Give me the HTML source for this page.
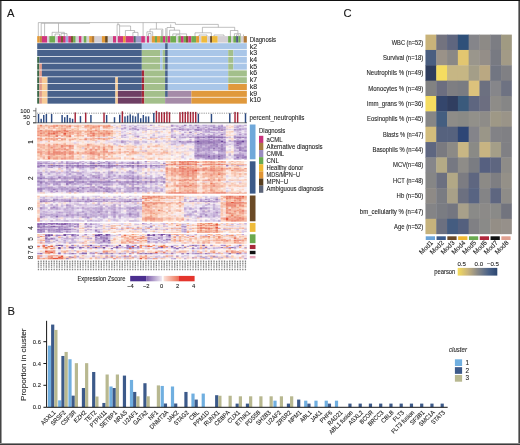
<!DOCTYPE html>
<html><head><meta charset="utf-8"><style>
html,body{margin:0;padding:0;background:#fff;}
svg{display:block;will-change:transform;}
text{stroke:#2a2a2a;stroke-width:0.1px;}
</style></head><body>
<svg width="520" height="445" viewBox="0 0 520 445" font-family='"Liberation Sans", sans-serif'>
<rect width="520" height="445" fill="#fff"/>
<rect x="37.2" y="36.1" width="2.45" height="6.5" fill="#e39a36"/>
<rect x="39.6" y="36.1" width="2.35" height="6.5" fill="#c08a40"/>
<rect x="41.9" y="36.1" width="5.35" height="6.5" fill="#d0357e"/>
<rect x="47.2" y="36.1" width="2.15" height="6.5" fill="#d4cfd4"/>
<rect x="49.3" y="36.1" width="5.85" height="6.5" fill="#70ab50"/>
<rect x="55.1" y="36.1" width="2.75" height="6.5" fill="#d4cfd4"/>
<rect x="57.8" y="36.1" width="3.15" height="6.5" fill="#d0357e"/>
<rect x="60.9" y="36.1" width="2.15" height="6.5" fill="#7a5a30"/>
<rect x="63" y="36.1" width="2.75" height="6.5" fill="#d0357e"/>
<rect x="65.7" y="36.1" width="2.65" height="6.5" fill="#a2a6d8"/>
<rect x="68.3" y="36.1" width="2.75" height="6.5" fill="#d0357e"/>
<rect x="71" y="36.1" width="2.15" height="6.5" fill="#7a5a30"/>
<rect x="73.1" y="36.1" width="2.65" height="6.5" fill="#70ab50"/>
<rect x="75.7" y="36.1" width="3.25" height="6.5" fill="#d4cfd4"/>
<rect x="78.9" y="36.1" width="2.75" height="6.5" fill="#d0357e"/>
<rect x="81.6" y="36.1" width="2.15" height="6.5" fill="#d4cfd4"/>
<rect x="83.7" y="36.1" width="2.95" height="6.5" fill="#70ab50"/>
<rect x="86.6" y="36.1" width="2.65" height="6.5" fill="#d4cfd4"/>
<rect x="89.2" y="36.1" width="2.75" height="6.5" fill="#e39a36"/>
<rect x="91.9" y="36.1" width="2.65" height="6.5" fill="#b07a3a"/>
<rect x="94.5" y="36.1" width="7.45" height="6.5" fill="#d4cfd4"/>
<rect x="101.9" y="36.1" width="3.25" height="6.5" fill="#e39a36"/>
<rect x="105.1" y="36.1" width="2.75" height="6.5" fill="#6b4a20"/>
<rect x="107.8" y="36.1" width="5.25" height="6.5" fill="#d4cfd4"/>
<rect x="113" y="36.1" width="3.25" height="6.5" fill="#d0357e"/>
<rect x="116.2" y="36.1" width="1.65" height="6.5" fill="#d4cfd4"/>
<rect x="117.8" y="36.1" width="5.35" height="6.5" fill="#d0357e"/>
<rect x="123.1" y="36.1" width="2.65" height="6.5" fill="#e39a36"/>
<rect x="125.7" y="36.1" width="8.05" height="6.5" fill="#d0357e"/>
<rect x="133.7" y="36.1" width="2.15" height="6.5" fill="#4a6a6a"/>
<rect x="135.8" y="36.1" width="5.45" height="6.5" fill="#a09ac8"/>
<rect x="141.2" y="36.1" width="3.75" height="6.5" fill="#d0357e"/>
<rect x="144.9" y="36.1" width="2.15" height="6.5" fill="#d4cfd4"/>
<rect x="147" y="36.1" width="2.15" height="6.5" fill="#d0357e"/>
<rect x="149.1" y="36.1" width="2.75" height="6.5" fill="#d4cfd4"/>
<rect x="151.8" y="36.1" width="3.15" height="6.5" fill="#e39a36"/>
<rect x="154.9" y="36.1" width="2.15" height="6.5" fill="#70ab50"/>
<rect x="157" y="36.1" width="3.25" height="6.5" fill="#e39a36"/>
<rect x="160.2" y="36.1" width="2.75" height="6.5" fill="#70ab50"/>
<rect x="162.9" y="36.1" width="2.65" height="6.5" fill="#d0357e"/>
<rect x="165.5" y="36.1" width="2.15" height="6.5" fill="#70ab50"/>
<rect x="167.6" y="36.1" width="2.75" height="6.5" fill="#d0357e"/>
<rect x="170.3" y="36.1" width="5.85" height="6.5" fill="#70ab50"/>
<rect x="176.1" y="36.1" width="2.25" height="6.5" fill="#d4cfd4"/>
<rect x="178.3" y="36.1" width="2.65" height="6.5" fill="#70ab50"/>
<rect x="180.9" y="36.1" width="2.85" height="6.5" fill="#d0357e"/>
<rect x="183.7" y="36.1" width="2.35" height="6.5" fill="#70ab50"/>
<rect x="186" y="36.1" width="2.35" height="6.5" fill="#7a5a30"/>
<rect x="188.3" y="36.1" width="3.05" height="6.5" fill="#d0357e"/>
<rect x="191.3" y="36.1" width="4.85" height="6.5" fill="#70ab50"/>
<rect x="196.1" y="36.1" width="2.95" height="6.5" fill="#e39a36"/>
<rect x="199" y="36.1" width="2.35" height="6.5" fill="#d4cfd4"/>
<rect x="201.3" y="36.1" width="6.05" height="6.5" fill="#efba3c"/>
<rect x="207.3" y="36.1" width="2.95" height="6.5" fill="#d4cfd4"/>
<rect x="210.2" y="36.1" width="1.75" height="6.5" fill="#5a3a14"/>
<rect x="211.9" y="36.1" width="5.85" height="6.5" fill="#efba3c"/>
<rect x="217.7" y="36.1" width="10.45" height="6.5" fill="#d4cfd4"/>
<rect x="228.1" y="36.1" width="2.95" height="6.5" fill="#70ab50"/>
<rect x="231" y="36.1" width="2.35" height="6.5" fill="#d4cfd4"/>
<rect x="233.3" y="36.1" width="2.85" height="6.5" fill="#70ab50"/>
<rect x="236.1" y="36.1" width="2.35" height="6.5" fill="#505a80"/>
<rect x="238.4" y="36.1" width="2.35" height="6.5" fill="#70ab50"/>
<rect x="240.7" y="36.1" width="2.95" height="6.5" fill="#d4cfd4"/>
<rect x="243.6" y="36.1" width="3.25" height="6.5" fill="#b07a3a"/>
<rect x="37.2" y="43.2" width="104.65" height="6.05" fill="#48618b"/>
<rect x="141.8" y="43.2" width="23.35" height="6.05" fill="#a9c6e8"/>
<rect x="165.1" y="43.2" width="2.75" height="6.05" fill="#48618b"/>
<rect x="167.8" y="43.2" width="79.05" height="6.05" fill="#a9c6e8"/>
<rect x="37.2" y="50" width="104.65" height="6.05" fill="#48618b"/>
<rect x="141.8" y="50" width="18.35" height="6.05" fill="#a3bf8b"/>
<rect x="160.1" y="50" width="2.55" height="6.05" fill="#a9c6e8"/>
<rect x="162.6" y="50" width="2.55" height="6.05" fill="#a3bf8b"/>
<rect x="165.1" y="50" width="2.75" height="6.05" fill="#48618b"/>
<rect x="167.8" y="50" width="60.45" height="6.05" fill="#a9c6e8"/>
<rect x="228.2" y="50" width="5.25" height="6.05" fill="#a3bf8b"/>
<rect x="233.4" y="50" width="13.45" height="6.05" fill="#a9c6e8"/>
<rect x="37.2" y="56.8" width="2.15" height="6.05" fill="#3a6747"/>
<rect x="39.3" y="56.8" width="102.55" height="6.05" fill="#48618b"/>
<rect x="141.8" y="56.8" width="18.35" height="6.05" fill="#a3bf8b"/>
<rect x="160.1" y="56.8" width="2.55" height="6.05" fill="#a9c6e8"/>
<rect x="162.6" y="56.8" width="2.55" height="6.05" fill="#a3bf8b"/>
<rect x="165.1" y="56.8" width="2.75" height="6.05" fill="#48618b"/>
<rect x="167.8" y="56.8" width="60.45" height="6.05" fill="#a9c6e8"/>
<rect x="228.2" y="56.8" width="5.25" height="6.05" fill="#a3bf8b"/>
<rect x="233.4" y="56.8" width="13.45" height="6.05" fill="#a9c6e8"/>
<rect x="37.2" y="63.6" width="2.15" height="6.05" fill="#3a6747"/>
<rect x="39.3" y="63.6" width="2.65" height="6.05" fill="#e09a8a"/>
<rect x="41.9" y="63.6" width="99.95" height="6.05" fill="#48618b"/>
<rect x="141.8" y="63.6" width="18.35" height="6.05" fill="#a3bf8b"/>
<rect x="160.1" y="63.6" width="2.55" height="6.05" fill="#a9c6e8"/>
<rect x="162.6" y="63.6" width="2.55" height="6.05" fill="#a3bf8b"/>
<rect x="165.1" y="63.6" width="2.75" height="6.05" fill="#48618b"/>
<rect x="167.8" y="63.6" width="60.45" height="6.05" fill="#a9c6e8"/>
<rect x="228.2" y="63.6" width="5.25" height="6.05" fill="#a3bf8b"/>
<rect x="233.4" y="63.6" width="13.45" height="6.05" fill="#a9c6e8"/>
<rect x="37.2" y="70.4" width="2.15" height="6.05" fill="#3a6747"/>
<rect x="39.3" y="70.4" width="2.65" height="6.05" fill="#e09a8a"/>
<rect x="41.9" y="70.4" width="99.95" height="6.05" fill="#48618b"/>
<rect x="141.8" y="70.4" width="2.55" height="6.05" fill="#a6283a"/>
<rect x="144.3" y="70.4" width="20.85" height="6.05" fill="#a3bf8b"/>
<rect x="165.1" y="70.4" width="2.75" height="6.05" fill="#48618b"/>
<rect x="167.8" y="70.4" width="60.45" height="6.05" fill="#a9c6e8"/>
<rect x="228.2" y="70.4" width="18.65" height="6.05" fill="#a3bf8b"/>
<rect x="37.2" y="77.2" width="2.15" height="6.05" fill="#3a6747"/>
<rect x="39.3" y="77.2" width="2.65" height="6.05" fill="#e09a8a"/>
<rect x="41.9" y="77.2" width="5.65" height="6.05" fill="#f6cb97"/>
<rect x="47.5" y="77.2" width="67.95" height="6.05" fill="#48618b"/>
<rect x="115.4" y="77.2" width="2.55" height="6.05" fill="#f6cb97"/>
<rect x="117.9" y="77.2" width="23.95" height="6.05" fill="#48618b"/>
<rect x="141.8" y="77.2" width="2.55" height="6.05" fill="#a6283a"/>
<rect x="144.3" y="77.2" width="20.85" height="6.05" fill="#a3bf8b"/>
<rect x="165.1" y="77.2" width="2.75" height="6.05" fill="#48618b"/>
<rect x="167.8" y="77.2" width="60.45" height="6.05" fill="#a9c6e8"/>
<rect x="228.2" y="77.2" width="18.65" height="6.05" fill="#a3bf8b"/>
<rect x="37.2" y="84" width="2.15" height="6.05" fill="#3a6747"/>
<rect x="39.3" y="84" width="2.65" height="6.05" fill="#e09a8a"/>
<rect x="41.9" y="84" width="5.65" height="6.05" fill="#f6cb97"/>
<rect x="47.5" y="84" width="67.95" height="6.05" fill="#48618b"/>
<rect x="115.4" y="84" width="2.55" height="6.05" fill="#f6cb97"/>
<rect x="117.9" y="84" width="23.95" height="6.05" fill="#48618b"/>
<rect x="141.8" y="84" width="2.55" height="6.05" fill="#a6283a"/>
<rect x="144.3" y="84" width="20.85" height="6.05" fill="#a3bf8b"/>
<rect x="165.1" y="84" width="2.75" height="6.05" fill="#48618b"/>
<rect x="167.8" y="84" width="60.45" height="6.05" fill="#a9c6e8"/>
<rect x="228.2" y="84" width="18.65" height="6.05" fill="#e0993c"/>
<rect x="37.2" y="90.8" width="2.15" height="6.05" fill="#3a6747"/>
<rect x="39.3" y="90.8" width="2.65" height="6.05" fill="#e09a8a"/>
<rect x="41.9" y="90.8" width="5.65" height="6.05" fill="#f6cb97"/>
<rect x="47.5" y="90.8" width="67.95" height="6.05" fill="#48618b"/>
<rect x="115.4" y="90.8" width="2.55" height="6.05" fill="#f6cb97"/>
<rect x="117.9" y="90.8" width="23.95" height="6.05" fill="#6e3f64"/>
<rect x="141.8" y="90.8" width="2.55" height="6.05" fill="#a6283a"/>
<rect x="144.3" y="90.8" width="20.85" height="6.05" fill="#a3bf8b"/>
<rect x="165.1" y="90.8" width="2.75" height="6.05" fill="#48618b"/>
<rect x="167.8" y="90.8" width="23.65" height="6.05" fill="#a58ba8"/>
<rect x="191.4" y="90.8" width="55.45" height="6.05" fill="#e0993c"/>
<rect x="37.2" y="97.6" width="2.15" height="6.05" fill="#3a6747"/>
<rect x="39.3" y="97.6" width="2.65" height="6.05" fill="#e09a8a"/>
<rect x="41.9" y="97.6" width="5.65" height="6.05" fill="#f6cb97"/>
<rect x="47.5" y="97.6" width="67.95" height="6.05" fill="#48618b"/>
<rect x="115.4" y="97.6" width="2.55" height="6.05" fill="#f6cb97"/>
<rect x="117.9" y="97.6" width="23.95" height="6.05" fill="#6e3f64"/>
<rect x="141.8" y="97.6" width="2.55" height="6.05" fill="#a6283a"/>
<rect x="144.3" y="97.6" width="20.85" height="6.05" fill="#a3bf8b"/>
<rect x="165.1" y="97.6" width="26.35" height="6.05" fill="#a58ba8"/>
<rect x="191.4" y="97.6" width="55.45" height="6.05" fill="#e0993c"/>
<text x="249.8" y="41.6" font-size="6.6" fill="#222" textLength="26.2" lengthAdjust="spacingAndGlyphs">Diagnosis</text>
<text x="249.7" y="48.6" font-size="6.9" fill="#222">k2</text>
<text x="249.7" y="55.3" font-size="6.9" fill="#222">k3</text>
<text x="249.7" y="62" font-size="6.9" fill="#222">k4</text>
<text x="249.7" y="68.7" font-size="6.9" fill="#222">k5</text>
<text x="249.7" y="75.4" font-size="6.9" fill="#222">k6</text>
<text x="249.7" y="82.1" font-size="6.9" fill="#222">k7</text>
<text x="249.7" y="88.8" font-size="6.9" fill="#222">k8</text>
<text x="249.7" y="95.5" font-size="6.9" fill="#222">k9</text>
<text x="249.7" y="102.2" font-size="6.9" fill="#222">k10</text>
<path fill="none" stroke="#969696" stroke-width="0.6" d="M38.3 36V22.6H175.4V24.4H218.3V27.3 M41.2 36V23.3H89.6V22.6 M44.6 36V23.3 M58.5 23.3V32.3 M52.1 36V32.3H64.3V36 M55 36V34H59.5V36 M61 36V33.6H67V36 M118 22.6V24.7 M117.1 36V24.7H119.6V36 M119.6 26H130.6V30.5 M125.4 36V30.5H134.6V32.4 M132.9 36V32.4H138V36 M143.1 22.6V36 M156.4 22.6V29.1 M150 31.8V29.1H162.8V36 M161.7 36V30 M146.9 36V31.8H152.7V36 M148.5 36V33.5H151V36 M170.7 24.4V27.5 M167 36V27.5H174.4V30.2 M165.8 36V28 M169.6 36V30.2H179.7V33.9 M172.8 36V33.9H186.6V36 M176 36V34.8H180V36 M202.4 32.8V27.3H234.7V30.5 M195 36V32.8H211.4V36 M199 36V35H207V36 M214 36V35H224V36 M230.4 36V30.5H237.9V33.7 M234.4 36V33.7H240.5V36 M236.5 36V34.8H239V36 M243.5 36V34.5"/>
<rect x="37.8" y="114" width="1.45" height="8.8" fill="#2c4a82"/>
<rect x="40.42" y="118.8" width="1.45" height="4" fill="#2c4a82"/>
<rect x="43.04" y="115" width="1.45" height="7.8" fill="#2c4a82"/>
<rect x="45.66" y="114" width="1.45" height="8.8" fill="#2c4a82"/>
<rect x="50.9" y="114" width="1.45" height="8.8" fill="#2c4a82"/>
<rect x="61.38" y="115" width="1.45" height="7.8" fill="#2c4a82"/>
<rect x="64" y="117.2" width="1.45" height="5.6" fill="#2c4a82"/>
<rect x="66.62" y="115" width="1.45" height="7.8" fill="#2c4a82"/>
<rect x="69.24" y="117.9" width="1.45" height="4.9" fill="#2c4a82"/>
<rect x="71.86" y="118.8" width="1.45" height="4" fill="#2c4a82"/>
<rect x="79.72" y="116.1" width="1.45" height="6.7" fill="#2c4a82"/>
<rect x="90.2" y="115" width="1.45" height="7.8" fill="#2c4a82"/>
<rect x="105.92" y="115" width="1.45" height="7.8" fill="#2c4a82"/>
<rect x="113.78" y="117.2" width="1.45" height="5.6" fill="#2c4a82"/>
<rect x="119.02" y="114.7" width="1.45" height="8.1" fill="#2c4a82"/>
<rect x="124.26" y="116.4" width="1.45" height="6.4" fill="#2c4a82"/>
<rect x="126.88" y="115.6" width="1.45" height="7.2" fill="#2c4a82"/>
<rect x="129.5" y="114.3" width="1.45" height="8.5" fill="#2c4a82"/>
<rect x="132.12" y="115.6" width="1.45" height="7.2" fill="#2c4a82"/>
<rect x="134.74" y="116.4" width="1.45" height="6.4" fill="#2c4a82"/>
<rect x="137.36" y="113.3" width="1.45" height="9.5" fill="#2c4a82"/>
<rect x="139.98" y="118.2" width="1.45" height="4.6" fill="#2c4a82"/>
<rect x="142.6" y="115" width="1.45" height="7.8" fill="#2c4a82"/>
<rect x="145.22" y="116.4" width="1.45" height="6.4" fill="#2c4a82"/>
<rect x="147.84" y="116.4" width="1.45" height="6.4" fill="#2c4a82"/>
<rect x="153.08" y="112.9" width="1.45" height="9.9" fill="#2c4a82"/>
<rect x="197.62" y="113.7" width="1.45" height="9.1" fill="#2c4a82"/>
<rect x="210.72" y="114" width="1.45" height="8.8" fill="#2c4a82"/>
<rect x="229.06" y="113.3" width="1.45" height="9.5" fill="#2c4a82"/>
<rect x="244.78" y="113.3" width="1.45" height="9.5" fill="#2c4a82"/>
<rect x="74.48" y="112.4" width="1.45" height="10.4" fill="#a82438"/>
<rect x="84.96" y="112.6" width="1.45" height="10.2" fill="#a82438"/>
<rect x="103.3" y="112.6" width="1.45" height="10.2" fill="#a82438"/>
<rect x="121.64" y="111.3" width="1.45" height="11.5" fill="#a82438"/>
<rect x="155.7" y="110.8" width="1.45" height="12" fill="#a82438"/>
<rect x="158.32" y="112.2" width="1.45" height="10.6" fill="#a82438"/>
<rect x="160.94" y="112.2" width="1.45" height="10.6" fill="#a82438"/>
<rect x="163.56" y="112.2" width="1.45" height="10.6" fill="#a82438"/>
<rect x="166.18" y="111.6" width="1.45" height="11.2" fill="#a82438"/>
<rect x="168.8" y="112.2" width="1.45" height="10.6" fill="#a82438"/>
<rect x="179.28" y="112.2" width="1.45" height="10.6" fill="#a82438"/>
<rect x="181.9" y="111.9" width="1.45" height="10.9" fill="#a82438"/>
<rect x="184.52" y="111.9" width="1.45" height="10.9" fill="#a82438"/>
<rect x="187.14" y="111.6" width="1.45" height="11.2" fill="#a82438"/>
<rect x="189.76" y="111.9" width="1.45" height="10.9" fill="#a82438"/>
<rect x="192.38" y="111.9" width="1.45" height="10.9" fill="#a82438"/>
<rect x="195" y="111.9" width="1.45" height="10.9" fill="#a82438"/>
<rect x="234.3" y="111.9" width="1.45" height="10.9" fill="#a82438"/>
<rect x="236.92" y="112.2" width="1.45" height="10.6" fill="#a82438"/>
<line x1="37" y1="113.2" x2="246.8" y2="113.2" stroke="#333" stroke-width="0.7" stroke-dasharray="0.7 1.1"/>
<path fill="none" stroke="#444" stroke-width="0.7" d="M35.9 107.8V122.8M33 110.8H35.9M33 116.5H35.9M33 122.8H35.9"/>
<line x1="33" y1="122.8" x2="247" y2="122.8" stroke="#333" stroke-width="0.7"/>
<text x="29.9" y="112.9" font-size="6.0" fill="#222" text-anchor="end" textLength="9.6" lengthAdjust="spacingAndGlyphs">100</text>
<text x="29.9" y="118.7" font-size="6.0" fill="#222" text-anchor="end">50</text>
<text x="29.9" y="124.5" font-size="6.0" fill="#222" text-anchor="end">0</text>
<text x="249.5" y="120" font-size="6.9" fill="#222" textLength="55" lengthAdjust="spacingAndGlyphs">percent_neutrophils</text>
<filter id="bl" x="0" y="0" width="1" height="1"><feGaussianBlur stdDeviation="0.4 0.3"/></filter>
<g filter="url(#bl)">
<g transform="translate(37.2 124.8) scale(2.6200 0.9886)">
<path fill="#f4ac8c" d="M0 0h1v1h-1zM18 0h1v1h-1zM26 0h1v1h-1zM4 1h1v1h-1zM19 1h1v1h-1zM28 1h1v1h-1zM8 2h1v1h-1zM19 2h1v1h-1zM2 3h1v1h-1zM11 3h1v1h-1zM22 3h1v1h-1zM27 3h1v1h-1zM9 4h1v1h-1zM8 5h1v1h-1zM13 6h1v1h-1zM8 7h1v1h-1zM16 7h1v1h-1zM27 7h1v1h-1zM9 8h1v1h-1zM16 8h1v1h-1zM7 9h1v1h-1zM9 10h1v1h-1zM24 10h1v1h-1zM14 13h1v1h-1zM24 14h1v1h-1zM13 15h1v1h-1zM6 19h1v1h-1zM8 20h1v1h-1zM19 21h1v1h-1zM27 21h2v1h-2zM0 22h1v1h-1zM33 22h1v1h-1zM36 22h1v1h-1zM1 23h1v1h-1zM4 23h1v1h-1zM28 23h1v1h-1zM34 24h1v1h-1zM23 25h1v1h-1zM41 25h1v1h-1zM4 26h1v1h-1zM12 26h1v1h-1zM16 27h1v1h-1zM30 27h1v1h-1zM43 27h1v1h-1zM29 28h1v1h-1zM50 29h1v1h-1zM3 32h1v1h-1zM28 33h1v1h-1zM2 34h1v1h-1zM8 34h1v1h-1zM16 34h1v1h-1zM37 34h1v1h-1z"/>
<path fill="#ec8464" d="M1 0h1v1h-1zM7 0h1v1h-1zM19 0h1v1h-1zM27 0h1v1h-1zM1 1h1v1h-1zM21 1h1v1h-1zM12 5h1v1h-1zM28 6h1v1h-1zM12 7h1v1h-1zM2 8h1v1h-1zM4 10h1v1h-1zM12 10h1v1h-1zM27 10h1v1h-1zM22 13h1v1h-1zM27 13h1v1h-1zM12 15h1v1h-1zM25 22h1v1h-1zM12 23h1v1h-1zM7 24h1v1h-1zM11 24h1v1h-1zM25 24h1v1h-1zM1 25h1v1h-1zM4 25h1v1h-1zM25 25h1v1h-1zM11 27h1v1h-1zM49 27h1v1h-1zM7 28h1v1h-1zM2 29h1v1h-1zM17 29h1v1h-1zM26 29h1v1h-1zM10 30h1v1h-1zM25 30h1v1h-1zM13 31h1v1h-1zM5 33h1v1h-1zM7 33h1v1h-1zM10 33h1v1h-1zM22 34h1v1h-1z"/>
<path fill="#fcccb4" d="M2 0h1v1h-1zM13 0h1v1h-1zM13 1h1v1h-1zM30 1h1v1h-1zM48 1h1v1h-1zM72 1h1v1h-1zM28 2h2v1h-2zM7 4h1v1h-1zM16 5h1v1h-1zM27 5h1v1h-1zM30 6h1v1h-1zM73 6h1v1h-1zM72 7h1v1h-1zM20 9h1v1h-1zM74 10h1v1h-1zM50 11h1v1h-1zM1 12h1v1h-1zM13 13h1v1h-1zM31 13h1v1h-1zM41 13h1v1h-1zM49 13h2v1h-2zM17 14h1v1h-1zM27 14h1v1h-1zM50 14h1v1h-1zM15 15h1v1h-1zM49 15h1v1h-1zM72 15h1v1h-1zM6 16h1v1h-1zM10 18h1v1h-1zM1 19h1v1h-1zM5 20h1v1h-1zM16 20h1v1h-1zM40 21h1v1h-1zM46 21h1v1h-1zM18 22h1v1h-1zM31 22h1v1h-1zM58 22h1v1h-1zM39 23h1v1h-1zM16 24h1v1h-1zM43 24h1v1h-1zM45 24h1v1h-1zM5 25h1v1h-1zM18 25h2v1h-2zM24 25h1v1h-1zM57 27h1v1h-1zM30 28h1v1h-1zM36 28h1v1h-1zM40 28h1v1h-1zM42 28h1v1h-1zM53 28h1v1h-1zM31 29h1v1h-1zM40 30h1v1h-1zM45 30h1v1h-1zM8 31h1v1h-1zM0 32h1v1h-1zM16 32h1v1h-1zM28 32h1v1h-1zM29 33h1v1h-1zM33 33h1v1h-1zM72 34h1v1h-1z"/>
<path fill="#ec8c6c" d="M3 0h1v1h-1zM11 1h1v1h-1zM14 1h2v1h-2zM22 1h1v1h-1zM3 5h1v1h-1zM5 5h1v1h-1zM25 5h1v1h-1zM18 6h1v1h-1zM4 7h1v1h-1zM20 7h1v1h-1zM26 7h1v1h-1zM12 8h1v1h-1zM23 8h1v1h-1zM25 8h1v1h-1zM19 9h1v1h-1zM27 9h1v1h-1zM8 10h1v1h-1zM5 13h1v1h-1zM7 13h1v1h-1zM16 14h1v1h-1zM0 15h1v1h-1zM7 15h1v1h-1zM10 15h1v1h-1zM0 19h1v1h-1zM19 19h1v1h-1zM9 20h1v1h-1zM13 22h1v1h-1zM27 22h1v1h-1zM12 24h1v1h-1zM21 24h1v1h-1zM23 24h1v1h-1zM31 24h1v1h-1zM10 25h1v1h-1zM45 27h2v1h-2zM48 27h1v1h-1zM1 28h1v1h-1zM4 28h1v1h-1zM21 28h1v1h-1zM31 28h1v1h-1zM27 29h1v1h-1zM37 29h1v1h-1zM23 31h1v1h-1zM7 32h1v1h-1zM10 32h1v1h-1zM6 33h1v1h-1zM0 34h1v1h-1zM25 34h1v1h-1z"/>
<path fill="#f4bca4" d="M4 0h1v1h-1zM17 0h1v1h-1zM17 2h1v1h-1zM27 2h1v1h-1zM18 3h1v1h-1zM3 4h1v1h-1zM19 4h1v1h-1zM24 5h1v1h-1zM19 7h1v1h-1zM31 8h1v1h-1zM11 9h1v1h-1zM14 11h1v1h-1zM24 11h1v1h-1zM49 11h1v1h-1zM15 13h1v1h-1zM19 13h1v1h-1zM44 13h1v1h-1zM4 16h1v1h-1zM9 16h1v1h-1zM4 17h1v1h-1zM13 18h1v1h-1zM14 19h1v1h-1zM48 20h1v1h-1zM1 21h1v1h-1zM26 21h1v1h-1zM17 22h1v1h-1zM20 22h1v1h-1zM19 23h1v1h-1zM24 23h1v1h-1zM3 24h1v1h-1zM29 24h2v1h-2zM47 24h1v1h-1zM27 25h1v1h-1zM36 25h1v1h-1zM8 26h1v1h-1zM10 26h1v1h-1zM18 26h1v1h-1zM33 26h1v1h-1zM41 27h1v1h-1zM74 29h1v1h-1zM0 30h1v1h-1zM16 30h1v1h-1zM21 30h1v1h-1zM0 31h1v1h-1zM11 31h1v1h-1zM19 32h1v1h-1zM44 32h1v1h-1zM24 33h1v1h-1zM31 34h1v1h-1zM33 34h1v1h-1zM44 34h1v1h-1zM52 34h1v1h-1z"/>
<path fill="#fcc4ac" d="M5 0h1v1h-1zM14 0h1v1h-1zM16 0h1v1h-1zM24 1h1v1h-1zM47 1h1v1h-1zM74 1h1v1h-1zM1 2h2v1h-2zM73 2h1v1h-1zM1 3h1v1h-1zM19 3h1v1h-1zM28 3h1v1h-1zM22 4h1v1h-1zM17 5h1v1h-1zM20 5h1v1h-1zM29 6h1v1h-1zM41 6h1v1h-1zM47 6h1v1h-1zM14 7h1v1h-1zM40 7h1v1h-1zM5 10h1v1h-1zM14 10h1v1h-1zM0 11h1v1h-1zM16 11h1v1h-1zM4 12h1v1h-1zM11 12h1v1h-1zM21 12h1v1h-1zM48 13h1v1h-1zM39 14h1v1h-1zM22 15h1v1h-1zM25 15h1v1h-1zM27 15h1v1h-1zM31 15h1v1h-1zM36 15h1v1h-1zM0 16h2v1h-2zM9 18h1v1h-1zM12 18h1v1h-1zM22 18h1v1h-1zM27 18h1v1h-1zM2 19h1v1h-1zM3 20h1v1h-1zM20 21h1v1h-1zM16 22h1v1h-1zM3 23h1v1h-1zM16 23h1v1h-1zM35 23h1v1h-1zM37 23h1v1h-1zM1 24h1v1h-1zM19 24h1v1h-1zM24 24h1v1h-1zM33 24h1v1h-1zM39 24h1v1h-1zM39 25h2v1h-2zM0 26h1v1h-1zM21 26h2v1h-2zM50 27h1v1h-1zM56 27h1v1h-1zM35 28h1v1h-1zM38 28h1v1h-1zM43 28h1v1h-1zM47 28h1v1h-1zM72 28h1v1h-1zM30 29h1v1h-1zM33 29h1v1h-1zM49 29h1v1h-1zM16 31h1v1h-1zM31 31h1v1h-1zM42 31h1v1h-1zM9 32h1v1h-1zM11 32h1v1h-1zM22 32h1v1h-1zM33 32h1v1h-1zM46 33h1v1h-1zM30 34h1v1h-1zM35 34h1v1h-1zM40 34h1v1h-1zM49 34h1v1h-1z"/>
<path fill="#f49474" d="M6 0h1v1h-1zM10 0h1v1h-1zM4 5h1v1h-1zM9 5h1v1h-1zM15 6h1v1h-1zM19 6h1v1h-1zM0 7h1v1h-1zM8 8h1v1h-1zM11 8h1v1h-1zM13 8h1v1h-1zM28 8h1v1h-1zM23 9h1v1h-1zM15 10h1v1h-1zM5 11h1v1h-1zM21 11h1v1h-1zM18 13h1v1h-1zM28 13h1v1h-1zM5 14h1v1h-1zM7 14h1v1h-1zM13 14h1v1h-1zM18 15h1v1h-1zM20 15h1v1h-1zM4 19h1v1h-1zM27 20h1v1h-1zM7 21h1v1h-1zM1 22h1v1h-1zM11 22h1v1h-1zM19 22h1v1h-1zM22 22h1v1h-1zM9 23h1v1h-1zM4 24h1v1h-1zM22 24h1v1h-1zM26 25h1v1h-1zM28 25h1v1h-1zM31 25h1v1h-1zM25 28h1v1h-1zM11 29h1v1h-1zM28 29h1v1h-1zM36 29h1v1h-1zM4 31h1v1h-1zM12 31h1v1h-1zM8 32h1v1h-1zM26 32h1v1h-1zM11 34h1v1h-1zM19 34h1v1h-1z"/>
<path fill="#f49c7c" d="M8 0h2v1h-2zM12 0h1v1h-1zM20 0h1v1h-1zM4 2h1v1h-1zM6 2h1v1h-1zM20 2h1v1h-1zM22 2h1v1h-1zM9 3h1v1h-1zM26 3h1v1h-1zM19 5h1v1h-1zM21 5h1v1h-1zM2 6h2v1h-2zM22 6h1v1h-1zM3 7h1v1h-1zM10 7h1v1h-1zM23 7h1v1h-1zM0 8h1v1h-1zM1 9h1v1h-1zM3 9h1v1h-1zM12 9h1v1h-1zM22 9h1v1h-1zM2 10h1v1h-1zM11 10h1v1h-1zM16 10h1v1h-1zM6 11h1v1h-1zM19 11h1v1h-1zM1 13h1v1h-1zM3 13h1v1h-1zM24 13h1v1h-1zM43 13h1v1h-1zM45 13h1v1h-1zM1 14h1v1h-1zM3 14h1v1h-1zM6 14h1v1h-1zM20 14h1v1h-1zM23 14h1v1h-1zM5 15h1v1h-1zM7 19h1v1h-1zM25 19h1v1h-1zM7 20h1v1h-1zM10 20h2v1h-2zM21 20h1v1h-1zM0 21h1v1h-1zM11 21h1v1h-1zM18 21h1v1h-1zM23 21h1v1h-1zM43 21h1v1h-1zM2 22h1v1h-1zM10 22h1v1h-1zM45 22h1v1h-1zM23 23h1v1h-1zM5 24h1v1h-1zM26 24h1v1h-1zM28 24h1v1h-1zM36 24h1v1h-1zM35 25h1v1h-1zM6 26h1v1h-1zM5 27h1v1h-1zM19 27h1v1h-1zM23 27h1v1h-1zM27 27h1v1h-1zM35 27h1v1h-1zM38 27h1v1h-1zM40 27h1v1h-1zM42 27h1v1h-1zM44 27h1v1h-1zM11 28h1v1h-1zM15 28h1v1h-1zM28 28h1v1h-1zM15 29h1v1h-1zM35 29h1v1h-1zM13 30h1v1h-1zM22 30h1v1h-1zM27 30h1v1h-1zM1 31h1v1h-1zM26 31h1v1h-1zM3 34h1v1h-1zM23 34h1v1h-1zM47 34h1v1h-1z"/>
<path fill="#f4b49c" d="M11 0h1v1h-1zM22 0h1v1h-1zM0 1h1v1h-1zM2 1h1v1h-1zM9 2h1v1h-1zM15 2h1v1h-1zM23 3h1v1h-1zM15 4h1v1h-1zM2 5h1v1h-1zM7 5h1v1h-1zM23 5h1v1h-1zM26 5h1v1h-1zM28 5h1v1h-1zM12 6h1v1h-1zM31 6h1v1h-1zM74 6h1v1h-1zM16 9h1v1h-1zM22 10h1v1h-1zM17 11h1v1h-1zM26 11h1v1h-1zM6 12h1v1h-1zM40 13h1v1h-1zM19 14h1v1h-1zM21 14h1v1h-1zM26 15h1v1h-1zM50 15h1v1h-1zM0 17h1v1h-1zM18 20h1v1h-1zM8 21h1v1h-1zM21 21h1v1h-1zM32 21h1v1h-1zM36 21h1v1h-1zM54 21h1v1h-1zM15 22h1v1h-1zM24 22h1v1h-1zM30 22h1v1h-1zM32 22h1v1h-1zM38 22h2v1h-2zM10 23h1v1h-1zM21 25h1v1h-1zM1 26h1v1h-1zM11 26h1v1h-1zM54 29h1v1h-1zM56 29h1v1h-1zM4 30h2v1h-2zM9 30h1v1h-1zM18 32h1v1h-1zM23 32h1v1h-1zM54 32h1v1h-1zM23 33h1v1h-1zM30 33h1v1h-1zM28 34h1v1h-1zM38 34h1v1h-1z"/>
<path fill="#f4ac94" d="M15 0h1v1h-1zM21 0h1v1h-1zM23 0h1v1h-1zM10 4h1v1h-1zM0 5h1v1h-1zM11 5h1v1h-1zM13 5h1v1h-1zM21 6h1v1h-1zM15 7h1v1h-1zM21 7h1v1h-1zM17 8h1v1h-1zM35 8h1v1h-1zM26 9h1v1h-1zM26 10h1v1h-1zM20 13h1v1h-1zM26 13h1v1h-1zM42 14h1v1h-1zM2 15h1v1h-1zM17 15h1v1h-1zM22 16h1v1h-1zM20 19h1v1h-1zM3 21h1v1h-1zM25 21h1v1h-1zM34 21h1v1h-1zM44 21h1v1h-1zM26 22h1v1h-1zM37 22h1v1h-1zM26 26h1v1h-1zM51 27h1v1h-1zM53 27h1v1h-1zM39 29h1v1h-1zM5 32h1v1h-1zM21 32h1v1h-1zM25 32h1v1h-1z"/>
<path fill="#f4a484" d="M24 0h1v1h-1zM10 1h1v1h-1zM20 1h1v1h-1zM11 2h1v1h-1zM23 2h1v1h-1zM12 3h1v1h-1zM20 3h2v1h-2zM25 3h1v1h-1zM0 4h1v1h-1zM13 4h1v1h-1zM20 4h1v1h-1zM1 7h1v1h-1zM5 7h1v1h-1zM11 7h1v1h-1zM24 7h2v1h-2zM14 8h1v1h-1zM19 8h1v1h-1zM15 9h1v1h-1zM18 9h1v1h-1zM24 9h1v1h-1zM23 10h1v1h-1zM2 11h1v1h-1zM15 11h1v1h-1zM4 13h1v1h-1zM6 13h1v1h-1zM25 13h1v1h-1zM0 14h1v1h-1zM4 14h1v1h-1zM14 14h1v1h-1zM8 15h2v1h-2zM8 19h1v1h-1zM15 19h1v1h-1zM13 20h1v1h-1zM20 20h1v1h-1zM17 21h1v1h-1zM42 21h1v1h-1zM7 22h1v1h-1zM47 22h1v1h-1zM8 23h1v1h-1zM13 23h1v1h-1zM2 24h1v1h-1zM12 25h1v1h-1zM47 25h1v1h-1zM5 26h1v1h-1zM13 26h1v1h-1zM19 26h1v1h-1zM36 26h1v1h-1zM47 27h1v1h-1zM0 28h1v1h-1zM3 28h1v1h-1zM10 28h1v1h-1zM19 28h1v1h-1zM22 28h2v1h-2zM37 28h1v1h-1zM49 28h1v1h-1zM16 29h1v1h-1zM45 29h1v1h-1zM1 30h1v1h-1zM7 31h1v1h-1zM25 31h1v1h-1zM28 31h1v1h-1zM1 32h1v1h-1zM6 32h1v1h-1zM20 32h1v1h-1zM21 33h1v1h-1zM36 33h1v1h-1zM29 34h1v1h-1zM39 34h1v1h-1zM42 34h2v1h-2zM58 34h1v1h-1z"/>
<path fill="#f4b494" d="M25 0h1v1h-1zM3 1h1v1h-1zM16 1h1v1h-1zM0 2h1v1h-1zM12 2h1v1h-1zM4 3h2v1h-2zM23 4h1v1h-1zM14 5h2v1h-2zM17 6h1v1h-1zM24 6h1v1h-1zM50 7h1v1h-1zM3 8h1v1h-1zM2 9h1v1h-1zM8 9h1v1h-1zM22 11h1v1h-1zM28 11h1v1h-1zM12 12h1v1h-1zM9 13h1v1h-1zM2 14h1v1h-1zM4 15h1v1h-1zM12 16h1v1h-1zM25 20h1v1h-1zM45 20h2v1h-2zM2 21h1v1h-1zM15 21h2v1h-2zM35 21h1v1h-1zM8 22h1v1h-1zM44 22h1v1h-1zM18 23h1v1h-1zM34 25h1v1h-1zM45 25h1v1h-1zM14 27h1v1h-1zM17 27h1v1h-1zM54 27h2v1h-2zM5 28h1v1h-1zM16 28h1v1h-1zM35 30h1v1h-1zM6 31h1v1h-1zM2 32h1v1h-1zM8 33h1v1h-1zM20 33h1v1h-1zM43 33h1v1h-1zM5 34h1v1h-1zM18 34h1v1h-1zM50 34h1v1h-1z"/>
<path fill="#ece4f4" d="M28 0h1v1h-1zM55 6h1v1h-1zM75 7h1v1h-1zM56 8h1v1h-1zM30 9h1v1h-1zM48 10h1v1h-1zM25 12h1v1h-1zM48 12h1v1h-1zM74 12h1v1h-1zM34 13h1v1h-1zM11 17h1v1h-1zM18 18h1v1h-1zM25 18h1v1h-1zM45 18h1v1h-1zM22 19h1v1h-1zM37 19h1v1h-1zM54 20h1v1h-1zM56 24h1v1h-1zM63 29h1v1h-1zM55 30h1v1h-1zM17 33h1v1h-1zM58 33h1v1h-1z"/>
<path fill="#d4c4e4" d="M29 0h1v1h-1zM39 0h2v1h-2zM44 0h1v1h-1zM55 0h1v1h-1zM32 1h1v1h-1zM56 1h1v1h-1zM63 1h1v1h-1zM36 2h1v1h-1zM38 2h1v1h-1zM62 2h1v1h-1zM65 2h1v1h-1zM31 3h1v1h-1zM39 3h1v1h-1zM51 3h1v1h-1zM34 5h1v1h-1zM53 5h1v1h-1zM79 5h1v1h-1zM60 6h1v1h-1zM75 6h1v1h-1zM41 7h1v1h-1zM45 7h1v1h-1zM37 8h1v1h-1zM63 8h1v1h-1zM76 8h1v1h-1zM37 9h1v1h-1zM57 9h1v1h-1zM62 9h1v1h-1zM37 10h1v1h-1zM52 10h2v1h-2zM61 10h1v1h-1zM75 10h1v1h-1zM48 11h1v1h-1zM78 11h1v1h-1zM41 12h1v1h-1zM44 12h1v1h-1zM54 13h2v1h-2zM32 15h1v1h-1zM73 15h1v1h-1zM43 16h1v1h-1zM47 16h1v1h-1zM34 18h1v1h-1zM41 18h1v1h-1zM72 18h1v1h-1zM38 19h1v1h-1zM50 19h1v1h-1zM53 19h1v1h-1zM42 23h1v1h-1zM53 23h1v1h-1zM49 26h1v1h-1zM58 26h1v1h-1zM71 27h1v1h-1zM75 28h1v1h-1zM68 29h1v1h-1zM34 31h1v1h-1zM39 31h1v1h-1zM53 32h1v1h-1zM56 33h1v1h-1zM60 34h1v1h-1z"/>
<path fill="#fcecec" d="M30 0h1v1h-1zM37 0h1v1h-1zM48 0h1v1h-1zM74 0h1v1h-1zM17 1h1v1h-1zM33 1h1v1h-1zM39 1h1v1h-1zM43 1h1v1h-1zM54 1h1v1h-1zM32 2h1v1h-1zM42 2h1v1h-1zM51 2h1v1h-1zM29 3h1v1h-1zM16 4h1v1h-1zM25 4h1v1h-1zM73 5h2v1h-2zM42 6h1v1h-1zM44 6h1v1h-1zM57 6h1v1h-1zM67 6h1v1h-1zM43 7h1v1h-1zM47 8h1v1h-1zM53 8h1v1h-1zM73 9h2v1h-2zM13 10h1v1h-1zM34 10h1v1h-1zM46 10h2v1h-2zM8 11h1v1h-1zM74 11h1v1h-1zM9 12h1v1h-1zM22 12h1v1h-1zM30 12h1v1h-1zM42 12h1v1h-1zM29 13h1v1h-1zM32 13h1v1h-1zM39 13h1v1h-1zM46 13h1v1h-1zM51 13h1v1h-1zM28 14h1v1h-1zM31 14h1v1h-1zM34 14h1v1h-1zM56 14h1v1h-1zM59 14h1v1h-1zM38 15h1v1h-1zM43 15h1v1h-1zM45 15h2v1h-2zM58 15h1v1h-1zM5 16h1v1h-1zM14 16h1v1h-1zM39 16h1v1h-1zM2 17h1v1h-1zM24 17h1v1h-1zM8 18h1v1h-1zM30 19h1v1h-1zM35 19h1v1h-1zM40 19h2v1h-2zM43 20h2v1h-2zM30 21h1v1h-1zM49 21h1v1h-1zM59 21h1v1h-1zM72 22h1v1h-1zM32 23h1v1h-1zM59 23h1v1h-1zM44 24h1v1h-1zM33 25h1v1h-1zM51 25h1v1h-1zM16 26h1v1h-1zM34 26h1v1h-1zM45 26h1v1h-1zM44 29h1v1h-1zM72 29h1v1h-1zM2 30h1v1h-1zM43 30h1v1h-1zM53 30h1v1h-1zM17 31h2v1h-2zM33 31h1v1h-1zM43 31h1v1h-1zM42 32h1v1h-1zM37 33h1v1h-1zM45 33h1v1h-1z"/>
<path fill="#fcdcd4" d="M31 0h1v1h-1zM50 1h1v1h-1zM35 2h1v1h-1zM24 3h1v1h-1zM52 5h1v1h-1zM35 6h1v1h-1zM46 6h1v1h-1zM72 6h1v1h-1zM29 7h1v1h-1zM47 7h1v1h-1zM75 9h1v1h-1zM0 12h1v1h-1zM5 12h1v1h-1zM16 12h1v1h-1zM20 12h1v1h-1zM2 13h1v1h-1zM35 13h1v1h-1zM14 15h1v1h-1zM23 15h1v1h-1zM21 16h1v1h-1zM8 17h1v1h-1zM12 17h1v1h-1zM4 18h1v1h-1zM20 18h1v1h-1zM28 18h1v1h-1zM13 19h1v1h-1zM26 19h1v1h-1zM26 20h1v1h-1zM57 21h1v1h-1zM52 22h1v1h-1zM59 22h1v1h-1zM6 23h1v1h-1zM30 25h1v1h-1zM52 27h1v1h-1zM32 28h1v1h-1zM48 29h1v1h-1zM52 29h1v1h-1zM58 29h1v1h-1zM36 30h1v1h-1zM14 31h1v1h-1zM24 34h1v1h-1zM32 34h1v1h-1zM59 34h1v1h-1z"/>
<path fill="#c4acdc" d="M32 0h1v1h-1zM38 0h1v1h-1zM46 0h1v1h-1zM59 2h1v1h-1zM67 3h1v1h-1zM41 5h1v1h-1zM33 6h1v1h-1zM54 6h1v1h-1zM59 6h1v1h-1zM65 10h1v1h-1zM54 11h1v1h-1zM63 11h1v1h-1zM29 12h1v1h-1zM60 20h1v1h-1zM67 29h1v1h-1zM76 29h1v1h-1zM55 33h1v1h-1z"/>
<path fill="#bc9cd4" d="M33 0h1v1h-1zM77 0h1v1h-1zM59 4h1v1h-1zM79 4h1v1h-1zM38 12h1v1h-1zM58 14h1v1h-1zM61 15h1v1h-1zM67 15h1v1h-1zM68 24h1v1h-1zM64 25h1v1h-1zM67 25h1v1h-1zM75 25h1v1h-1zM61 34h1v1h-1z"/>
<path fill="#e4dcec" d="M34 0h2v1h-2zM42 0h1v1h-1zM38 1h1v1h-1zM49 1h1v1h-1zM68 1h1v1h-1zM75 1h1v1h-1zM34 2h1v1h-1zM34 3h1v1h-1zM35 5h1v1h-1zM37 5h1v1h-1zM58 5h1v1h-1zM78 5h1v1h-1zM58 6h1v1h-1zM68 6h1v1h-1zM66 8h1v1h-1zM70 8h1v1h-1zM60 9h1v1h-1zM38 10h1v1h-1zM40 10h1v1h-1zM43 11h1v1h-1zM58 11h1v1h-1zM23 12h2v1h-2zM39 12h1v1h-1zM45 14h1v1h-1zM55 14h1v1h-1zM33 15h1v1h-1zM76 15h1v1h-1zM23 16h1v1h-1zM23 17h1v1h-1zM50 17h1v1h-1zM29 18h1v1h-1zM57 19h1v1h-1zM49 20h1v1h-1zM73 20h1v1h-1zM52 23h1v1h-1zM29 26h1v1h-1zM38 26h1v1h-1zM53 26h1v1h-1zM76 27h1v1h-1zM51 28h1v1h-1zM55 28h1v1h-1zM55 29h1v1h-1zM39 30h1v1h-1zM44 30h1v1h-1zM59 30h1v1h-1zM72 30h1v1h-1zM40 31h1v1h-1zM48 31h1v1h-1zM59 32h1v1h-1zM74 32h1v1h-1z"/>
<path fill="#ccb4dc" d="M36 0h1v1h-1zM52 0h2v1h-2zM30 2h1v1h-1zM45 2h1v1h-1zM53 3h1v1h-1zM45 4h2v1h-2zM61 7h1v1h-1zM76 7h1v1h-1zM59 8h1v1h-1zM67 8h1v1h-1zM69 8h1v1h-1zM79 8h1v1h-1zM76 9h1v1h-1zM79 10h1v1h-1zM32 11h1v1h-1zM47 11h1v1h-1zM77 11h1v1h-1zM40 12h1v1h-1zM46 12h1v1h-1zM63 13h1v1h-1zM69 13h1v1h-1zM54 14h1v1h-1zM79 14h1v1h-1zM62 15h1v1h-1zM26 16h1v1h-1zM33 16h1v1h-1zM35 16h1v1h-1zM15 17h1v1h-1zM30 17h1v1h-1zM43 17h1v1h-1zM72 17h3v1h-3zM57 18h1v1h-1zM46 19h1v1h-1zM51 20h1v1h-1zM78 21h1v1h-1zM49 23h1v1h-1zM51 23h1v1h-1zM53 24h1v1h-1zM72 26h1v1h-1zM62 28h1v1h-1zM73 29h1v1h-1zM78 29h1v1h-1zM55 31h1v1h-1zM73 31h1v1h-1zM17 32h1v1h-1zM74 33h1v1h-1zM68 34h1v1h-1z"/>
<path fill="#d4bcdc" d="M41 0h1v1h-1zM75 0h1v1h-1zM60 1h1v1h-1zM37 2h1v1h-1zM50 2h1v1h-1zM56 2h1v1h-1zM41 4h1v1h-1zM36 9h1v1h-1zM60 10h1v1h-1zM71 11h1v1h-1zM56 16h1v1h-1zM39 17h1v1h-1z"/>
<path fill="#a484c4" d="M43 0h1v1h-1zM61 0h1v1h-1zM70 0h1v1h-1zM37 3h1v1h-1zM65 3h1v1h-1zM62 4h1v1h-1zM68 4h1v1h-1zM57 5h1v1h-1zM64 5h1v1h-1zM64 11h1v1h-1zM75 11h1v1h-1zM72 12h1v1h-1zM67 13h1v1h-1zM75 13h1v1h-1zM69 14h1v1h-1zM71 14h1v1h-1zM32 16h1v1h-1zM66 16h1v1h-1zM58 18h1v1h-1zM75 18h1v1h-1zM70 19h1v1h-1zM78 19h2v1h-2zM70 20h1v1h-1zM63 21h1v1h-1zM65 21h1v1h-1zM68 21h2v1h-2zM75 21h1v1h-1zM62 22h1v1h-1zM67 22h2v1h-2zM64 23h1v1h-1zM63 24h1v1h-1zM69 24h1v1h-1zM71 25h1v1h-1zM68 26h1v1h-1zM64 28h1v1h-1zM66 28h1v1h-1zM78 28h1v1h-1zM62 29h1v1h-1zM68 30h1v1h-1zM71 31h1v1h-1zM60 32h1v1h-1zM68 32h1v1h-1zM70 32h1v1h-1zM78 32h1v1h-1zM63 33h1v1h-1zM77 33h1v1h-1zM67 34h1v1h-1z"/>
<path fill="#fcf4f4" d="M45 0h1v1h-1zM49 0h1v1h-1zM57 2h1v1h-1zM50 3h1v1h-1zM28 4h1v1h-1zM42 5h1v1h-1zM46 5h1v1h-1zM35 7h1v1h-1zM42 7h1v1h-1zM53 7h1v1h-1zM48 8h1v1h-1zM17 9h1v1h-1zM32 9h1v1h-1zM39 9h1v1h-1zM30 10h1v1h-1zM41 11h1v1h-1zM8 12h1v1h-1zM37 14h1v1h-1zM72 14h1v1h-1zM75 15h1v1h-1zM17 16h1v1h-1zM16 18h1v1h-1zM31 18h1v1h-1zM42 18h1v1h-1zM17 19h1v1h-1zM33 20h1v1h-1zM55 22h1v1h-1zM29 23h2v1h-2zM58 23h1v1h-1zM73 24h1v1h-1zM47 26h1v1h-1zM54 26h1v1h-1zM74 28h1v1h-1zM26 30h1v1h-1zM33 30h1v1h-1zM58 30h1v1h-1zM74 30h1v1h-1zM51 31h1v1h-1zM53 31h1v1h-1zM59 31h1v1h-1zM37 32h1v1h-1zM48 32h1v1h-1zM54 33h1v1h-1zM51 34h1v1h-1zM55 34h1v1h-1zM57 34h1v1h-1zM74 34h1v1h-1z"/>
<path fill="#ece4ec" d="M47 0h1v1h-1zM57 0h1v1h-1zM79 2h1v1h-1zM47 3h1v1h-1zM64 3h1v1h-1zM30 4h1v1h-1zM32 5h1v1h-1zM47 5h2v1h-2zM59 5h1v1h-1zM36 6h1v1h-1zM61 6h1v1h-1zM33 7h1v1h-1zM52 7h1v1h-1zM59 7h1v1h-1zM52 8h1v1h-1zM65 8h1v1h-1zM43 9h1v1h-1zM49 9h1v1h-1zM69 9h1v1h-1zM50 10h1v1h-1zM73 11h1v1h-1zM50 12h1v1h-1zM36 13h1v1h-1zM58 13h1v1h-1zM29 14h1v1h-1zM73 14h1v1h-1zM75 14h1v1h-1zM56 15h1v1h-1zM59 16h1v1h-1zM16 17h1v1h-1zM21 17h1v1h-1zM44 17h1v1h-1zM33 18h1v1h-1zM52 18h1v1h-1zM59 18h1v1h-1zM57 20h1v1h-1zM74 20h1v1h-1zM41 21h1v1h-1zM74 21h1v1h-1zM52 24h1v1h-1zM59 24h1v1h-1zM37 25h1v1h-1zM53 25h1v1h-1zM60 25h1v1h-1zM72 25h1v1h-1zM73 26h1v1h-1zM44 31h1v1h-1zM46 32h1v1h-1zM56 32h1v1h-1zM41 34h1v1h-1z"/>
<path fill="#fce4dc" d="M50 0h1v1h-1zM73 0h1v1h-1zM73 1h1v1h-1zM3 3h1v1h-1zM17 3h1v1h-1zM26 4h1v1h-1zM6 5h1v1h-1zM30 5h1v1h-1zM49 6h2v1h-2zM17 7h1v1h-1zM31 7h1v1h-1zM48 7h1v1h-1zM30 8h1v1h-1zM40 8h1v1h-1zM29 10h1v1h-1zM42 10h1v1h-1zM27 11h1v1h-1zM35 11h1v1h-1zM40 11h1v1h-1zM42 11h1v1h-1zM72 11h1v1h-1zM2 12h1v1h-1zM7 12h1v1h-1zM10 12h1v1h-1zM17 13h1v1h-1zM38 13h1v1h-1zM36 14h1v1h-1zM46 14h1v1h-1zM49 14h1v1h-1zM37 15h1v1h-1zM42 15h1v1h-1zM57 15h1v1h-1zM2 16h1v1h-1zM11 16h1v1h-1zM20 16h1v1h-1zM24 16h1v1h-1zM49 16h1v1h-1zM6 17h1v1h-1zM9 17h1v1h-1zM20 17h1v1h-1zM25 17h1v1h-1zM34 17h1v1h-1zM42 17h1v1h-1zM1 18h1v1h-1zM35 18h1v1h-1zM39 18h1v1h-1zM5 19h1v1h-1zM16 19h1v1h-1zM23 19h1v1h-1zM45 19h1v1h-1zM36 20h1v1h-1zM41 20h1v1h-1zM72 21h1v1h-1zM43 22h1v1h-1zM54 22h1v1h-1zM56 22h1v1h-1zM74 22h1v1h-1zM22 23h1v1h-1zM41 23h1v1h-1zM41 24h1v1h-1zM35 26h1v1h-1zM37 26h1v1h-1zM42 26h2v1h-2zM50 26h1v1h-1zM74 26h1v1h-1zM56 28h2v1h-2zM53 29h1v1h-1zM42 30h1v1h-1zM24 31h1v1h-1zM45 31h1v1h-1zM54 31h1v1h-1zM72 31h1v1h-1zM45 32h1v1h-1zM14 33h1v1h-1zM26 33h1v1h-1zM47 33h2v1h-2zM53 33h1v1h-1z"/>
<path fill="#946cb4" d="M51 0h1v1h-1zM54 2h1v1h-1zM38 4h1v1h-1zM55 4h1v1h-1zM65 11h1v1h-1zM56 12h1v1h-1zM69 16h1v1h-1zM64 17h1v1h-1zM71 17h1v1h-1zM71 18h1v1h-1zM65 22h1v1h-1zM62 23h1v1h-1zM71 24h1v1h-1zM67 26h1v1h-1zM77 26h1v1h-1zM65 30h1v1h-1zM63 31h1v1h-1zM68 31h1v1h-1zM79 33h1v1h-1z"/>
<path fill="#dccce4" d="M54 0h1v1h-1zM59 0h1v1h-1zM62 0h1v1h-1zM68 0h1v1h-1zM72 0h1v1h-1zM40 1h1v1h-1zM64 1h1v1h-1zM41 2h1v1h-1zM44 2h1v1h-1zM46 2h1v1h-1zM30 3h1v1h-1zM54 3h1v1h-1zM56 3h2v1h-2zM33 4h1v1h-1zM47 4h1v1h-1zM50 4h1v1h-1zM36 7h2v1h-2zM57 7h1v1h-1zM68 7h1v1h-1zM79 7h1v1h-1zM44 8h1v1h-1zM55 8h1v1h-1zM64 8h1v1h-1zM33 9h2v1h-2zM68 9h1v1h-1zM36 10h1v1h-1zM39 10h1v1h-1zM58 10h1v1h-1zM71 10h1v1h-1zM44 11h1v1h-1zM34 12h1v1h-1zM37 12h1v1h-1zM45 12h1v1h-1zM47 12h1v1h-1zM52 13h2v1h-2zM62 13h1v1h-1zM53 14h1v1h-1zM78 14h1v1h-1zM30 15h1v1h-1zM52 15h1v1h-1zM53 16h1v1h-1zM3 17h1v1h-1zM27 17h1v1h-1zM26 18h1v1h-1zM44 18h1v1h-1zM31 19h1v1h-1zM36 19h1v1h-1zM39 19h1v1h-1zM54 19h1v1h-1zM38 20h1v1h-1zM50 20h1v1h-1zM52 20h1v1h-1zM58 20h1v1h-1zM56 23h1v1h-1zM48 25h1v1h-1zM58 25h1v1h-1zM51 26h1v1h-1zM56 26h1v1h-1zM75 27h1v1h-1zM77 27h1v1h-1zM75 29h1v1h-1zM72 33h2v1h-2z"/>
<path fill="#845cac" d="M56 0h1v1h-1zM61 5h1v1h-1zM79 12h1v1h-1zM60 16h1v1h-1zM63 16h1v1h-1zM77 16h1v1h-1zM69 18h1v1h-1zM68 19h1v1h-1zM65 23h1v1h-1zM65 26h1v1h-1zM70 30h1v1h-1zM75 30h1v1h-1zM65 31h1v1h-1zM78 31h1v1h-1zM65 32h1v1h-1zM64 33h1v1h-1zM69 33h1v1h-1zM66 34h1v1h-1z"/>
<path fill="#9474bc" d="M58 0h1v1h-1zM37 4h1v1h-1zM77 4h1v1h-1zM62 5h1v1h-1zM52 12h1v1h-1zM64 12h1v1h-1zM71 16h1v1h-1zM59 17h1v1h-1zM55 19h1v1h-1zM62 20h1v1h-1zM64 21h1v1h-1zM61 22h1v1h-1zM64 29h1v1h-1zM77 31h1v1h-1zM67 32h1v1h-1zM71 32h1v1h-1z"/>
<path fill="#9474b4" d="M60 0h1v1h-1zM69 1h1v1h-1zM36 3h1v1h-1zM71 4h1v1h-1zM62 17h1v1h-1zM60 19h1v1h-1zM64 19h2v1h-2zM62 21h1v1h-1zM67 23h1v1h-1zM67 24h1v1h-1zM61 25h1v1h-1zM63 28h1v1h-1zM77 28h1v1h-1zM62 30h1v1h-1zM75 31h2v1h-2zM66 33h1v1h-1zM68 33h1v1h-1z"/>
<path fill="#ac94cc" d="M63 0h2v1h-2zM70 1h1v1h-1zM33 2h1v1h-1zM69 2h2v1h-2zM75 2h1v1h-1zM55 3h1v1h-1zM42 4h1v1h-1zM78 4h1v1h-1zM51 5h1v1h-1zM65 5h1v1h-1zM66 7h2v1h-2zM63 10h1v1h-1zM67 10h1v1h-1zM68 11h1v1h-1zM33 12h1v1h-1zM65 13h1v1h-1zM79 13h1v1h-1zM53 15h1v1h-1zM74 16h1v1h-1zM38 17h1v1h-1zM41 17h1v1h-1zM32 18h1v1h-1zM55 18h1v1h-1zM63 20h1v1h-1zM71 20h1v1h-1zM69 25h1v1h-1zM70 29h1v1h-1zM66 30h1v1h-1z"/>
<path fill="#c4acd4" d="M65 0h1v1h-1zM69 0h1v1h-1zM78 1h1v1h-1zM58 2h1v1h-1zM60 2h1v1h-1zM35 3h1v1h-1zM41 3h1v1h-1zM56 5h1v1h-1zM76 5h1v1h-1zM76 6h1v1h-1zM79 6h1v1h-1zM63 7h1v1h-1zM71 7h1v1h-1zM52 9h1v1h-1zM57 11h1v1h-1zM59 11h1v1h-1zM76 11h1v1h-1zM32 12h1v1h-1zM68 14h1v1h-1zM30 16h1v1h-1zM50 16h1v1h-1zM53 17h1v1h-1zM70 18h1v1h-1zM66 19h1v1h-1zM75 19h1v1h-1zM30 20h1v1h-1zM76 24h1v1h-1zM79 24h1v1h-1zM62 27h1v1h-1zM79 29h1v1h-1zM51 30h1v1h-1z"/>
<path fill="#b49ccc" d="M66 0h1v1h-1zM67 1h1v1h-1zM40 3h1v1h-1zM52 3h1v1h-1zM62 3h1v1h-1zM68 3h1v1h-1zM77 3h1v1h-1zM79 3h1v1h-1zM36 4h1v1h-1zM43 4h1v1h-1zM71 5h1v1h-1zM75 5h1v1h-1zM65 6h1v1h-1zM56 7h1v1h-1zM64 7h2v1h-2zM37 11h1v1h-1zM51 11h1v1h-1zM70 11h1v1h-1zM54 12h1v1h-1zM57 12h1v1h-1zM73 12h1v1h-1zM64 13h1v1h-1zM63 14h1v1h-1zM29 16h1v1h-1zM45 16h1v1h-1zM57 16h1v1h-1zM78 18h1v1h-1zM33 19h1v1h-1zM77 20h1v1h-1zM75 23h1v1h-1zM62 24h1v1h-1zM41 26h1v1h-1zM61 27h1v1h-1zM69 28h1v1h-1zM79 28h1v1h-1zM61 32h1v1h-1zM77 34h1v1h-1z"/>
<path fill="#ac8cc4" d="M67 0h1v1h-1zM55 1h1v1h-1zM33 3h1v1h-1zM70 3h1v1h-1zM35 4h1v1h-1zM58 4h1v1h-1zM63 4h2v1h-2zM69 4h1v1h-1zM38 5h1v1h-1zM55 5h1v1h-1zM66 5h2v1h-2zM69 5h1v1h-1zM77 5h1v1h-1zM77 7h1v1h-1zM62 8h1v1h-1zM55 9h1v1h-1zM63 9h1v1h-1zM67 9h1v1h-1zM55 10h1v1h-1zM69 10h1v1h-1zM51 12h1v1h-1zM60 13h1v1h-1zM70 13h1v1h-1zM61 14h2v1h-2zM60 15h1v1h-1zM37 16h1v1h-1zM40 17h1v1h-1zM45 17h1v1h-1zM51 17h1v1h-1zM56 17h1v1h-1zM75 17h1v1h-1zM38 18h1v1h-1zM79 18h1v1h-1zM51 19h2v1h-2zM73 19h1v1h-1zM69 20h1v1h-1zM71 21h1v1h-1zM77 21h1v1h-1zM64 22h1v1h-1zM62 25h1v1h-1zM69 29h1v1h-1zM77 29h1v1h-1zM73 30h1v1h-1zM79 31h1v1h-1zM60 33h1v1h-1zM65 34h1v1h-1zM70 34h1v1h-1z"/>
<path fill="#fcecf4" d="M71 0h1v1h-1zM24 2h1v1h-1zM49 8h1v1h-1zM61 8h1v1h-1zM49 10h1v1h-1zM31 11h1v1h-1zM44 23h1v1h-1zM59 28h1v1h-1zM31 32h1v1h-1zM34 32h1v1h-1zM59 33h1v1h-1z"/>
<path fill="#ccbcdc" d="M76 0h1v1h-1zM78 0h1v1h-1zM52 1h1v1h-1zM58 1h2v1h-2zM39 2h1v1h-1zM49 2h1v1h-1zM58 3h1v1h-1zM39 4h1v1h-1zM44 4h1v1h-1zM36 5h1v1h-1zM40 5h1v1h-1zM71 6h1v1h-1zM78 8h1v1h-1zM35 9h1v1h-1zM54 10h1v1h-1zM68 10h1v1h-1zM76 10h1v1h-1zM52 11h1v1h-1zM56 11h1v1h-1zM68 13h1v1h-1zM76 13h1v1h-1zM40 16h1v1h-1zM51 16h2v1h-2zM36 17h1v1h-1zM54 18h1v1h-1zM34 19h1v1h-1zM42 19h1v1h-1zM56 20h1v1h-1zM53 21h1v1h-1zM63 22h1v1h-1zM75 24h1v1h-1zM66 25h1v1h-1zM39 26h1v1h-1zM59 26h1v1h-1zM73 28h1v1h-1zM56 30h1v1h-1zM74 31h1v1h-1zM40 32h1v1h-1z"/>
<path fill="#9c7cbc" d="M79 0h1v1h-1zM64 2h1v1h-1zM76 2h1v1h-1zM57 4h1v1h-1zM65 4h1v1h-1zM67 4h1v1h-1zM75 4h1v1h-1zM60 5h1v1h-1zM68 5h1v1h-1zM61 9h1v1h-1zM66 10h1v1h-1zM67 11h1v1h-1zM75 12h1v1h-1zM61 13h1v1h-1zM77 13h1v1h-1zM64 15h1v1h-1zM68 15h1v1h-1zM54 16h1v1h-1zM58 16h1v1h-1zM73 16h1v1h-1zM33 17h1v1h-1zM54 17h1v1h-1zM58 17h1v1h-1zM79 17h1v1h-1zM37 18h1v1h-1zM60 18h1v1h-1zM68 18h1v1h-1zM67 19h1v1h-1zM71 19h1v1h-1zM64 20h1v1h-1zM75 20h2v1h-2zM60 21h1v1h-1zM67 21h1v1h-1zM76 21h1v1h-1zM66 22h1v1h-1zM77 22h1v1h-1zM61 23h1v1h-1zM68 23h1v1h-1zM70 23h1v1h-1zM60 24h1v1h-1zM77 24h1v1h-1zM65 25h1v1h-1zM78 25h2v1h-2zM62 26h1v1h-1zM66 26h1v1h-1zM76 26h1v1h-1zM70 27h1v1h-1zM61 28h1v1h-1zM67 28h1v1h-1zM71 28h1v1h-1zM65 29h1v1h-1zM60 30h1v1h-1zM62 33h1v1h-1zM71 33h1v1h-1zM64 34h1v1h-1zM76 34h1v1h-1zM79 34h1v1h-1z"/>
<path fill="#ec7454" d="M5 1h1v1h-1zM25 1h1v1h-1zM10 6h1v1h-1zM6 7h1v1h-1zM0 10h1v1h-1zM1 15h1v1h-1zM0 24h1v1h-1zM11 25h1v1h-1zM15 27h1v1h-1zM6 28h1v1h-1zM4 33h1v1h-1zM4 34h1v1h-1zM13 34h1v1h-1z"/>
<path fill="#ec7c5c" d="M6 1h1v1h-1zM21 2h1v1h-1zM4 6h1v1h-1zM26 6h1v1h-1zM9 7h1v1h-1zM26 8h1v1h-1zM21 9h1v1h-1zM4 21h1v1h-1zM10 21h1v1h-1zM8 24h1v1h-1zM7 25h1v1h-1zM20 27h1v1h-1zM22 27h1v1h-1zM1 29h1v1h-1zM6 30h1v1h-1zM13 32h1v1h-1zM6 34h2v1h-2z"/>
<path fill="#e46444" d="M7 1h1v1h-1zM0 27h1v1h-1zM12 27h1v1h-1z"/>
<path fill="#f4bc9c" d="M8 1h1v1h-1zM7 3h2v1h-2zM14 3h1v1h-1zM8 4h1v1h-1zM28 7h1v1h-1zM29 8h1v1h-1zM28 9h1v1h-1zM3 11h1v1h-1zM47 13h1v1h-1zM3 22h1v1h-1zM34 22h1v1h-1zM46 22h1v1h-1zM7 23h1v1h-1zM49 25h1v1h-1zM2 26h1v1h-1zM48 26h1v1h-1zM29 27h1v1h-1zM74 27h1v1h-1zM0 29h1v1h-1zM34 29h1v1h-1zM38 29h1v1h-1zM41 29h1v1h-1zM3 30h1v1h-1zM8 30h1v1h-1zM34 30h1v1h-1zM19 31h1v1h-1zM27 33h1v1h-1zM14 34h1v1h-1z"/>
<path fill="#ec8c74" d="M9 1h1v1h-1zM0 3h1v1h-1zM1 6h1v1h-1zM2 7h1v1h-1zM4 11h1v1h-1zM20 11h1v1h-1zM6 20h1v1h-1zM12 20h1v1h-1zM4 22h1v1h-1zM20 26h1v1h-1zM2 27h1v1h-1zM18 28h1v1h-1zM29 29h1v1h-1zM42 29h2v1h-2zM46 29h1v1h-1zM5 31h1v1h-1zM2 33h1v1h-1z"/>
<path fill="#e4644c" d="M12 1h1v1h-1zM1 5h1v1h-1zM7 7h1v1h-1zM1 8h1v1h-1zM6 8h1v1h-1zM6 9h1v1h-1zM8 13h1v1h-1zM19 20h1v1h-1zM10 24h1v1h-1zM18 24h1v1h-1zM20 24h1v1h-1zM22 25h1v1h-1zM28 27h1v1h-1zM34 27h1v1h-1zM5 29h2v1h-2zM20 29h1v1h-1z"/>
<path fill="#ec7c64" d="M18 1h1v1h-1zM0 6h1v1h-1zM5 6h1v1h-1zM5 8h1v1h-1zM5 9h1v1h-1zM25 10h1v1h-1zM0 13h1v1h-1zM9 14h1v1h-1zM4 20h1v1h-1zM12 22h1v1h-1zM23 22h1v1h-1zM13 24h1v1h-1zM25 26h1v1h-1zM18 27h1v1h-1zM12 28h1v1h-1zM9 29h1v1h-1zM13 29h1v1h-1zM24 29h1v1h-1zM23 30h1v1h-1zM21 34h1v1h-1zM36 34h1v1h-1z"/>
<path fill="#ec6c54" d="M23 1h1v1h-1zM22 5h1v1h-1zM20 8h1v1h-1zM10 10h1v1h-1zM13 21h1v1h-1zM6 22h1v1h-1zM36 27h1v1h-1zM13 28h1v1h-1z"/>
<path fill="#ec745c" d="M26 1h2v1h-2zM7 8h1v1h-1zM4 9h1v1h-1zM25 9h1v1h-1zM3 10h1v1h-1zM23 13h1v1h-1zM6 15h1v1h-1zM9 22h1v1h-1zM28 22h1v1h-1zM25 23h1v1h-1zM6 24h1v1h-1zM20 25h1v1h-1zM1 27h1v1h-1zM9 27h1v1h-1zM25 27h1v1h-1zM19 29h1v1h-1zM10 34h1v1h-1z"/>
<path fill="#f4ecf4" d="M29 1h1v1h-1zM45 1h1v1h-1zM52 2h1v1h-1zM42 3h2v1h-2zM46 3h1v1h-1zM48 3h1v1h-1zM60 3h1v1h-1zM24 4h1v1h-1zM31 5h1v1h-1zM39 5h1v1h-1zM38 6h1v1h-1zM55 7h1v1h-1zM78 7h1v1h-1zM74 8h1v1h-1zM40 9h1v1h-1zM46 9h2v1h-2zM64 9h1v1h-1zM41 10h1v1h-1zM43 10h1v1h-1zM13 11h1v1h-1zM31 12h1v1h-1zM33 13h1v1h-1zM42 13h1v1h-1zM59 13h1v1h-1zM28 15h1v1h-1zM34 15h1v1h-1zM54 15h1v1h-1zM28 16h1v1h-1zM44 16h1v1h-1zM72 16h1v1h-1zM5 17h1v1h-1zM13 17h2v1h-2zM48 17h1v1h-1zM46 18h1v1h-1zM48 18h1v1h-1zM73 18h1v1h-1zM32 19h1v1h-1zM47 19h2v1h-2zM32 20h1v1h-1zM14 21h1v1h-1zM56 21h1v1h-1zM58 21h1v1h-1zM73 21h1v1h-1zM51 22h1v1h-1zM38 23h1v1h-1zM45 23h2v1h-2zM48 23h1v1h-1zM50 23h1v1h-1zM72 23h2v1h-2zM37 24h2v1h-2zM40 24h1v1h-1zM42 24h1v1h-1zM46 24h1v1h-1zM51 24h1v1h-1zM29 25h1v1h-1zM57 25h1v1h-1zM27 26h1v1h-1zM67 27h2v1h-2zM46 28h1v1h-1zM59 29h1v1h-1zM17 30h1v1h-1zM37 30h1v1h-1zM47 30h1v1h-1zM29 31h1v1h-1zM37 31h2v1h-2zM27 32h1v1h-1zM49 32h1v1h-1zM58 32h1v1h-1zM73 32h1v1h-1zM32 33h1v1h-1zM38 33h1v1h-1zM40 33h1v1h-1zM52 33h1v1h-1zM45 34h1v1h-1z"/>
<path fill="#fcd4bc" d="M31 1h1v1h-1zM16 2h1v1h-1zM74 2h1v1h-1zM13 3h1v1h-1zM14 4h1v1h-1zM52 6h1v1h-1zM22 7h1v1h-1zM18 8h1v1h-1zM50 8h1v1h-1zM31 10h1v1h-1zM73 10h1v1h-1zM15 12h1v1h-1zM27 12h1v1h-1zM11 13h1v1h-1zM37 13h1v1h-1zM15 14h1v1h-1zM43 14h1v1h-1zM47 14h1v1h-1zM52 14h1v1h-1zM16 15h1v1h-1zM44 15h1v1h-1zM7 16h1v1h-1zM15 16h1v1h-1zM10 17h1v1h-1zM17 17h1v1h-1zM7 18h1v1h-1zM24 18h1v1h-1zM47 18h1v1h-1zM49 18h2v1h-2zM17 20h1v1h-1zM22 20h2v1h-2zM24 21h1v1h-1zM37 21h1v1h-1zM29 22h1v1h-1zM15 23h1v1h-1zM26 23h1v1h-1zM34 23h1v1h-1zM49 24h1v1h-1zM2 25h1v1h-1zM42 25h1v1h-1zM31 26h1v1h-1zM72 27h2v1h-2zM26 28h1v1h-1zM50 28h1v1h-1zM24 30h1v1h-1zM28 30h1v1h-1zM48 30h1v1h-1zM3 31h1v1h-1zM15 31h1v1h-1zM41 31h1v1h-1zM47 31h1v1h-1zM15 32h1v1h-1zM0 33h1v1h-1zM41 33h2v1h-2zM17 34h1v1h-1zM54 34h1v1h-1z"/>
<path fill="#e4d4ec" d="M34 1h1v1h-1zM36 1h1v1h-1zM61 1h1v1h-1zM71 1h1v1h-1zM53 2h1v1h-1zM66 2h1v1h-1zM72 2h1v1h-1zM38 3h1v1h-1zM44 3h1v1h-1zM75 3h1v1h-1zM29 4h1v1h-1zM49 4h1v1h-1zM44 5h1v1h-1zM54 5h1v1h-1zM32 6h1v1h-1zM37 6h1v1h-1zM56 6h1v1h-1zM30 7h1v1h-1zM34 7h1v1h-1zM39 7h1v1h-1zM32 8h1v1h-1zM58 8h1v1h-1zM77 8h1v1h-1zM38 9h1v1h-1zM41 9h1v1h-1zM44 9h1v1h-1zM48 9h1v1h-1zM56 9h1v1h-1zM78 9h1v1h-1zM56 10h1v1h-1zM33 11h2v1h-2zM53 11h1v1h-1zM55 11h1v1h-1zM18 12h1v1h-1zM36 12h1v1h-1zM66 13h1v1h-1zM78 13h1v1h-1zM77 14h1v1h-1zM40 15h1v1h-1zM48 15h1v1h-1zM51 15h1v1h-1zM18 16h2v1h-2zM27 16h1v1h-1zM31 16h1v1h-1zM1 17h1v1h-1zM29 17h1v1h-1zM40 18h1v1h-1zM51 18h1v1h-1zM74 18h1v1h-1zM59 19h1v1h-1zM59 20h1v1h-1zM57 23h1v1h-1zM57 26h1v1h-1zM60 27h1v1h-1zM68 28h1v1h-1zM32 30h1v1h-1zM57 31h1v1h-1zM62 34h1v1h-1zM73 34h1v1h-1z"/>
<path fill="#bc9ccc" d="M35 1h1v1h-1zM71 9h1v1h-1z"/>
<path fill="#a48cc4" d="M37 1h1v1h-1zM66 1h1v1h-1zM68 2h1v1h-1zM51 4h1v1h-1zM76 4h1v1h-1zM77 15h1v1h-1zM52 17h1v1h-1zM60 23h1v1h-1zM78 24h1v1h-1zM64 26h1v1h-1z"/>
<path fill="#ecdcec" d="M41 1h1v1h-1zM79 1h1v1h-1zM43 2h1v1h-1zM48 2h1v1h-1zM78 6h1v1h-1zM54 7h1v1h-1zM33 8h1v1h-1zM36 8h1v1h-1zM38 8h2v1h-2zM75 8h1v1h-1zM53 9h1v1h-1zM59 9h1v1h-1zM53 12h1v1h-1zM72 13h1v1h-1zM3 16h1v1h-1zM46 16h1v1h-1zM47 17h1v1h-1zM36 18h1v1h-1zM43 18h1v1h-1zM58 19h1v1h-1zM51 21h1v1h-1zM40 22h1v1h-1zM33 23h1v1h-1zM40 23h1v1h-1zM54 23h2v1h-2zM55 26h1v1h-1zM38 30h1v1h-1zM49 30h1v1h-1zM52 30h1v1h-1zM78 34h1v1h-1z"/>
<path fill="#fcdccc" d="M42 1h1v1h-1zM46 1h1v1h-1zM31 2h1v1h-1zM16 3h1v1h-1zM1 4h1v1h-1zM27 4h1v1h-1zM43 6h1v1h-1zM73 7h2v1h-2zM34 8h1v1h-1zM57 8h1v1h-1zM73 8h1v1h-1zM9 9h1v1h-1zM29 9h1v1h-1zM31 9h1v1h-1zM72 9h1v1h-1zM45 10h1v1h-1zM30 11h1v1h-1zM36 11h1v1h-1zM13 12h1v1h-1zM12 13h1v1h-1zM74 13h1v1h-1zM74 14h1v1h-1zM11 15h1v1h-1zM24 15h1v1h-1zM10 16h1v1h-1zM25 16h1v1h-1zM7 17h1v1h-1zM0 18h1v1h-1zM17 18h1v1h-1zM21 18h1v1h-1zM49 19h1v1h-1zM28 20h2v1h-2zM34 20h2v1h-2zM40 20h1v1h-1zM29 21h1v1h-1zM33 21h1v1h-1zM47 21h1v1h-1zM52 21h1v1h-1zM14 22h1v1h-1zM31 23h1v1h-1zM17 24h1v1h-1zM57 24h1v1h-1zM74 24h1v1h-1zM14 25h1v1h-1zM32 25h1v1h-1zM15 26h1v1h-1zM17 26h1v1h-1zM14 28h1v1h-1zM45 28h1v1h-1zM54 28h1v1h-1zM51 29h1v1h-1zM15 30h1v1h-1zM18 30h1v1h-1zM50 30h1v1h-1zM27 31h1v1h-1zM30 32h1v1h-1zM38 32h1v1h-1zM50 33h1v1h-1zM1 34h1v1h-1zM53 34h1v1h-1z"/>
<path fill="#fcdcc4" d="M44 1h1v1h-1zM72 3h1v1h-1zM18 5h1v1h-1zM30 13h1v1h-1zM3 18h1v1h-1zM3 19h1v1h-1zM47 20h1v1h-1zM50 21h1v1h-1zM48 24h1v1h-1zM15 25h1v1h-1zM40 29h1v1h-1zM46 30h1v1h-1zM57 30h1v1h-1zM29 32h1v1h-1z"/>
<path fill="#a484bc" d="M51 1h1v1h-1zM77 1h1v1h-1zM70 4h1v1h-1zM79 9h1v1h-1zM55 12h1v1h-1zM65 14h1v1h-1zM79 21h1v1h-1zM79 23h1v1h-1zM67 30h1v1h-1zM62 32h1v1h-1z"/>
<path fill="#b494cc" d="M53 1h1v1h-1zM76 1h1v1h-1zM63 3h1v1h-1zM52 4h1v1h-1zM56 4h1v1h-1zM51 6h1v1h-1zM65 9h1v1h-1zM51 10h1v1h-1zM69 11h1v1h-1zM59 12h1v1h-1zM67 14h1v1h-1zM79 15h1v1h-1zM29 19h1v1h-1zM69 19h1v1h-1zM65 20h1v1h-1zM79 20h1v1h-1zM60 22h1v1h-1zM75 26h1v1h-1zM64 27h1v1h-1zM60 29h1v1h-1zM75 33h1v1h-1z"/>
<path fill="#dcd4ec" d="M57 1h1v1h-1zM77 2h1v1h-1zM34 4h1v1h-1zM74 4h1v1h-1zM66 6h1v1h-1zM77 6h1v1h-1zM51 8h1v1h-1zM54 9h1v1h-1zM26 12h1v1h-1zM28 12h1v1h-1zM56 13h1v1h-1zM41 14h1v1h-1zM36 16h1v1h-1zM30 18h1v1h-1zM53 20h1v1h-1zM30 31h1v1h-1zM58 31h1v1h-1zM56 34h1v1h-1z"/>
<path fill="#d4bce4" d="M62 1h1v1h-1zM45 5h1v1h-1zM63 5h1v1h-1zM62 6h1v1h-1zM69 6h1v1h-1zM32 7h1v1h-1zM51 7h1v1h-1zM51 9h1v1h-1zM62 10h1v1h-1zM71 13h1v1h-1zM22 17h1v1h-1zM28 17h1v1h-1zM46 17h1v1h-1zM14 18h1v1h-1zM53 18h1v1h-1zM72 19h1v1h-1zM74 19h1v1h-1zM39 20h1v1h-1zM59 25h1v1h-1zM73 25h1v1h-1zM76 25h1v1h-1zM40 26h1v1h-1zM76 28h1v1h-1z"/>
<path fill="#bca4d4" d="M65 1h1v1h-1zM63 2h1v1h-1zM32 3h1v1h-1zM59 3h1v1h-1zM61 3h1v1h-1zM71 3h1v1h-1zM78 3h1v1h-1zM32 4h1v1h-1zM48 4h1v1h-1zM53 4h1v1h-1zM63 6h1v1h-1zM60 7h1v1h-1zM69 7h2v1h-2zM68 8h1v1h-1zM71 8h1v1h-1zM58 9h1v1h-1zM32 10h1v1h-1zM44 10h1v1h-1zM57 10h1v1h-1zM59 10h1v1h-1zM64 10h1v1h-1zM70 10h1v1h-1zM77 10h1v1h-1zM62 11h1v1h-1zM43 12h1v1h-1zM64 14h1v1h-1zM70 14h1v1h-1zM71 15h1v1h-1zM78 15h1v1h-1zM34 16h1v1h-1zM38 16h1v1h-1zM55 16h1v1h-1zM31 17h1v1h-1zM35 17h1v1h-1zM37 17h1v1h-1zM49 17h1v1h-1zM56 19h1v1h-1zM37 20h1v1h-1zM72 20h1v1h-1zM78 20h1v1h-1zM69 22h1v1h-1zM71 22h1v1h-1zM75 22h2v1h-2zM78 22h1v1h-1zM58 24h1v1h-1zM66 24h1v1h-1zM65 27h2v1h-2zM69 27h1v1h-1zM65 28h1v1h-1zM70 28h1v1h-1zM61 29h1v1h-1zM66 29h1v1h-1zM71 29h1v1h-1zM79 30h1v1h-1zM63 34h1v1h-1z"/>
<path fill="#fcd4c4" d="M3 2h1v1h-1zM2 4h1v1h-1zM4 4h1v1h-1zM11 4h1v1h-1zM43 8h1v1h-1zM45 8h1v1h-1zM54 8h1v1h-1zM60 8h1v1h-1zM42 9h1v1h-1zM73 13h1v1h-1zM22 14h1v1h-1zM35 14h1v1h-1zM19 15h1v1h-1zM39 15h1v1h-1zM16 16h1v1h-1zM5 18h2v1h-2zM11 18h1v1h-1zM9 19h1v1h-1zM12 19h1v1h-1zM18 19h1v1h-1zM21 19h1v1h-1zM14 20h1v1h-1zM24 20h1v1h-1zM48 22h1v1h-1zM0 23h1v1h-1zM36 23h1v1h-1zM14 24h2v1h-2zM50 24h1v1h-1zM17 25h1v1h-1zM43 25h2v1h-2zM7 26h1v1h-1zM23 26h1v1h-1zM30 26h1v1h-1zM44 26h1v1h-1zM44 28h1v1h-1zM11 30h2v1h-2zM22 31h1v1h-1zM35 31h1v1h-1zM46 31h1v1h-1zM14 32h1v1h-1zM39 32h1v1h-1zM15 33h1v1h-1zM34 33h2v1h-2zM44 33h1v1h-1zM34 34h1v1h-1zM48 34h1v1h-1z"/>
<path fill="#fcccbc" d="M5 2h1v1h-1zM10 2h1v1h-1zM5 4h1v1h-1zM72 10h1v1h-1zM3 12h1v1h-1zM74 15h1v1h-1zM15 20h1v1h-1zM55 20h1v1h-1zM39 21h1v1h-1zM55 21h1v1h-1zM35 22h1v1h-1zM50 22h1v1h-1zM53 22h1v1h-1zM27 24h1v1h-1zM35 24h1v1h-1zM52 25h1v1h-1zM9 26h1v1h-1zM33 28h1v1h-1zM41 28h1v1h-1zM57 29h1v1h-1zM19 30h1v1h-1zM20 31h1v1h-1zM41 32h1v1h-1zM1 33h1v1h-1zM19 33h1v1h-1z"/>
<path fill="#fce4d4" d="M7 2h1v1h-1zM14 2h1v1h-1zM49 3h1v1h-1zM12 4h1v1h-1zM43 5h1v1h-1zM49 5h1v1h-1zM40 6h1v1h-1zM53 6h1v1h-1zM44 7h1v1h-1zM14 9h1v1h-1zM17 12h1v1h-1zM49 12h1v1h-1zM16 13h1v1h-1zM11 14h1v1h-1zM11 19h1v1h-1zM31 20h1v1h-1zM42 20h1v1h-1zM57 22h1v1h-1zM43 23h1v1h-1zM32 24h1v1h-1zM38 25h1v1h-1zM50 25h1v1h-1zM56 25h1v1h-1zM52 28h1v1h-1zM29 30h1v1h-1zM31 30h1v1h-1zM32 31h1v1h-1zM36 31h1v1h-1zM52 31h1v1h-1zM35 32h1v1h-1zM3 33h1v1h-1zM18 33h1v1h-1zM49 33h1v1h-1z"/>
<path fill="#f4e4f4" d="M13 2h1v1h-1zM18 4h1v1h-1zM33 5h1v1h-1zM39 6h1v1h-1zM19 12h1v1h-1zM30 14h1v1h-1zM48 14h1v1h-1zM42 16h1v1h-1zM26 17h1v1h-1zM46 26h1v1h-1z"/>
<path fill="#f4a48c" d="M18 2h1v1h-1zM18 7h1v1h-1zM13 9h1v1h-1zM1 10h1v1h-1zM17 10h1v1h-1zM19 10h1v1h-1zM1 11h1v1h-1zM10 13h1v1h-1zM26 14h1v1h-1zM3 15h1v1h-1zM45 21h1v1h-1zM2 23h1v1h-1zM9 24h1v1h-1zM0 25h1v1h-1zM9 25h1v1h-1zM32 27h1v1h-1zM48 28h1v1h-1zM20 30h1v1h-1zM2 31h1v1h-1zM9 31h2v1h-2zM31 33h1v1h-1zM46 34h1v1h-1z"/>
<path fill="#ec9474" d="M25 2h2v1h-2zM10 3h1v1h-1zM9 6h1v1h-1zM16 6h1v1h-1zM22 8h1v1h-1zM11 11h1v1h-1zM23 11h1v1h-1zM10 14h1v1h-1zM21 15h1v1h-1zM10 19h1v1h-1zM0 20h1v1h-1zM5 22h1v1h-1zM21 22h1v1h-1zM5 23h1v1h-1zM3 25h1v1h-1zM33 27h1v1h-1zM37 27h1v1h-1zM8 28h1v1h-1zM25 29h1v1h-1zM12 32h1v1h-1zM25 33h1v1h-1zM12 34h1v1h-1zM15 34h1v1h-1z"/>
<path fill="#dcc4e4" d="M40 2h1v1h-1zM78 2h1v1h-1zM73 4h1v1h-1zM46 11h1v1h-1zM73 22h1v1h-1zM55 24h1v1h-1zM63 27h1v1h-1zM78 27h1v1h-1z"/>
<path fill="#fce4e4" d="M47 2h1v1h-1zM45 3h1v1h-1zM73 3h1v1h-1zM17 4h1v1h-1zM21 4h1v1h-1zM70 6h1v1h-1zM49 7h1v1h-1zM41 8h1v1h-1zM45 9h1v1h-1zM35 15h1v1h-1zM59 15h1v1h-1zM2 18h1v1h-1zM15 18h1v1h-1zM23 18h1v1h-1zM20 23h1v1h-1zM54 24h1v1h-1zM13 25h1v1h-1zM46 25h1v1h-1zM54 25h1v1h-1zM28 26h1v1h-1zM32 26h1v1h-1zM59 27h1v1h-1zM39 28h1v1h-1zM32 29h1v1h-1zM14 30h1v1h-1zM41 30h1v1h-1zM56 31h1v1h-1zM47 32h1v1h-1zM39 33h1v1h-1zM51 33h1v1h-1z"/>
<path fill="#c4b4dc" d="M55 2h1v1h-1zM66 3h1v1h-1zM76 3h1v1h-1zM40 4h1v1h-1zM72 4h1v1h-1zM78 10h1v1h-1zM60 11h1v1h-1zM79 11h1v1h-1zM60 14h1v1h-1zM70 15h1v1h-1zM41 16h1v1h-1zM48 16h1v1h-1zM61 20h1v1h-1zM17 23h1v1h-1zM79 27h1v1h-1zM55 32h1v1h-1zM72 32h1v1h-1zM75 32h1v1h-1zM71 34h1v1h-1z"/>
<path fill="#7c54a4" d="M61 2h1v1h-1zM54 4h1v1h-1zM58 7h1v1h-1zM70 9h1v1h-1zM76 12h2v1h-2zM64 16h2v1h-2zM57 17h1v1h-1zM77 18h1v1h-1zM68 20h1v1h-1zM70 21h1v1h-1zM76 23h1v1h-1zM61 26h1v1h-1zM60 31h1v1h-1zM65 33h1v1h-1zM67 33h1v1h-1z"/>
<path fill="#8c6cb4" d="M67 2h1v1h-1zM61 4h1v1h-1zM66 4h1v1h-1zM65 15h1v1h-1zM79 16h1v1h-1zM55 17h1v1h-1zM63 18h1v1h-1zM61 21h1v1h-1zM79 22h1v1h-1zM63 23h1v1h-1zM66 23h1v1h-1zM71 23h1v1h-1zM64 24h2v1h-2zM60 26h1v1h-1zM70 26h1v1h-1zM60 28h1v1h-1zM64 30h1v1h-1zM71 30h1v1h-1zM77 30h1v1h-1zM66 32h1v1h-1zM76 32h1v1h-1zM61 33h1v1h-1zM76 33h1v1h-1z"/>
<path fill="#ac8ccc" d="M71 2h1v1h-1zM64 6h1v1h-1zM33 10h1v1h-1zM61 11h1v1h-1zM76 14h1v1h-1zM66 15h1v1h-1zM56 18h1v1h-1zM68 25h1v1h-1zM63 26h1v1h-1z"/>
<path fill="#f4947c" d="M6 3h1v1h-1zM25 11h1v1h-1zM21 13h1v1h-1zM1 20h1v1h-1zM6 21h1v1h-1zM21 23h1v1h-1zM8 25h1v1h-1zM3 27h1v1h-1zM31 27h1v1h-1zM3 29h1v1h-1zM47 29h1v1h-1zM21 31h1v1h-1zM9 33h1v1h-1zM20 34h1v1h-1zM26 34h2v1h-2z"/>
<path fill="#f4c4a4" d="M15 3h1v1h-1zM45 6h1v1h-1zM6 10h1v1h-1zM28 10h1v1h-1zM10 11h1v1h-1zM8 16h1v1h-1zM24 19h1v1h-1zM43 19h1v1h-1zM27 23h1v1h-1zM16 25h1v1h-1zM3 26h1v1h-1zM24 26h1v1h-1zM39 27h1v1h-1zM24 28h1v1h-1zM7 30h1v1h-1zM16 33h1v1h-1z"/>
<path fill="#8c64b4" d="M69 3h1v1h-1zM63 15h1v1h-1zM66 21h1v1h-1zM78 26h1v1h-1zM78 30h1v1h-1z"/>
<path fill="#fcece4" d="M74 3h1v1h-1zM6 4h1v1h-1zM31 4h1v1h-1zM29 5h1v1h-1zM50 5h1v1h-1zM72 5h1v1h-1zM62 7h1v1h-1zM42 8h1v1h-1zM72 8h1v1h-1zM50 9h1v1h-1zM18 10h1v1h-1zM18 11h1v1h-1zM29 11h1v1h-1zM39 11h1v1h-1zM45 11h1v1h-1zM14 12h1v1h-1zM35 12h1v1h-1zM57 13h1v1h-1zM32 14h2v1h-2zM38 14h1v1h-1zM29 15h1v1h-1zM47 15h1v1h-1zM13 16h1v1h-1zM18 17h1v1h-1zM19 18h1v1h-1zM27 19h2v1h-2zM44 19h1v1h-1zM48 21h1v1h-1zM41 22h1v1h-1zM49 22h1v1h-1zM11 23h1v1h-1zM47 23h1v1h-1zM74 25h1v1h-1zM52 26h1v1h-1zM58 27h1v1h-1zM34 28h1v1h-1zM58 28h1v1h-1zM30 30h1v1h-1zM49 31h2v1h-2zM36 32h1v1h-1zM43 32h1v1h-1zM50 32h1v1h-1zM52 32h1v1h-1zM22 33h1v1h-1z"/>
<path fill="#8464ac" d="M60 4h1v1h-1zM71 12h1v1h-1zM66 14h1v1h-1zM68 17h2v1h-2zM63 25h1v1h-1zM70 25h1v1h-1zM69 26h1v1h-1zM64 31h1v1h-1zM69 31h1v1h-1zM69 32h1v1h-1z"/>
<path fill="#e4543c" d="M10 5h1v1h-1zM8 6h1v1h-1zM11 6h1v1h-1zM4 8h1v1h-1zM10 8h1v1h-1zM21 8h1v1h-1zM10 9h1v1h-1zM21 10h1v1h-1zM12 11h1v1h-1zM9 21h1v1h-1zM12 21h1v1h-1zM4 27h1v1h-1zM6 27h3v1h-3zM10 27h1v1h-1zM26 27h1v1h-1zM20 28h1v1h-1zM4 29h1v1h-1zM8 29h1v1h-1zM12 29h1v1h-1zM21 29h1v1h-1zM4 32h1v1h-1z"/>
<path fill="#8c64ac" d="M70 5h1v1h-1zM66 11h1v1h-1zM58 12h1v1h-1zM60 12h1v1h-1zM62 12h1v1h-1zM68 16h1v1h-1zM32 17h1v1h-1zM76 18h1v1h-1zM62 19h2v1h-2zM76 19h1v1h-1zM66 20h1v1h-1zM70 22h1v1h-1zM78 23h1v1h-1zM71 26h1v1h-1zM76 30h1v1h-1zM70 33h1v1h-1z"/>
<path fill="#e46c54" d="M6 6h1v1h-1zM7 10h1v1h-1zM18 14h1v1h-1zM23 29h1v1h-1zM9 34h1v1h-1z"/>
<path fill="#e46c4c" d="M7 6h1v1h-1zM20 6h1v1h-1zM24 8h1v1h-1zM6 25h1v1h-1zM13 27h1v1h-1zM9 28h1v1h-1z"/>
<path fill="#f49c84" d="M14 6h1v1h-1zM25 6h1v1h-1zM27 6h1v1h-1zM0 9h1v1h-1zM9 11h1v1h-1zM12 14h1v1h-1zM5 21h1v1h-1zM22 21h1v1h-1zM31 21h1v1h-1zM42 22h1v1h-1zM17 28h1v1h-1zM27 28h1v1h-1zM14 29h1v1h-1zM18 29h1v1h-1zM24 32h1v1h-1zM11 33h1v1h-1zM13 33h1v1h-1z"/>
<path fill="#ec846c" d="M23 6h1v1h-1zM13 7h1v1h-1zM15 8h1v1h-1zM20 10h1v1h-1zM25 14h1v1h-1zM2 20h1v1h-1zM24 27h1v1h-1zM22 29h1v1h-1zM12 33h1v1h-1z"/>
<path fill="#f4f4f4" d="M34 6h1v1h-1zM48 6h1v1h-1zM38 7h1v1h-1zM35 10h1v1h-1zM8 14h1v1h-1zM40 14h1v1h-1zM51 14h1v1h-1zM57 14h1v1h-1zM41 15h1v1h-1zM55 15h1v1h-1zM38 21h1v1h-1zM14 23h1v1h-1zM74 23h1v1h-1zM72 24h1v1h-1zM55 25h1v1h-1zM14 26h1v1h-1zM54 30h1v1h-1zM32 32h1v1h-1zM51 32h1v1h-1zM57 32h1v1h-1zM57 33h1v1h-1z"/>
<path fill="#bcacd4" d="M46 7h1v1h-1z"/>
<path fill="#e45c44" d="M27 8h1v1h-1zM7 11h1v1h-1zM21 27h1v1h-1zM7 29h1v1h-1zM10 29h1v1h-1z"/>
<path fill="#dcd4e4" d="M46 8h1v1h-1zM66 9h1v1h-1zM19 17h1v1h-1z"/>
<path fill="#9c74bc" d="M77 9h1v1h-1zM38 11h1v1h-1zM67 17h1v1h-1zM66 31h1v1h-1zM64 32h1v1h-1zM75 34h1v1h-1z"/>
<path fill="#6c449c" d="M61 12h1v1h-1zM63 12h1v1h-1zM65 12h2v1h-2zM69 12h2v1h-2zM61 16h1v1h-1zM70 16h1v1h-1zM76 16h1v1h-1zM78 16h1v1h-1zM60 17h2v1h-2zM65 17h2v1h-2zM70 17h1v1h-1zM77 17h2v1h-2zM62 18h1v1h-1zM67 18h1v1h-1zM61 19h1v1h-1zM77 25h1v1h-1zM79 26h1v1h-1zM67 31h1v1h-1zM79 32h1v1h-1zM78 33h1v1h-1z"/>
<path fill="#744c9c" d="M67 12h1v1h-1zM69 15h1v1h-1zM62 16h1v1h-1zM63 17h1v1h-1zM61 18h1v1h-1zM65 18h2v1h-2zM70 24h1v1h-1zM61 30h1v1h-1zM63 30h1v1h-1zM69 34h1v1h-1z"/>
<path fill="#74449c" d="M68 12h1v1h-1zM67 16h1v1h-1zM76 17h1v1h-1zM77 23h1v1h-1zM61 31h2v1h-2z"/>
<path fill="#845ca4" d="M78 12h1v1h-1zM69 23h1v1h-1zM61 24h1v1h-1zM70 31h1v1h-1z"/>
<path fill="#fcc4a4" d="M44 14h1v1h-1zM2 28h1v1h-1z"/>
<path fill="#744ca4" d="M75 16h1v1h-1zM77 19h1v1h-1z"/>
<path fill="#7c5ca4" d="M64 18h1v1h-1zM67 20h1v1h-1zM69 30h1v1h-1zM63 32h1v1h-1z"/>
<path fill="#a47cbc" d="M77 32h1v1h-1z"/>
</g>
<g transform="translate(37.2 161.3) scale(2.6200 1.0094)">
<path fill="#bca4d4" d="M0 0h1v1h-1zM45 0h1v1h-1zM0 1h2v1h-2zM8 1h1v1h-1zM31 1h1v1h-1zM34 1h1v1h-1zM9 2h1v1h-1zM42 2h1v1h-1zM44 2h1v1h-1zM0 3h1v1h-1zM15 3h1v1h-1zM42 4h1v1h-1zM49 4h1v1h-1zM77 4h2v1h-2zM5 5h1v1h-1zM12 5h1v1h-1zM14 5h1v1h-1zM20 5h1v1h-1zM40 5h1v1h-1zM46 5h1v1h-1zM0 6h1v1h-1zM32 6h2v1h-2zM43 6h1v1h-1zM46 6h1v1h-1zM38 7h1v1h-1zM2 8h1v1h-1zM4 8h1v1h-1zM20 8h1v1h-1zM27 9h1v1h-1zM15 10h1v1h-1zM21 11h1v1h-1zM32 11h1v1h-1zM11 12h1v1h-1zM18 12h1v1h-1zM22 13h1v1h-1zM33 13h3v1h-3zM38 13h2v1h-2zM10 14h1v1h-1zM13 14h2v1h-2zM16 14h1v1h-1zM33 14h1v1h-1zM35 14h1v1h-1zM17 15h2v1h-2zM40 15h1v1h-1zM3 16h1v1h-1zM6 16h1v1h-1zM13 16h1v1h-1zM18 16h1v1h-1zM20 16h1v1h-1zM30 16h1v1h-1zM34 16h1v1h-1zM37 16h1v1h-1zM39 16h1v1h-1zM31 17h1v1h-1zM39 17h2v1h-2zM8 19h1v1h-1zM40 19h1v1h-1zM64 20h1v1h-1zM6 21h1v1h-1zM8 21h1v1h-1zM16 21h1v1h-1zM22 21h1v1h-1zM29 21h1v1h-1zM28 22h1v1h-1zM37 22h2v1h-2zM10 23h1v1h-1zM37 23h1v1h-1zM45 23h1v1h-1zM36 24h1v1h-1zM2 25h1v1h-1zM18 25h1v1h-1zM31 25h1v1h-1zM43 25h1v1h-1zM10 26h1v1h-1zM18 26h1v1h-1zM12 27h1v1h-1zM28 27h2v1h-2zM35 27h1v1h-1zM43 27h1v1h-1zM46 27h1v1h-1zM10 28h1v1h-1zM15 28h1v1h-1zM34 28h1v1h-1zM20 29h1v1h-1zM1 30h1v1h-1zM22 30h1v1h-1zM29 30h1v1h-1zM44 30h1v1h-1zM46 30h1v1h-1z"/>
<path fill="#c4acd4" d="M1 0h1v1h-1zM3 0h2v1h-2zM16 0h1v1h-1zM12 1h1v1h-1zM29 2h1v1h-1zM45 2h1v1h-1zM34 6h1v1h-1zM39 6h1v1h-1zM9 7h1v1h-1zM12 7h1v1h-1zM21 7h1v1h-1zM12 8h1v1h-1zM17 8h1v1h-1zM12 9h1v1h-1zM4 10h1v1h-1zM8 10h1v1h-1zM25 10h1v1h-1zM48 10h1v1h-1zM13 11h2v1h-2zM20 11h1v1h-1zM34 11h1v1h-1zM3 12h1v1h-1zM28 12h1v1h-1zM5 13h1v1h-1zM21 13h1v1h-1zM15 14h1v1h-1zM26 14h1v1h-1zM6 15h1v1h-1zM15 15h1v1h-1zM35 15h1v1h-1zM43 15h1v1h-1zM46 15h1v1h-1zM19 16h1v1h-1zM48 16h1v1h-1zM35 19h1v1h-1zM44 19h1v1h-1zM0 21h1v1h-1zM4 21h1v1h-1zM9 21h1v1h-1zM27 21h1v1h-1zM33 21h1v1h-1zM35 21h1v1h-1zM40 21h1v1h-1zM40 22h1v1h-1zM33 23h3v1h-3zM44 23h1v1h-1zM46 23h1v1h-1zM20 24h1v1h-1zM33 24h1v1h-1zM35 25h1v1h-1zM13 26h2v1h-2zM22 26h1v1h-1zM44 26h2v1h-2zM14 27h1v1h-1zM33 27h1v1h-1zM37 27h1v1h-1zM41 27h1v1h-1zM8 28h1v1h-1zM27 28h1v1h-1zM17 29h2v1h-2zM32 29h1v1h-1zM40 29h1v1h-1zM44 29h1v1h-1zM46 29h1v1h-1zM0 30h1v1h-1zM8 30h1v1h-1zM23 30h1v1h-1zM39 30h1v1h-1zM48 30h1v1h-1z"/>
<path fill="#ccbcdc" d="M2 0h1v1h-1zM12 0h2v1h-2zM27 0h1v1h-1zM36 0h1v1h-1zM5 1h1v1h-1zM37 1h1v1h-1zM47 2h1v1h-1zM53 4h1v1h-1zM45 6h1v1h-1zM24 8h1v1h-1zM38 9h1v1h-1zM2 10h1v1h-1zM26 10h1v1h-1zM39 10h1v1h-1zM45 10h1v1h-1zM17 11h1v1h-1zM26 12h1v1h-1zM29 12h1v1h-1zM7 14h1v1h-1zM9 14h1v1h-1zM2 15h1v1h-1zM29 16h1v1h-1zM32 16h1v1h-1zM40 16h1v1h-1zM27 18h1v1h-1zM39 18h1v1h-1zM45 18h1v1h-1zM38 19h1v1h-1zM23 21h1v1h-1zM44 21h1v1h-1zM23 23h1v1h-1zM31 23h1v1h-1zM1 24h1v1h-1zM11 25h1v1h-1zM15 25h1v1h-1zM22 25h1v1h-1zM7 26h1v1h-1zM48 27h1v1h-1zM18 28h1v1h-1zM24 28h1v1h-1zM9 30h1v1h-1z"/>
<path fill="#dcd4e4" d="M5 0h1v1h-1zM26 11h1v1h-1zM22 12h1v1h-1zM76 17h1v1h-1zM79 20h1v1h-1zM0 31h1v1h-1z"/>
<path fill="#fcecf4" d="M6 0h1v1h-1zM47 11h1v1h-1zM6 31h1v1h-1zM17 31h1v1h-1z"/>
<path fill="#d4c4e4" d="M7 0h1v1h-1zM28 0h1v1h-1zM32 0h1v1h-1zM4 1h1v1h-1zM30 1h1v1h-1zM45 1h1v1h-1zM40 2h1v1h-1zM17 3h1v1h-1zM43 3h1v1h-1zM3 5h1v1h-1zM48 5h1v1h-1zM39 7h1v1h-1zM43 7h2v1h-2zM1 8h1v1h-1zM13 8h1v1h-1zM36 8h1v1h-1zM16 10h1v1h-1zM20 10h1v1h-1zM31 10h1v1h-1zM46 10h1v1h-1zM45 11h1v1h-1zM17 12h1v1h-1zM23 12h1v1h-1zM34 12h1v1h-1zM41 12h1v1h-1zM48 12h1v1h-1zM12 13h1v1h-1zM32 13h1v1h-1zM42 13h1v1h-1zM45 13h1v1h-1zM18 14h3v1h-3zM39 14h1v1h-1zM45 15h1v1h-1zM78 15h1v1h-1zM4 16h1v1h-1zM5 18h1v1h-1zM17 18h1v1h-1zM29 19h1v1h-1zM32 19h1v1h-1zM73 20h1v1h-1zM20 21h1v1h-1zM26 21h1v1h-1zM45 21h1v1h-1zM48 22h1v1h-1zM15 23h1v1h-1zM41 23h1v1h-1zM0 24h1v1h-1zM30 24h1v1h-1zM43 24h1v1h-1zM41 25h1v1h-1zM31 26h3v1h-3zM32 27h1v1h-1zM39 27h1v1h-1zM30 28h1v1h-1zM36 28h1v1h-1zM48 28h1v1h-1zM28 29h1v1h-1zM31 29h1v1h-1zM32 30h1v1h-1zM42 30h1v1h-1z"/>
<path fill="#fcdccc" d="M8 0h1v1h-1zM50 1h1v1h-1zM71 2h1v1h-1zM51 5h2v1h-2zM29 8h1v1h-1zM33 9h1v1h-1zM65 10h1v1h-1zM78 10h1v1h-1zM8 12h1v1h-1zM72 12h2v1h-2zM74 13h1v1h-1zM71 14h1v1h-1zM79 14h1v1h-1zM50 15h1v1h-1zM77 15h1v1h-1zM47 18h1v1h-1zM64 19h1v1h-1zM76 19h1v1h-1zM56 20h1v1h-1zM58 20h1v1h-1zM70 20h1v1h-1zM71 21h1v1h-1zM76 21h1v1h-1zM39 22h1v1h-1zM53 22h1v1h-1zM4 24h1v1h-1zM35 24h1v1h-1zM42 24h1v1h-1zM46 24h1v1h-1zM65 25h1v1h-1zM71 25h1v1h-1zM70 26h1v1h-1zM60 27h1v1h-1zM51 29h1v1h-1zM63 29h1v1h-1zM41 31h1v1h-1z"/>
<path fill="#b494cc" d="M9 0h1v1h-1zM11 0h1v1h-1zM11 1h1v1h-1zM16 1h1v1h-1zM39 2h1v1h-1zM41 2h1v1h-1zM3 4h1v1h-1zM8 5h1v1h-1zM25 6h1v1h-1zM11 8h1v1h-1zM22 10h1v1h-1zM29 10h1v1h-1zM11 13h1v1h-1zM14 13h1v1h-1zM2 14h1v1h-1zM6 14h1v1h-1zM8 14h1v1h-1zM27 14h1v1h-1zM38 14h1v1h-1zM41 14h1v1h-1zM25 16h1v1h-1zM47 16h1v1h-1zM8 17h1v1h-1zM32 17h1v1h-1zM42 19h1v1h-1zM4 20h1v1h-1zM17 21h1v1h-1zM21 21h1v1h-1zM43 21h1v1h-1zM3 22h1v1h-1zM16 22h1v1h-1zM23 22h1v1h-1zM41 22h1v1h-1zM6 25h1v1h-1zM14 25h1v1h-1zM19 25h1v1h-1zM26 25h1v1h-1zM48 25h1v1h-1zM12 26h1v1h-1zM19 26h1v1h-1zM26 26h1v1h-1zM28 26h1v1h-1zM18 27h1v1h-1zM21 27h1v1h-1zM7 28h1v1h-1zM9 28h1v1h-1zM29 28h1v1h-1zM47 28h1v1h-1zM19 29h1v1h-1zM25 29h1v1h-1zM38 29h1v1h-1zM4 30h1v1h-1zM14 30h1v1h-1zM19 30h1v1h-1zM25 30h1v1h-1z"/>
<path fill="#e4dcec" d="M10 0h1v1h-1zM18 0h2v1h-2zM7 1h1v1h-1zM19 1h1v1h-1zM40 1h1v1h-1zM70 2h1v1h-1zM20 3h1v1h-1zM26 3h1v1h-1zM45 3h1v1h-1zM70 4h1v1h-1zM73 4h1v1h-1zM30 5h1v1h-1zM6 6h1v1h-1zM24 7h1v1h-1zM28 7h1v1h-1zM30 7h1v1h-1zM46 7h1v1h-1zM9 8h1v1h-1zM15 8h2v1h-2zM35 8h1v1h-1zM36 9h1v1h-1zM38 10h1v1h-1zM76 10h1v1h-1zM79 11h1v1h-1zM5 12h1v1h-1zM31 12h1v1h-1zM33 12h1v1h-1zM47 12h1v1h-1zM4 13h1v1h-1zM44 13h1v1h-1zM5 14h1v1h-1zM19 15h1v1h-1zM44 15h1v1h-1zM2 18h1v1h-1zM37 18h1v1h-1zM9 22h1v1h-1zM34 22h1v1h-1zM47 22h1v1h-1zM39 25h1v1h-1zM46 25h1v1h-1zM62 27h1v1h-1zM3 31h1v1h-1z"/>
<path fill="#ecdcec" d="M14 0h1v1h-1zM21 0h1v1h-1zM41 1h1v1h-1zM72 2h1v1h-1zM8 3h2v1h-2zM16 3h1v1h-1zM75 4h1v1h-1zM10 5h1v1h-1zM6 7h1v1h-1zM48 7h1v1h-1zM23 8h1v1h-1zM16 9h2v1h-2zM24 12h1v1h-1zM45 14h1v1h-1zM48 15h1v1h-1zM16 18h1v1h-1zM38 18h1v1h-1zM73 19h1v1h-1zM65 20h1v1h-1zM5 22h1v1h-1zM30 22h1v1h-1zM5 24h1v1h-1zM7 24h1v1h-1zM15 24h1v1h-1zM34 24h1v1h-1zM52 26h1v1h-1zM71 27h1v1h-1zM39 31h1v1h-1z"/>
<path fill="#f4ecf4" d="M15 0h1v1h-1zM25 0h1v1h-1zM40 0h1v1h-1zM72 0h1v1h-1zM49 2h1v1h-1zM3 3h1v1h-1zM23 3h1v1h-1zM46 3h1v1h-1zM61 4h1v1h-1zM68 4h1v1h-1zM44 5h1v1h-1zM42 6h1v1h-1zM19 7h1v1h-1zM33 7h1v1h-1zM37 7h1v1h-1zM10 8h1v1h-1zM28 8h1v1h-1zM13 9h1v1h-1zM19 9h1v1h-1zM33 10h1v1h-1zM61 10h1v1h-1zM48 11h1v1h-1zM14 12h1v1h-1zM10 13h1v1h-1zM40 13h1v1h-1zM44 16h1v1h-1zM75 17h1v1h-1zM78 17h1v1h-1zM6 18h2v1h-2zM9 18h1v1h-1zM36 18h1v1h-1zM48 18h1v1h-1zM70 19h1v1h-1zM72 19h1v1h-1zM77 19h1v1h-1zM51 20h1v1h-1zM60 20h1v1h-1zM62 20h1v1h-1zM78 20h1v1h-1zM72 22h1v1h-1zM79 23h1v1h-1zM6 24h1v1h-1zM9 24h1v1h-1zM13 24h1v1h-1zM17 24h1v1h-1zM31 24h1v1h-1zM40 24h1v1h-1zM45 24h1v1h-1zM29 25h1v1h-1zM61 25h1v1h-1zM79 25h1v1h-1zM79 26h1v1h-1zM70 27h1v1h-1zM73 27h1v1h-1zM75 27h1v1h-1zM79 27h1v1h-1zM46 28h1v1h-1zM73 28h1v1h-1zM37 30h1v1h-1zM8 31h1v1h-1zM13 31h1v1h-1zM27 31h1v1h-1z"/>
<path fill="#bc9cd4" d="M17 0h1v1h-1zM6 1h1v1h-1zM2 2h1v1h-1zM9 10h1v1h-1zM46 13h1v1h-1zM11 14h1v1h-1zM20 15h1v1h-1zM7 16h1v1h-1zM45 16h1v1h-1zM32 21h1v1h-1zM1 22h1v1h-1z"/>
<path fill="#b49ccc" d="M20 0h1v1h-1zM2 1h1v1h-1zM13 1h1v1h-1zM18 1h1v1h-1zM20 1h1v1h-1zM46 1h1v1h-1zM10 2h1v1h-1zM19 2h1v1h-1zM24 2h1v1h-1zM30 2h1v1h-1zM1 5h1v1h-1zM9 5h1v1h-1zM21 5h1v1h-1zM26 5h1v1h-1zM29 5h1v1h-1zM35 5h1v1h-1zM45 5h1v1h-1zM30 6h1v1h-1zM47 6h1v1h-1zM18 8h1v1h-1zM0 10h2v1h-2zM10 10h1v1h-1zM12 10h1v1h-1zM23 10h1v1h-1zM27 10h1v1h-1zM35 10h1v1h-1zM1 11h1v1h-1zM11 11h1v1h-1zM25 11h1v1h-1zM30 11h1v1h-1zM0 12h1v1h-1zM7 13h1v1h-1zM13 13h1v1h-1zM19 13h1v1h-1zM11 15h2v1h-2zM25 15h1v1h-1zM39 15h1v1h-1zM21 16h1v1h-1zM43 16h1v1h-1zM2 17h1v1h-1zM27 17h1v1h-1zM16 19h1v1h-1zM47 19h1v1h-1zM19 20h1v1h-1zM46 20h1v1h-1zM18 21h1v1h-1zM36 21h1v1h-1zM48 21h1v1h-1zM12 22h1v1h-1zM21 22h2v1h-2zM24 22h1v1h-1zM2 23h1v1h-1zM32 23h1v1h-1zM27 25h1v1h-1zM37 25h1v1h-1zM6 26h1v1h-1zM9 26h1v1h-1zM11 26h1v1h-1zM34 26h1v1h-1zM37 26h1v1h-1zM42 26h2v1h-2zM40 27h1v1h-1zM22 28h1v1h-1zM44 28h1v1h-1zM10 29h1v1h-1zM33 29h1v1h-1zM36 30h1v1h-1zM41 30h1v1h-1z"/>
<path fill="#fcece4" d="M22 0h1v1h-1zM72 1h1v1h-1zM69 4h1v1h-1zM79 6h1v1h-1zM2 7h1v1h-1zM6 8h1v1h-1zM30 8h1v1h-1zM4 9h1v1h-1zM25 9h1v1h-1zM79 10h1v1h-1zM2 12h1v1h-1zM72 13h1v1h-1zM61 14h1v1h-1zM52 17h2v1h-2zM68 17h1v1h-1zM62 19h1v1h-1zM71 19h1v1h-1zM62 22h1v1h-1zM27 24h2v1h-2zM44 24h1v1h-1zM53 30h1v1h-1zM33 31h1v1h-1z"/>
<path fill="#ac94cc" d="M23 0h1v1h-1zM38 0h1v1h-1zM5 2h1v1h-1zM26 2h1v1h-1zM62 4h1v1h-1zM2 5h1v1h-1zM6 5h1v1h-1zM25 5h1v1h-1zM34 5h1v1h-1zM0 8h1v1h-1zM7 10h1v1h-1zM18 10h1v1h-1zM30 10h1v1h-1zM22 11h1v1h-1zM35 11h1v1h-1zM17 13h1v1h-1zM29 13h1v1h-1zM17 14h1v1h-1zM34 14h1v1h-1zM14 16h1v1h-1zM42 16h1v1h-1zM21 17h1v1h-1zM30 17h1v1h-1zM15 19h1v1h-1zM28 19h1v1h-1zM39 19h1v1h-1zM48 19h1v1h-1zM14 20h1v1h-1zM72 20h1v1h-1zM7 21h1v1h-1zM28 21h1v1h-1zM0 22h1v1h-1zM25 22h1v1h-1zM27 22h1v1h-1zM40 23h1v1h-1zM4 25h1v1h-1zM16 25h1v1h-1zM16 26h1v1h-1zM39 26h1v1h-1zM4 27h1v1h-1zM8 27h1v1h-1zM42 29h1v1h-1zM15 30h1v1h-1z"/>
<path fill="#dcd4ec" d="M24 0h1v1h-1zM18 2h1v1h-1zM21 3h1v1h-1zM7 5h1v1h-1zM10 12h1v1h-1zM21 18h1v1h-1zM76 20h1v1h-1zM37 21h1v1h-1zM46 21h1v1h-1zM5 23h1v1h-1zM14 23h1v1h-1zM73 29h1v1h-1z"/>
<path fill="#a484c4" d="M26 0h1v1h-1zM15 1h1v1h-1zM29 1h1v1h-1zM32 1h1v1h-1zM14 2h2v1h-2zM28 2h1v1h-1zM10 4h1v1h-1zM76 4h1v1h-1zM17 5h1v1h-1zM43 5h1v1h-1zM4 6h1v1h-1zM36 10h1v1h-1zM8 11h1v1h-1zM28 11h1v1h-1zM23 13h1v1h-1zM9 15h1v1h-1zM23 15h1v1h-1zM32 15h2v1h-2zM5 16h1v1h-1zM23 16h1v1h-1zM38 16h1v1h-1zM22 17h1v1h-1zM44 17h1v1h-1zM47 17h1v1h-1zM5 20h1v1h-1zM31 22h1v1h-1zM36 22h1v1h-1zM6 23h1v1h-1zM17 23h1v1h-1zM20 23h1v1h-1zM3 25h1v1h-1zM5 25h1v1h-1zM13 25h1v1h-1zM20 25h1v1h-1zM1 26h1v1h-1zM8 26h1v1h-1zM25 26h1v1h-1zM41 26h1v1h-1zM5 27h1v1h-1zM25 27h1v1h-1zM47 27h1v1h-1zM3 28h1v1h-1zM40 28h1v1h-1zM37 29h1v1h-1zM39 29h1v1h-1zM41 29h1v1h-1zM6 30h1v1h-1zM12 30h2v1h-2zM17 30h1v1h-1zM34 30h1v1h-1zM38 30h1v1h-1z"/>
<path fill="#ccb4dc" d="M29 0h1v1h-1zM23 1h1v1h-1zM28 1h1v1h-1zM16 2h1v1h-1zM12 3h1v1h-1zM74 4h1v1h-1zM12 6h1v1h-1zM24 6h1v1h-1zM28 6h1v1h-1zM31 6h1v1h-1zM38 6h1v1h-1zM48 6h1v1h-1zM20 7h1v1h-1zM8 8h1v1h-1zM31 8h1v1h-1zM5 9h1v1h-1zM42 10h1v1h-1zM44 10h1v1h-1zM4 11h1v1h-1zM7 11h1v1h-1zM10 11h1v1h-1zM24 11h1v1h-1zM7 12h1v1h-1zM15 12h1v1h-1zM36 12h1v1h-1zM15 13h2v1h-2zM32 14h1v1h-1zM7 15h1v1h-1zM9 16h1v1h-1zM27 16h1v1h-1zM46 17h1v1h-1zM12 19h1v1h-1zM33 19h1v1h-1zM63 20h1v1h-1zM10 21h1v1h-1zM14 21h1v1h-1zM43 22h1v1h-1zM4 23h1v1h-1zM18 23h1v1h-1zM30 23h1v1h-1zM23 24h2v1h-2zM26 24h1v1h-1zM23 26h1v1h-1zM47 26h1v1h-1zM3 27h1v1h-1zM19 27h1v1h-1zM24 27h1v1h-1zM11 28h1v1h-1zM37 28h1v1h-1zM43 29h1v1h-1zM2 30h1v1h-1zM18 30h1v1h-1zM24 30h1v1h-1zM30 30h1v1h-1zM40 30h1v1h-1zM45 30h1v1h-1z"/>
<path fill="#fcdcd4" d="M30 0h1v1h-1zM78 2h1v1h-1zM40 3h1v1h-1zM64 5h1v1h-1zM72 6h1v1h-1zM29 7h1v1h-1zM34 9h1v1h-1zM40 9h1v1h-1zM53 14h1v1h-1zM53 15h1v1h-1zM74 15h1v1h-1zM71 16h1v1h-1zM55 17h1v1h-1zM61 17h1v1h-1zM4 18h1v1h-1zM25 18h1v1h-1zM72 18h1v1h-1zM75 19h1v1h-1zM42 21h1v1h-1zM53 21h1v1h-1zM49 28h1v1h-1zM5 31h1v1h-1zM9 31h1v1h-1zM11 31h1v1h-1zM15 31h1v1h-1zM29 31h1v1h-1z"/>
<path fill="#ece4f4" d="M31 0h1v1h-1zM33 0h1v1h-1zM47 0h1v1h-1zM22 6h1v1h-1zM29 6h1v1h-1zM0 7h1v1h-1zM15 7h1v1h-1zM18 7h1v1h-1zM19 8h1v1h-1zM1 9h1v1h-1zM8 9h1v1h-1zM3 11h1v1h-1zM9 12h1v1h-1zM42 18h1v1h-1zM42 25h1v1h-1zM45 28h1v1h-1zM10 31h1v1h-1z"/>
<path fill="#e4d4ec" d="M34 0h2v1h-2zM48 0h1v1h-1zM10 1h1v1h-1zM17 1h1v1h-1zM44 1h1v1h-1zM48 1h1v1h-1zM4 3h1v1h-1zM11 3h1v1h-1zM29 3h1v1h-1zM35 3h1v1h-1zM41 3h1v1h-1zM42 5h1v1h-1zM72 5h1v1h-1zM77 5h1v1h-1zM23 6h1v1h-1zM35 6h1v1h-1zM25 7h1v1h-1zM36 7h1v1h-1zM45 7h1v1h-1zM26 8h2v1h-2zM39 8h1v1h-1zM6 9h1v1h-1zM10 9h1v1h-1zM43 9h1v1h-1zM19 10h1v1h-1zM6 12h1v1h-1zM38 12h1v1h-1zM45 12h1v1h-1zM3 13h1v1h-1zM18 13h1v1h-1zM30 13h1v1h-1zM41 13h1v1h-1zM43 13h1v1h-1zM4 14h1v1h-1zM37 14h1v1h-1zM3 15h1v1h-1zM75 15h1v1h-1zM72 16h1v1h-1zM77 16h1v1h-1zM1 18h1v1h-1zM20 18h1v1h-1zM61 19h1v1h-1zM49 20h1v1h-1zM71 20h1v1h-1zM2 21h1v1h-1zM73 22h1v1h-1zM9 23h1v1h-1zM0 25h1v1h-1zM72 27h1v1h-1zM77 27h1v1h-1zM39 28h1v1h-1zM3 29h1v1h-1zM48 29h1v1h-1zM79 29h1v1h-1zM3 30h1v1h-1zM10 30h1v1h-1zM23 31h1v1h-1z"/>
<path fill="#ece4ec" d="M37 0h1v1h-1zM2 3h1v1h-1zM13 3h2v1h-2zM18 3h1v1h-1zM33 3h1v1h-1zM65 4h1v1h-1zM1 7h1v1h-1zM34 8h1v1h-1zM41 8h1v1h-1zM24 9h1v1h-1zM30 9h1v1h-1zM32 12h1v1h-1zM40 12h1v1h-1zM43 12h1v1h-1zM2 13h1v1h-1zM47 14h1v1h-1zM29 15h1v1h-1zM72 15h1v1h-1zM79 15h1v1h-1zM73 16h1v1h-1zM49 17h1v1h-1zM0 18h1v1h-1zM10 18h1v1h-1zM18 18h1v1h-1zM75 20h1v1h-1zM46 22h1v1h-1zM75 22h1v1h-1zM42 23h1v1h-1zM12 24h1v1h-1zM18 24h1v1h-1zM41 24h1v1h-1zM48 24h1v1h-1zM30 25h1v1h-1zM2 28h1v1h-1zM16 31h1v1h-1zM34 31h3v1h-3zM38 31h1v1h-1z"/>
<path fill="#dccce4" d="M39 0h1v1h-1zM43 0h2v1h-2zM39 1h1v1h-1zM73 2h1v1h-1zM1 3h1v1h-1zM24 3h1v1h-1zM56 4h1v1h-1zM58 4h1v1h-1zM79 4h1v1h-1zM23 5h1v1h-1zM31 5h1v1h-1zM33 5h1v1h-1zM47 5h1v1h-1zM2 6h1v1h-1zM9 6h1v1h-1zM14 6h1v1h-1zM19 6h1v1h-1zM3 7h1v1h-1zM13 7h1v1h-1zM26 7h2v1h-2zM31 7h1v1h-1zM7 8h1v1h-1zM21 8h2v1h-2zM32 8h1v1h-1zM37 8h1v1h-1zM46 8h1v1h-1zM11 9h1v1h-1zM18 9h1v1h-1zM41 10h1v1h-1zM43 10h1v1h-1zM2 11h1v1h-1zM6 11h1v1h-1zM12 11h1v1h-1zM18 11h2v1h-2zM29 11h1v1h-1zM38 11h1v1h-1zM43 11h1v1h-1zM13 12h1v1h-1zM19 12h2v1h-2zM30 12h1v1h-1zM0 13h1v1h-1zM6 13h1v1h-1zM31 13h1v1h-1zM3 14h1v1h-1zM12 14h1v1h-1zM28 14h1v1h-1zM46 14h1v1h-1zM30 15h1v1h-1zM41 15h1v1h-1zM11 18h1v1h-1zM22 18h1v1h-1zM46 18h1v1h-1zM7 19h1v1h-1zM46 19h1v1h-1zM74 19h1v1h-1zM19 21h1v1h-1zM30 21h1v1h-1zM10 22h1v1h-1zM44 22h1v1h-1zM77 22h1v1h-1zM12 23h1v1h-1zM16 23h1v1h-1zM21 23h1v1h-1zM24 23h1v1h-1zM29 23h1v1h-1zM8 24h1v1h-1zM14 24h1v1h-1zM22 24h1v1h-1zM32 24h1v1h-1zM39 24h1v1h-1zM28 25h1v1h-1zM44 25h1v1h-1zM29 26h1v1h-1zM48 26h1v1h-1zM16 27h1v1h-1zM44 27h1v1h-1zM42 28h1v1h-1zM2 29h1v1h-1zM4 29h1v1h-1zM6 29h1v1h-1zM30 29h1v1h-1zM77 29h1v1h-1zM47 30h1v1h-1zM72 30h1v1h-1z"/>
<path fill="#9474bc" d="M41 0h1v1h-1zM27 1h1v1h-1zM3 2h1v1h-1zM27 2h1v1h-1zM34 2h1v1h-1zM26 4h1v1h-1zM37 4h1v1h-1zM40 4h1v1h-1zM13 5h1v1h-1zM17 6h1v1h-1zM11 10h1v1h-1zM1 14h1v1h-1zM5 15h1v1h-1zM36 16h1v1h-1zM11 17h1v1h-1zM34 19h1v1h-1zM29 20h1v1h-1zM6 22h1v1h-1zM0 23h1v1h-1zM27 23h1v1h-1zM36 25h1v1h-1zM10 27h1v1h-1zM31 27h1v1h-1z"/>
<path fill="#f4bca4" d="M42 0h1v1h-1zM50 0h1v1h-1zM77 0h1v1h-1zM68 1h1v1h-1zM60 4h1v1h-1zM67 4h1v1h-1zM70 5h1v1h-1zM75 5h1v1h-1zM59 6h1v1h-1zM42 8h1v1h-1zM75 8h1v1h-1zM71 11h1v1h-1zM63 13h1v1h-1zM67 15h1v1h-1zM69 15h1v1h-1zM62 16h1v1h-1zM67 16h1v1h-1zM67 17h1v1h-1zM50 18h1v1h-1zM75 18h1v1h-1zM63 19h1v1h-1zM65 19h1v1h-1zM50 21h1v1h-1zM67 21h1v1h-1zM78 22h1v1h-1zM54 23h1v1h-1zM64 23h1v1h-1zM54 25h1v1h-1zM67 25h1v1h-1zM57 26h1v1h-1zM61 26h1v1h-1zM69 26h1v1h-1zM57 27h1v1h-1zM58 29h1v1h-1zM65 30h1v1h-1zM2 31h1v1h-1zM14 31h1v1h-1zM32 31h1v1h-1z"/>
<path fill="#f4f4f4" d="M46 0h1v1h-1zM42 1h1v1h-1zM79 2h1v1h-1zM25 3h1v1h-1zM14 8h1v1h-1zM3 9h1v1h-1zM20 9h1v1h-1zM40 10h1v1h-1zM72 10h1v1h-1zM39 11h1v1h-1zM21 12h1v1h-1zM37 12h1v1h-1zM42 14h1v1h-1zM73 15h1v1h-1zM72 17h2v1h-2zM23 18h1v1h-1zM28 18h1v1h-1zM61 20h1v1h-1zM47 21h1v1h-1zM76 25h1v1h-1zM72 28h1v1h-1z"/>
<path fill="#f4b494" d="M49 0h1v1h-1zM61 0h1v1h-1zM68 0h1v1h-1zM54 2h1v1h-1zM65 2h2v1h-2zM5 3h1v1h-1zM62 3h1v1h-1zM65 7h1v1h-1zM71 9h1v1h-1zM63 11h1v1h-1zM68 11h1v1h-1zM50 12h1v1h-1zM62 12h1v1h-1zM75 12h1v1h-1zM53 13h1v1h-1zM64 14h1v1h-1zM68 14h1v1h-1zM63 16h1v1h-1zM65 17h1v1h-1zM69 17h1v1h-1zM58 21h1v1h-1zM69 23h1v1h-1zM79 24h1v1h-1zM58 30h1v1h-1zM12 31h1v1h-1z"/>
<path fill="#f4ac8c" d="M51 0h1v1h-1zM53 0h1v1h-1zM63 1h1v1h-1zM70 1h1v1h-1zM59 2h1v1h-1zM76 5h1v1h-1zM51 6h1v1h-1zM60 6h1v1h-1zM70 6h1v1h-1zM53 10h1v1h-1zM49 12h1v1h-1zM58 12h1v1h-1zM52 13h1v1h-1zM70 13h1v1h-1zM65 14h1v1h-1zM64 15h1v1h-1zM56 17h1v1h-1zM59 21h1v1h-1zM63 21h1v1h-1zM63 22h2v1h-2zM79 22h1v1h-1zM53 23h1v1h-1zM49 24h1v1h-1zM71 24h1v1h-1zM49 25h1v1h-1zM66 25h1v1h-1zM55 26h1v1h-1zM54 27h1v1h-1zM66 27h1v1h-1zM52 28h1v1h-1zM60 28h2v1h-2zM74 28h1v1h-1zM52 29h1v1h-1zM69 30h1v1h-1zM77 30h1v1h-1z"/>
<path fill="#ec8c6c" d="M52 0h1v1h-1zM65 0h1v1h-1zM51 1h1v1h-1zM56 1h1v1h-1zM76 3h1v1h-1zM56 5h2v1h-2zM57 6h1v1h-1zM62 7h1v1h-1zM69 7h1v1h-1zM64 8h1v1h-1zM74 8h1v1h-1zM74 9h1v1h-1zM79 9h1v1h-1zM49 11h1v1h-1zM61 11h1v1h-1zM60 12h1v1h-1zM70 14h1v1h-1zM56 15h1v1h-1zM59 15h1v1h-1zM57 16h1v1h-1zM51 18h1v1h-1zM52 24h1v1h-1zM68 24h1v1h-1zM54 26h1v1h-1zM66 26h1v1h-1zM64 27h1v1h-1zM67 28h1v1h-1zM60 29h1v1h-1zM66 29h1v1h-1zM67 30h1v1h-1z"/>
<path fill="#e45c44" d="M54 0h1v1h-1zM57 0h3v1h-3zM54 6h1v1h-1zM52 7h1v1h-1zM63 7h1v1h-1zM66 7h1v1h-1zM59 8h1v1h-1zM51 9h1v1h-1zM63 9h1v1h-1zM57 10h1v1h-1zM59 10h1v1h-1zM66 13h1v1h-1zM52 18h1v1h-1zM54 21h1v1h-1zM51 31h1v1h-1zM57 31h2v1h-2z"/>
<path fill="#ec745c" d="M55 0h1v1h-1zM69 0h1v1h-1zM54 1h1v1h-1zM61 1h1v1h-1zM66 1h1v1h-1zM50 3h1v1h-1zM57 7h1v1h-1zM59 7h1v1h-1zM58 8h1v1h-1zM51 11h1v1h-1zM53 11h1v1h-1zM54 13h1v1h-1zM54 19h1v1h-1zM66 19h1v1h-1zM68 21h1v1h-1zM51 24h1v1h-1zM54 24h1v1h-1zM61 31h1v1h-1zM65 31h1v1h-1zM74 31h1v1h-1z"/>
<path fill="#e46c4c" d="M56 0h1v1h-1zM57 2h1v1h-1zM63 8h1v1h-1zM55 18h1v1h-1zM78 24h1v1h-1zM56 25h1v1h-1z"/>
<path fill="#e46c54" d="M60 0h1v1h-1zM70 9h1v1h-1zM55 10h1v1h-1zM59 13h1v1h-1zM58 14h1v1h-1zM67 18h1v1h-1zM67 22h1v1h-1zM49 23h1v1h-1zM66 31h2v1h-2z"/>
<path fill="#fcccb4" d="M62 0h1v1h-1zM73 0h1v1h-1zM49 1h1v1h-1zM62 1h1v1h-1zM64 2h1v1h-1zM68 2h1v1h-1zM22 3h1v1h-1zM47 3h1v1h-1zM73 3h1v1h-1zM61 5h1v1h-1zM50 6h1v1h-1zM71 6h1v1h-1zM75 6h2v1h-2zM32 7h1v1h-1zM78 7h1v1h-1zM47 8h1v1h-1zM15 9h1v1h-1zM50 9h1v1h-1zM58 10h1v1h-1zM76 11h1v1h-1zM42 12h1v1h-1zM74 14h1v1h-1zM79 16h1v1h-1zM70 17h1v1h-1zM43 18h1v1h-1zM52 19h1v1h-1zM68 19h1v1h-1zM78 19h1v1h-1zM72 21h1v1h-1zM78 21h1v1h-1zM55 23h1v1h-1zM72 23h2v1h-2zM51 25h1v1h-1zM53 25h1v1h-1zM71 26h1v1h-1zM63 27h1v1h-1zM69 27h1v1h-1zM63 28h2v1h-2zM70 28h2v1h-2zM49 29h1v1h-1zM73 30h2v1h-2z"/>
<path fill="#f4947c" d="M63 0h1v1h-1zM71 0h1v1h-1zM69 5h1v1h-1zM64 6h1v1h-1zM61 9h2v1h-2zM60 10h1v1h-1zM68 12h1v1h-1zM58 15h1v1h-1zM71 22h1v1h-1zM58 26h1v1h-1zM62 31h1v1h-1zM72 31h1v1h-1z"/>
<path fill="#ec7c64" d="M64 0h1v1h-1zM55 2h1v1h-1zM61 3h1v1h-1zM59 5h1v1h-1zM67 5h1v1h-1zM55 8h1v1h-1zM51 12h1v1h-1zM63 26h1v1h-1zM57 30h1v1h-1z"/>
<path fill="#ec7c5c" d="M66 0h1v1h-1zM57 1h1v1h-1zM67 1h1v1h-1zM71 3h1v1h-1zM54 5h1v1h-1zM53 7h1v1h-1zM79 7h1v1h-1zM49 8h1v1h-1zM52 8h1v1h-1zM65 8h1v1h-1zM67 8h2v1h-2zM70 8h1v1h-1zM52 10h1v1h-1zM55 11h1v1h-1zM60 11h1v1h-1zM67 11h1v1h-1zM70 11h1v1h-1zM59 12h1v1h-1zM69 12h1v1h-1zM55 13h1v1h-1zM69 13h1v1h-1zM56 14h1v1h-1zM66 14h1v1h-1zM59 17h1v1h-1zM49 18h1v1h-1zM61 18h1v1h-1zM63 18h1v1h-1zM66 21h1v1h-1zM55 22h1v1h-1zM66 22h1v1h-1zM58 23h1v1h-1zM58 24h2v1h-2zM66 24h1v1h-1zM51 30h1v1h-1zM54 30h1v1h-1zM59 30h1v1h-1zM75 31h1v1h-1z"/>
<path fill="#f49c7c" d="M67 0h1v1h-1zM59 1h1v1h-1zM69 2h1v1h-1zM77 3h2v1h-2zM55 6h1v1h-1zM63 6h1v1h-1zM66 6h2v1h-2zM69 8h1v1h-1zM71 8h1v1h-1zM77 8h1v1h-1zM74 11h1v1h-1zM53 12h1v1h-1zM61 12h1v1h-1zM64 12h1v1h-1zM60 13h1v1h-1zM67 13h1v1h-1zM49 14h1v1h-1zM54 14h1v1h-1zM77 14h1v1h-1zM60 15h1v1h-1zM63 15h1v1h-1zM65 15h1v1h-1zM53 18h1v1h-1zM77 18h1v1h-1zM56 19h1v1h-1zM52 23h1v1h-1zM67 23h1v1h-1zM65 24h1v1h-1zM58 25h1v1h-1zM60 26h1v1h-1zM66 30h1v1h-1zM42 31h1v1h-1z"/>
<path fill="#ec7454" d="M70 0h1v1h-1zM60 1h1v1h-1zM59 3h1v1h-1zM54 7h1v1h-1zM58 7h1v1h-1zM67 7h1v1h-1zM56 8h1v1h-1zM52 9h1v1h-1zM54 10h1v1h-1zM56 10h1v1h-1zM57 11h1v1h-1zM64 11h1v1h-1zM54 12h1v1h-1zM69 19h1v1h-1zM56 21h1v1h-1zM63 24h2v1h-2zM56 28h1v1h-1zM70 30h1v1h-1z"/>
<path fill="#f4a484" d="M74 0h1v1h-1zM71 1h1v1h-1zM67 2h1v1h-1zM72 3h1v1h-1zM53 5h1v1h-1zM60 5h1v1h-1zM62 5h1v1h-1zM65 6h1v1h-1zM69 6h1v1h-1zM73 6h1v1h-1zM73 7h1v1h-1zM77 7h1v1h-1zM76 8h1v1h-1zM64 9h1v1h-1zM51 10h1v1h-1zM68 10h1v1h-1zM65 12h1v1h-1zM64 13h1v1h-1zM63 14h1v1h-1zM51 17h1v1h-1zM66 17h1v1h-1zM68 18h1v1h-1zM71 18h1v1h-1zM74 18h1v1h-1zM51 19h1v1h-1zM53 19h1v1h-1zM58 19h1v1h-1zM60 19h1v1h-1zM67 19h1v1h-1zM52 21h1v1h-1zM55 21h1v1h-1zM74 21h1v1h-1zM54 22h1v1h-1zM69 22h1v1h-1zM50 24h1v1h-1zM62 24h1v1h-1zM69 25h1v1h-1zM65 26h1v1h-1zM52 27h1v1h-1zM51 28h1v1h-1zM57 28h1v1h-1zM59 28h1v1h-1zM52 30h1v1h-1zM60 30h1v1h-1zM63 30h1v1h-1zM44 31h1v1h-1zM73 31h1v1h-1z"/>
<path fill="#fcccbc" d="M75 0h1v1h-1zM51 2h1v1h-1zM50 10h1v1h-1zM69 14h1v1h-1zM73 14h1v1h-1zM62 15h1v1h-1zM24 18h1v1h-1z"/>
<path fill="#f4b49c" d="M76 0h1v1h-1zM65 1h1v1h-1zM30 3h1v1h-1zM78 9h1v1h-1zM64 10h1v1h-1zM50 11h1v1h-1zM66 11h1v1h-1zM76 12h1v1h-1zM49 13h1v1h-1zM51 14h1v1h-1zM75 14h1v1h-1zM70 15h1v1h-1zM76 15h1v1h-1zM52 16h1v1h-1zM56 16h1v1h-1zM70 16h1v1h-1zM57 17h1v1h-1zM76 18h1v1h-1zM52 20h1v1h-1zM55 20h1v1h-1zM69 21h2v1h-2zM61 22h1v1h-1zM63 23h1v1h-1zM68 23h1v1h-1zM67 26h2v1h-2zM55 27h1v1h-1zM61 30h1v1h-1z"/>
<path fill="#fcd4c4" d="M78 0h1v1h-1zM53 1h1v1h-1zM53 2h1v1h-1zM54 4h2v1h-2zM57 4h1v1h-1zM63 4h1v1h-1zM65 5h1v1h-1zM74 6h1v1h-1zM42 7h1v1h-1zM40 8h1v1h-1zM7 9h1v1h-1zM28 9h1v1h-1zM42 9h1v1h-1zM46 9h1v1h-1zM73 9h1v1h-1zM62 13h1v1h-1zM79 13h1v1h-1zM40 14h1v1h-1zM62 14h1v1h-1zM53 16h1v1h-1zM68 16h1v1h-1zM50 17h1v1h-1zM30 18h1v1h-1zM40 18h1v1h-1zM67 20h2v1h-2zM51 21h1v1h-1zM79 21h1v1h-1zM75 25h1v1h-1zM78 25h1v1h-1zM53 26h1v1h-1zM78 27h1v1h-1zM50 28h1v1h-1zM62 28h1v1h-1zM78 28h1v1h-1zM65 29h1v1h-1z"/>
<path fill="#fce4d4" d="M79 0h1v1h-1zM75 2h1v1h-1zM63 5h1v1h-1zM22 9h1v1h-1zM29 9h1v1h-1zM48 9h1v1h-1zM39 12h1v1h-1zM58 16h1v1h-1zM62 23h1v1h-1zM78 23h1v1h-1zM61 27h1v1h-1zM75 29h1v1h-1zM78 29h1v1h-1zM50 30h1v1h-1zM19 31h1v1h-1z"/>
<path fill="#ac8cc4" d="M3 1h1v1h-1zM9 1h1v1h-1zM14 1h1v1h-1zM35 1h1v1h-1zM31 2h2v1h-2zM27 3h1v1h-1zM11 5h1v1h-1zM16 5h1v1h-1zM39 5h1v1h-1zM41 5h1v1h-1zM8 6h1v1h-1zM15 6h1v1h-1zM21 10h1v1h-1zM0 11h1v1h-1zM23 11h1v1h-1zM41 11h1v1h-1zM16 12h1v1h-1zM27 12h1v1h-1zM48 13h1v1h-1zM22 15h1v1h-1zM28 15h1v1h-1zM15 16h1v1h-1zM17 16h1v1h-1zM22 16h1v1h-1zM31 16h1v1h-1zM33 16h1v1h-1zM46 16h1v1h-1zM20 17h1v1h-1zM15 18h1v1h-1zM2 19h1v1h-1zM13 19h1v1h-1zM17 19h1v1h-1zM19 19h1v1h-1zM21 19h1v1h-1zM23 19h2v1h-2zM3 20h1v1h-1zM30 20h1v1h-1zM5 21h1v1h-1zM15 21h1v1h-1zM25 21h1v1h-1zM31 21h1v1h-1zM39 21h1v1h-1zM8 22h1v1h-1zM13 23h1v1h-1zM28 23h1v1h-1zM47 23h1v1h-1zM1 25h1v1h-1zM12 25h1v1h-1zM34 25h1v1h-1zM45 25h1v1h-1zM0 26h1v1h-1zM27 26h1v1h-1zM20 27h1v1h-1zM1 28h1v1h-1zM23 28h1v1h-1zM25 28h1v1h-1zM31 28h1v1h-1zM7 29h1v1h-1zM16 29h1v1h-1zM21 29h1v1h-1zM35 29h1v1h-1zM7 30h1v1h-1zM11 30h1v1h-1z"/>
<path fill="#9c7cbc" d="M21 1h1v1h-1zM4 2h1v1h-1zM6 2h1v1h-1zM12 2h1v1h-1zM17 2h1v1h-1zM46 4h1v1h-1zM48 4h1v1h-1zM36 5h1v1h-1zM20 6h1v1h-1zM26 6h1v1h-1zM41 6h1v1h-1zM35 9h1v1h-1zM3 10h1v1h-1zM6 10h1v1h-1zM13 10h2v1h-2zM15 11h2v1h-2zM27 11h1v1h-1zM1 12h1v1h-1zM4 12h1v1h-1zM1 13h1v1h-1zM20 13h1v1h-1zM23 14h1v1h-1zM0 15h2v1h-2zM10 15h1v1h-1zM21 15h1v1h-1zM24 15h1v1h-1zM36 15h1v1h-1zM12 16h1v1h-1zM7 17h1v1h-1zM17 17h1v1h-1zM24 17h1v1h-1zM29 17h1v1h-1zM43 17h1v1h-1zM45 17h1v1h-1zM4 19h2v1h-2zM22 19h1v1h-1zM43 19h1v1h-1zM9 20h1v1h-1zM32 20h1v1h-1zM45 20h1v1h-1zM11 21h1v1h-1zM13 21h1v1h-1zM24 21h1v1h-1zM41 21h1v1h-1zM11 22h1v1h-1zM1 23h1v1h-1zM11 23h1v1h-1zM26 23h1v1h-1zM38 23h1v1h-1zM8 25h2v1h-2zM38 25h1v1h-1zM3 26h1v1h-1zM15 26h1v1h-1zM35 26h1v1h-1zM6 27h2v1h-2zM15 27h1v1h-1zM34 27h1v1h-1zM45 27h1v1h-1zM5 28h2v1h-2zM16 28h1v1h-1zM13 29h1v1h-1zM26 29h2v1h-2zM36 29h1v1h-1zM45 29h1v1h-1zM47 29h1v1h-1zM26 30h1v1h-1zM28 30h1v1h-1zM31 30h1v1h-1zM35 30h1v1h-1z"/>
<path fill="#c4b4dc" d="M22 1h1v1h-1zM43 2h1v1h-1zM46 2h1v1h-1zM6 3h1v1h-1zM28 3h1v1h-1zM1 6h1v1h-1zM17 7h1v1h-1zM38 8h1v1h-1zM5 11h1v1h-1zM8 13h1v1h-1zM25 13h1v1h-1zM28 13h1v1h-1zM0 14h1v1h-1zM42 15h1v1h-1zM14 18h1v1h-1zM50 20h1v1h-1zM42 22h1v1h-1zM19 23h1v1h-1zM2 24h1v1h-1zM16 24h1v1h-1zM17 25h1v1h-1zM25 25h1v1h-1zM40 26h1v1h-1zM43 28h1v1h-1zM72 29h1v1h-1z"/>
<path fill="#a48cc4" d="M24 1h1v1h-1zM35 2h1v1h-1zM37 11h1v1h-1zM27 13h1v1h-1zM4 15h1v1h-1zM37 15h1v1h-1zM26 16h1v1h-1zM1 19h1v1h-1zM10 19h1v1h-1zM13 22h1v1h-1zM18 22h1v1h-1zM22 23h1v1h-1zM33 25h1v1h-1zM2 26h1v1h-1zM30 26h1v1h-1zM12 28h1v1h-1zM41 28h1v1h-1zM9 29h1v1h-1zM34 29h1v1h-1zM16 30h1v1h-1zM20 30h1v1h-1z"/>
<path fill="#9474b4" d="M25 1h1v1h-1zM0 4h1v1h-1zM47 4h1v1h-1zM38 5h1v1h-1zM5 6h1v1h-1zM36 6h1v1h-1zM8 15h1v1h-1zM13 15h1v1h-1zM47 15h1v1h-1zM8 16h1v1h-1zM11 16h1v1h-1zM41 16h1v1h-1zM13 17h1v1h-1zM18 17h1v1h-1zM26 17h1v1h-1zM9 19h1v1h-1zM28 20h1v1h-1zM39 20h1v1h-1zM33 22h1v1h-1zM35 22h1v1h-1zM8 23h1v1h-1zM5 26h1v1h-1zM26 27h1v1h-1zM21 30h1v1h-1z"/>
<path fill="#c4acdc" d="M26 1h1v1h-1zM33 1h1v1h-1zM7 2h1v1h-1zM25 2h1v1h-1zM37 5h1v1h-1zM18 6h1v1h-1zM44 6h1v1h-1zM11 7h1v1h-1zM16 7h1v1h-1zM3 8h1v1h-1zM32 10h1v1h-1zM37 10h1v1h-1zM35 12h1v1h-1zM9 13h1v1h-1zM26 13h1v1h-1zM36 13h1v1h-1zM26 15h1v1h-1zM19 18h1v1h-1zM18 19h1v1h-1zM2 22h1v1h-1zM7 23h1v1h-1zM39 23h1v1h-1zM43 23h1v1h-1zM3 24h1v1h-1zM7 25h1v1h-1zM46 26h1v1h-1zM19 28h1v1h-1zM33 28h1v1h-1z"/>
<path fill="#8c6cb4" d="M36 1h1v1h-1zM38 1h1v1h-1zM33 4h1v1h-1zM27 5h2v1h-2zM28 10h1v1h-1zM36 11h1v1h-1zM1 16h1v1h-1zM0 17h2v1h-2zM10 17h1v1h-1zM15 17h1v1h-1zM19 17h1v1h-1zM25 17h1v1h-1zM33 17h1v1h-1zM6 19h1v1h-1zM0 20h1v1h-1zM2 20h1v1h-1zM2 27h1v1h-1zM13 28h1v1h-1zM28 28h1v1h-1zM23 29h1v1h-1zM27 30h1v1h-1z"/>
<path fill="#dcc4e4" d="M43 1h1v1h-1zM7 6h1v1h-1zM37 6h1v1h-1zM0 9h1v1h-1zM9 11h1v1h-1zM33 11h1v1h-1zM29 22h1v1h-1zM72 26h1v1h-1zM14 29h1v1h-1z"/>
<path fill="#fcf4f4" d="M47 1h1v1h-1zM79 1h1v1h-1zM61 2h1v1h-1zM31 3h1v1h-1zM39 3h1v1h-1zM44 3h1v1h-1zM52 4h1v1h-1zM7 7h1v1h-1zM14 7h1v1h-1zM34 7h1v1h-1zM14 9h1v1h-1zM21 9h1v1h-1zM41 9h1v1h-1zM46 11h1v1h-1zM78 13h1v1h-1zM44 14h1v1h-1zM78 16h1v1h-1zM77 17h1v1h-1zM79 17h1v1h-1zM8 18h1v1h-1zM29 18h1v1h-1zM74 20h1v1h-1zM76 22h1v1h-1zM48 23h1v1h-1zM25 24h1v1h-1zM38 24h1v1h-1zM62 25h1v1h-1zM72 25h1v1h-1zM75 28h2v1h-2zM61 29h1v1h-1zM4 31h1v1h-1zM43 31h1v1h-1z"/>
<path fill="#f49474" d="M52 1h1v1h-1zM64 1h1v1h-1zM56 2h1v1h-1zM60 2h1v1h-1zM53 3h1v1h-1zM75 3h1v1h-1zM58 5h1v1h-1zM60 7h1v1h-1zM71 7h1v1h-1zM50 8h2v1h-2zM75 9h1v1h-1zM65 11h1v1h-1zM52 12h1v1h-1zM56 13h1v1h-1zM68 13h1v1h-1zM60 16h1v1h-1zM66 16h1v1h-1zM70 18h1v1h-1zM79 18h1v1h-1zM60 23h1v1h-1zM66 23h1v1h-1zM76 24h1v1h-1zM57 25h1v1h-1zM54 28h1v1h-1zM56 29h1v1h-1zM64 29h1v1h-1zM68 30h1v1h-1zM71 30h1v1h-1z"/>
<path fill="#e4543c" d="M55 1h1v1h-1zM52 3h1v1h-1zM54 3h1v1h-1zM57 3h2v1h-2zM60 3h1v1h-1zM69 3h1v1h-1zM55 7h2v1h-2zM60 8h1v1h-1zM55 9h1v1h-1zM57 9h1v1h-1zM59 9h2v1h-2zM66 9h2v1h-2zM69 9h1v1h-1zM57 12h1v1h-1zM57 14h1v1h-1zM54 18h1v1h-1zM56 18h3v1h-3zM60 18h1v1h-1zM64 18h1v1h-1zM53 24h1v1h-1zM55 24h3v1h-3zM67 24h1v1h-1zM70 24h1v1h-1zM50 31h1v1h-1zM52 31h5v1h-5zM59 31h2v1h-2zM63 31h1v1h-1zM68 31h2v1h-2zM71 31h1v1h-1zM76 31h1v1h-1z"/>
<path fill="#f4a48c" d="M58 1h1v1h-1zM58 2h1v1h-1zM79 3h1v1h-1zM62 8h1v1h-1zM52 11h1v1h-1zM66 15h1v1h-1zM55 16h1v1h-1zM69 16h1v1h-1zM66 20h1v1h-1zM77 21h1v1h-1zM75 23h1v1h-1zM63 25h1v1h-1zM59 27h1v1h-1zM68 27h1v1h-1zM65 28h1v1h-1zM55 29h1v1h-1z"/>
<path fill="#f4bc9c" d="M69 1h1v1h-1zM68 5h1v1h-1zM56 6h1v1h-1zM68 6h1v1h-1zM69 10h2v1h-2zM78 12h1v1h-1zM71 13h1v1h-1zM49 16h1v1h-1zM51 16h1v1h-1zM54 16h1v1h-1zM62 21h1v1h-1zM74 22h1v1h-1zM74 24h1v1h-1zM70 25h1v1h-1zM56 27h1v1h-1zM67 27h1v1h-1zM55 28h1v1h-1zM68 28h1v1h-1zM54 29h1v1h-1zM70 29h1v1h-1zM49 30h1v1h-1zM25 31h1v1h-1z"/>
<path fill="#fcc4a4" d="M73 1h1v1h-1zM62 18h1v1h-1z"/>
<path fill="#fce4dc" d="M74 1h1v1h-1zM76 1h1v1h-1zM7 3h1v1h-1zM10 3h1v1h-1zM37 3h2v1h-2zM42 3h1v1h-1zM48 3h1v1h-1zM64 4h1v1h-1zM50 5h1v1h-1zM78 6h1v1h-1zM25 8h1v1h-1zM31 9h1v1h-1zM72 9h1v1h-1zM62 10h1v1h-1zM77 10h1v1h-1zM31 11h1v1h-1zM62 11h1v1h-1zM73 11h1v1h-1zM77 11h1v1h-1zM46 12h1v1h-1zM76 14h1v1h-1zM50 16h1v1h-1zM74 16h2v1h-2zM62 17h2v1h-2zM74 17h1v1h-1zM12 18h1v1h-1zM79 19h1v1h-1zM61 21h1v1h-1zM50 23h1v1h-1zM21 24h1v1h-1zM72 24h1v1h-1zM74 25h1v1h-1zM51 26h1v1h-1zM74 26h1v1h-1zM76 26h1v1h-1zM65 27h1v1h-1zM76 27h1v1h-1zM53 29h1v1h-1zM71 29h1v1h-1zM43 30h1v1h-1zM79 30h1v1h-1zM20 31h1v1h-1zM26 31h1v1h-1zM47 31h1v1h-1z"/>
<path fill="#fcc4ac" d="M75 1h1v1h-1zM50 2h1v1h-1zM71 5h1v1h-1zM61 6h1v1h-1zM77 6h1v1h-1zM8 7h1v1h-1zM74 7h1v1h-1zM73 8h1v1h-1zM9 9h1v1h-1zM71 10h1v1h-1zM54 11h1v1h-1zM72 11h1v1h-1zM74 12h1v1h-1zM50 13h1v1h-1zM61 13h1v1h-1zM50 14h1v1h-1zM78 14h1v1h-1zM49 15h1v1h-1zM51 15h1v1h-1zM54 15h1v1h-1zM65 16h1v1h-1zM58 17h1v1h-1zM60 17h1v1h-1zM78 18h1v1h-1zM50 19h1v1h-1zM57 19h1v1h-1zM57 20h1v1h-1zM59 20h1v1h-1zM64 21h2v1h-2zM75 21h1v1h-1zM57 23h1v1h-1zM70 23h2v1h-2zM74 23h1v1h-1zM76 23h1v1h-1zM75 24h1v1h-1zM77 24h1v1h-1zM55 25h1v1h-1zM77 25h1v1h-1zM50 26h1v1h-1zM64 26h1v1h-1zM73 26h1v1h-1zM58 27h1v1h-1zM74 27h1v1h-1zM53 28h1v1h-1zM69 28h1v1h-1zM68 29h2v1h-2zM1 31h1v1h-1zM30 31h1v1h-1zM37 31h1v1h-1zM45 31h2v1h-2z"/>
<path fill="#fcd4bc" d="M77 1h2v1h-2zM63 2h1v1h-1zM76 2h2v1h-2zM50 4h2v1h-2zM59 4h1v1h-1zM66 4h1v1h-1zM74 5h1v1h-1zM52 6h1v1h-1zM40 7h1v1h-1zM33 8h1v1h-1zM79 8h1v1h-1zM2 9h1v1h-1zM37 9h1v1h-1zM74 10h1v1h-1zM40 11h1v1h-1zM78 11h1v1h-1zM76 13h2v1h-2zM52 15h1v1h-1zM71 15h1v1h-1zM61 16h1v1h-1zM76 16h1v1h-1zM54 20h1v1h-1zM69 20h1v1h-1zM73 21h1v1h-1zM49 22h2v1h-2zM61 23h1v1h-1zM77 23h1v1h-1zM50 25h1v1h-1zM49 26h1v1h-1zM62 26h1v1h-1zM77 28h1v1h-1zM74 29h1v1h-1zM62 30h1v1h-1zM75 30h1v1h-1zM40 31h1v1h-1z"/>
<path fill="#946cb4" d="M0 2h1v1h-1zM31 4h1v1h-1zM22 5h1v1h-1zM16 16h1v1h-1zM35 16h1v1h-1zM9 17h1v1h-1zM34 17h1v1h-1zM45 19h1v1h-1zM18 20h1v1h-1zM35 20h1v1h-1zM47 20h1v1h-1zM38 21h1v1h-1zM4 22h1v1h-1zM26 22h1v1h-1zM25 23h1v1h-1zM36 23h1v1h-1zM40 25h1v1h-1zM0 28h1v1h-1z"/>
<path fill="#845cac" d="M1 2h1v1h-1zM2 4h1v1h-1zM9 4h1v1h-1zM12 4h1v1h-1zM17 4h2v1h-2zM43 4h1v1h-1zM45 4h1v1h-1zM72 4h1v1h-1zM15 5h1v1h-1zM3 17h1v1h-1zM28 17h1v1h-1zM38 17h1v1h-1zM33 20h2v1h-2zM37 20h1v1h-1zM7 22h1v1h-1zM19 22h2v1h-2zM21 25h1v1h-1zM38 27h1v1h-1zM14 28h1v1h-1zM20 28h1v1h-1zM26 28h1v1h-1z"/>
<path fill="#a484bc" d="M8 2h1v1h-1zM37 2h1v1h-1zM18 5h1v1h-1zM24 5h1v1h-1zM5 10h1v1h-1zM22 14h1v1h-1zM12 17h1v1h-1zM37 17h1v1h-1zM20 19h1v1h-1zM37 19h1v1h-1zM42 20h1v1h-1zM21 26h1v1h-1zM36 26h1v1h-1zM17 27h1v1h-1zM35 28h1v1h-1zM24 29h1v1h-1z"/>
<path fill="#8c64ac" d="M11 2h1v1h-1zM21 6h1v1h-1zM27 6h1v1h-1zM21 14h1v1h-1zM34 15h1v1h-1zM10 16h1v1h-1zM35 17h1v1h-1zM41 17h1v1h-1zM30 19h1v1h-1zM7 20h1v1h-1zM14 22h1v1h-1zM23 25h1v1h-1zM4 26h1v1h-1zM22 27h1v1h-1z"/>
<path fill="#8c64b4" d="M13 2h1v1h-1zM12 12h1v1h-1zM11 19h1v1h-1z"/>
<path fill="#7c5ca4" d="M20 2h1v1h-1zM6 4h1v1h-1zM25 4h1v1h-1zM0 16h1v1h-1zM4 17h1v1h-1zM14 19h1v1h-1zM36 19h1v1h-1zM1 29h1v1h-1zM22 29h1v1h-1z"/>
<path fill="#74449c" d="M21 2h1v1h-1zM16 4h1v1h-1zM19 4h1v1h-1zM24 4h1v1h-1zM32 4h1v1h-1zM14 17h1v1h-1zM36 20h1v1h-1zM0 27h1v1h-1z"/>
<path fill="#bc9ccc" d="M22 2h1v1h-1zM43 14h1v1h-1zM42 17h1v1h-1zM23 27h1v1h-1zM30 27h1v1h-1zM42 27h1v1h-1z"/>
<path fill="#7c54a4" d="M23 2h1v1h-1zM36 2h1v1h-1zM11 4h1v1h-1zM28 4h1v1h-1zM41 4h1v1h-1zM0 5h1v1h-1zM11 6h1v1h-1zM16 15h1v1h-1zM2 16h1v1h-1zM6 17h1v1h-1zM8 20h1v1h-1zM10 20h2v1h-2zM24 20h1v1h-1zM31 20h1v1h-1zM41 20h1v1h-1zM12 21h1v1h-1zM17 26h1v1h-1zM27 27h1v1h-1zM36 27h1v1h-1zM12 29h1v1h-1zM29 29h1v1h-1z"/>
<path fill="#d4bcdc" d="M33 2h1v1h-1zM3 6h1v1h-1zM39 9h1v1h-1zM47 10h1v1h-1zM24 16h1v1h-1z"/>
<path fill="#845ca4" d="M38 2h1v1h-1zM4 4h1v1h-1zM14 4h1v1h-1zM39 4h1v1h-1zM27 15h1v1h-1zM16 20h1v1h-1zM22 20h1v1h-1zM44 20h1v1h-1zM34 21h1v1h-1zM38 26h1v1h-1zM13 27h1v1h-1z"/>
<path fill="#8464ac" d="M48 2h1v1h-1zM13 4h1v1h-1zM44 4h1v1h-1zM31 14h1v1h-1zM38 15h1v1h-1zM48 17h1v1h-1zM27 19h1v1h-1zM41 19h1v1h-1zM6 20h1v1h-1zM15 20h1v1h-1zM3 21h1v1h-1zM32 22h1v1h-1zM10 25h1v1h-1zM9 27h1v1h-1zM11 27h1v1h-1z"/>
<path fill="#ec8464" d="M52 2h1v1h-1zM67 3h1v1h-1zM66 5h1v1h-1zM54 8h1v1h-1zM57 8h1v1h-1zM53 9h1v1h-1zM65 9h1v1h-1zM68 9h1v1h-1zM56 12h1v1h-1zM63 12h1v1h-1zM67 12h1v1h-1zM77 12h1v1h-1zM55 14h1v1h-1zM59 14h2v1h-2zM59 16h1v1h-1zM59 18h1v1h-1zM55 19h1v1h-1zM56 23h1v1h-1zM58 28h1v1h-1zM57 29h1v1h-1zM59 29h1v1h-1zM64 31h1v1h-1zM78 31h2v1h-2z"/>
<path fill="#fcecec" d="M62 2h1v1h-1zM19 3h1v1h-1zM34 3h1v1h-1zM36 3h1v1h-1zM71 4h1v1h-1zM73 5h1v1h-1zM53 6h1v1h-1zM4 7h2v1h-2zM10 7h1v1h-1zM35 7h1v1h-1zM41 7h1v1h-1zM5 8h1v1h-1zM43 8h1v1h-1zM45 8h1v1h-1zM48 8h1v1h-1zM23 9h1v1h-1zM32 9h1v1h-1zM44 9h1v1h-1zM24 10h1v1h-1zM42 11h1v1h-1zM44 11h1v1h-1zM25 12h1v1h-1zM44 12h1v1h-1zM73 13h1v1h-1zM25 14h1v1h-1zM48 14h1v1h-1zM61 15h1v1h-1zM64 16h1v1h-1zM3 18h1v1h-1zM26 18h1v1h-1zM33 18h1v1h-1zM41 18h1v1h-1zM53 20h1v1h-1zM37 24h1v1h-1zM73 25h1v1h-1zM75 26h1v1h-1zM77 26h1v1h-1zM49 27h1v1h-1zM53 27h1v1h-1zM32 28h1v1h-1zM79 28h1v1h-1zM76 30h1v1h-1zM78 30h1v1h-1zM7 31h1v1h-1zM18 31h1v1h-1zM22 31h1v1h-1zM24 31h1v1h-1zM31 31h1v1h-1z"/>
<path fill="#f4c4a4" d="M74 2h1v1h-1zM44 8h1v1h-1zM75 10h1v1h-1zM54 17h1v1h-1zM52 25h1v1h-1zM76 29h1v1h-1z"/>
<path fill="#f4e4f4" d="M32 3h1v1h-1zM26 9h1v1h-1zM32 18h1v1h-1zM35 18h1v1h-1zM32 25h1v1h-1z"/>
<path fill="#ec6c54" d="M49 3h1v1h-1zM63 3h3v1h-3zM68 3h1v1h-1zM64 7h1v1h-1zM61 8h1v1h-1zM54 9h1v1h-1zM58 11h1v1h-1zM57 13h1v1h-1zM60 24h1v1h-1z"/>
<path fill="#e4644c" d="M51 3h1v1h-1zM55 3h2v1h-2zM70 3h1v1h-1zM55 5h1v1h-1zM49 7h1v1h-1zM70 7h1v1h-1zM66 8h1v1h-1zM58 9h1v1h-1zM59 11h1v1h-1zM55 12h1v1h-1zM65 18h1v1h-1zM69 18h1v1h-1zM57 21h1v1h-1zM59 22h1v1h-1zM70 31h1v1h-1z"/>
<path fill="#e46444" d="M66 3h1v1h-1zM69 11h1v1h-1zM66 28h1v1h-1z"/>
<path fill="#ec9474" d="M74 3h1v1h-1zM58 6h1v1h-1zM51 7h1v1h-1zM68 7h1v1h-1zM76 9h1v1h-1zM67 10h1v1h-1zM79 12h1v1h-1zM57 15h1v1h-1zM68 15h1v1h-1zM60 21h1v1h-1zM58 22h1v1h-1zM65 23h1v1h-1zM59 25h2v1h-2zM67 29h1v1h-1zM49 31h1v1h-1zM77 31h1v1h-1z"/>
<path fill="#6c449c" d="M1 4h1v1h-1zM5 4h1v1h-1zM7 4h1v1h-1zM15 4h1v1h-1zM20 4h3v1h-3zM34 4h1v1h-1zM36 4h1v1h-1zM38 4h1v1h-1zM16 17h1v1h-1zM36 17h1v1h-1zM1 20h1v1h-1zM12 20h2v1h-2zM17 20h1v1h-1zM20 20h2v1h-2zM25 20h3v1h-3zM38 20h1v1h-1zM43 20h1v1h-1zM1 27h1v1h-1zM15 29h1v1h-1z"/>
<path fill="#744c9c" d="M8 4h1v1h-1zM23 4h1v1h-1zM27 4h1v1h-1zM29 4h1v1h-1zM35 4h1v1h-1zM5 17h1v1h-1zM0 19h1v1h-1zM23 20h1v1h-1zM48 20h1v1h-1zM1 21h1v1h-1z"/>
<path fill="#7c4ca4" d="M30 4h1v1h-1z"/>
<path fill="#ac8ccc" d="M4 5h1v1h-1zM17 10h1v1h-1zM34 10h1v1h-1zM31 15h1v1h-1zM25 19h1v1h-1zM31 19h1v1h-1zM40 20h1v1h-1zM15 22h1v1h-1zM45 22h1v1h-1zM3 23h1v1h-1zM20 26h1v1h-1zM17 28h1v1h-1zM0 29h1v1h-1zM5 29h1v1h-1zM11 29h1v1h-1zM5 30h1v1h-1z"/>
<path fill="#9c74bc" d="M19 5h1v1h-1zM32 5h1v1h-1zM13 6h1v1h-1zM24 13h1v1h-1zM29 14h1v1h-1zM36 14h1v1h-1zM14 15h1v1h-1zM23 17h1v1h-1zM26 19h1v1h-1zM24 25h1v1h-1zM24 26h1v1h-1zM4 28h1v1h-1zM21 28h1v1h-1zM38 28h1v1h-1z"/>
<path fill="#fcdcc4" d="M49 5h1v1h-1zM78 5h1v1h-1zM22 7h1v1h-1zM63 10h1v1h-1zM65 22h1v1h-1zM70 22h1v1h-1zM51 23h1v1h-1zM47 25h1v1h-1zM51 27h1v1h-1zM21 31h1v1h-1z"/>
<path fill="#fce4e4" d="M79 5h1v1h-1zM62 6h1v1h-1zM47 7h1v1h-1zM72 8h1v1h-1zM45 9h1v1h-1zM73 10h1v1h-1zM47 13h1v1h-1zM64 17h1v1h-1zM13 18h1v1h-1zM31 18h1v1h-1zM44 18h1v1h-1zM49 19h1v1h-1zM51 22h1v1h-1zM10 24h1v1h-1zM19 24h1v1h-1zM29 24h1v1h-1zM78 26h1v1h-1zM50 27h1v1h-1zM62 29h1v1h-1zM48 31h1v1h-1z"/>
<path fill="#d4bce4" d="M10 6h1v1h-1zM40 6h1v1h-1zM23 7h1v1h-1zM37 13h1v1h-1zM24 14h1v1h-1zM30 14h1v1h-1zM72 14h1v1h-1zM28 16h1v1h-1zM34 18h1v1h-1zM3 19h1v1h-1zM77 20h1v1h-1zM17 22h1v1h-1zM11 24h1v1h-1zM47 24h1v1h-1zM8 29h1v1h-1zM28 31h1v1h-1z"/>
<path fill="#a47cbc" d="M16 6h1v1h-1zM33 30h1v1h-1z"/>
<path fill="#f49c84" d="M49 6h1v1h-1zM50 7h1v1h-1zM49 9h1v1h-1zM49 10h1v1h-1zM65 13h1v1h-1zM52 22h1v1h-1zM57 22h1v1h-1zM59 23h1v1h-1zM69 24h1v1h-1zM73 24h1v1h-1zM64 25h1v1h-1zM68 25h1v1h-1zM50 29h1v1h-1zM55 30h1v1h-1z"/>
<path fill="#ec846c" d="M61 7h1v1h-1zM75 7h2v1h-2zM78 8h1v1h-1zM56 9h1v1h-1zM77 9h1v1h-1zM70 12h2v1h-2zM52 14h1v1h-1z"/>
<path fill="#ec8c74" d="M72 7h1v1h-1zM56 11h1v1h-1zM66 12h1v1h-1zM51 13h1v1h-1zM58 13h1v1h-1zM55 15h1v1h-1zM61 24h1v1h-1z"/>
<path fill="#f4ac94" d="M53 8h1v1h-1zM47 9h1v1h-1zM66 10h1v1h-1zM75 11h1v1h-1zM75 13h1v1h-1zM67 14h1v1h-1zM71 17h1v1h-1zM66 18h1v1h-1zM73 18h1v1h-1zM59 19h1v1h-1zM49 21h1v1h-1zM56 22h1v1h-1zM60 22h1v1h-1zM68 22h1v1h-1zM56 26h1v1h-1zM59 26h1v1h-1zM56 30h1v1h-1zM64 30h1v1h-1z"/>
</g>
<g transform="translate(37.2 195.7) scale(2.6200 0.9885)">
<path fill="#f4ac94" d="M0 0h1v1h-1zM43 0h1v1h-1zM48 0h1v1h-1zM49 1h2v1h-2zM44 2h1v1h-1zM49 2h1v1h-1zM70 2h1v1h-1zM79 3h1v1h-1zM74 4h1v1h-1zM40 5h1v1h-1zM28 7h1v1h-1zM70 8h1v1h-1zM45 9h1v1h-1zM49 9h1v1h-1zM76 9h1v1h-1zM75 12h1v1h-1zM47 13h1v1h-1zM41 14h1v1h-1zM48 16h1v1h-1zM41 18h1v1h-1zM75 20h1v1h-1zM44 21h1v1h-1zM52 22h1v1h-1z"/>
<path fill="#fcecec" d="M1 0h1v1h-1zM32 0h2v1h-2zM58 0h1v1h-1zM62 0h1v1h-1zM65 0h1v1h-1zM69 0h1v1h-1zM10 1h1v1h-1zM3 2h2v1h-2zM9 2h1v1h-1zM25 2h1v1h-1zM33 2h1v1h-1zM71 3h1v1h-1zM40 4h1v1h-1zM52 5h1v1h-1zM70 5h1v1h-1zM79 5h1v1h-1zM5 6h1v1h-1zM56 6h1v1h-1zM5 7h1v1h-1zM13 7h1v1h-1zM34 7h1v1h-1zM39 7h1v1h-1zM3 8h1v1h-1zM59 8h1v1h-1zM51 9h1v1h-1zM10 11h1v1h-1zM48 12h1v1h-1zM71 12h1v1h-1zM33 14h1v1h-1zM9 15h1v1h-1zM55 15h1v1h-1zM57 15h1v1h-1zM53 16h1v1h-1zM4 18h1v1h-1zM52 19h1v1h-1zM70 21h1v1h-1zM14 22h1v1h-1zM67 22h1v1h-1zM34 23h1v1h-1zM65 23h1v1h-1zM69 23h1v1h-1zM3 24h1v1h-1zM26 24h1v1h-1zM34 25h1v1h-1zM49 25h1v1h-1zM55 25h1v1h-1z"/>
<path fill="#fcece4" d="M2 0h1v1h-1zM10 0h1v1h-1zM19 0h1v1h-1zM34 0h1v1h-1zM63 1h1v1h-1zM5 3h1v1h-1zM48 3h1v1h-1zM59 3h1v1h-1zM20 7h1v1h-1zM35 7h1v1h-1zM58 8h1v1h-1zM66 8h1v1h-1zM25 11h1v1h-1zM58 11h1v1h-1zM54 12h1v1h-1zM50 19h1v1h-1zM53 19h1v1h-1zM48 21h1v1h-1zM56 22h1v1h-1zM63 22h1v1h-1zM1 23h1v1h-1zM26 23h1v1h-1zM35 23h1v1h-1zM59 23h1v1h-1zM9 24h1v1h-1zM36 24h1v1h-1zM48 25h1v1h-1z"/>
<path fill="#f4bca4" d="M3 0h1v1h-1zM78 3h1v1h-1zM48 4h1v1h-1zM77 5h1v1h-1zM79 6h1v1h-1zM36 7h1v1h-1zM42 8h1v1h-1zM47 8h2v1h-2zM45 10h1v1h-1zM70 13h1v1h-1zM76 13h1v1h-1zM47 14h1v1h-1zM70 15h1v1h-1zM73 15h1v1h-1zM42 16h1v1h-1zM44 16h1v1h-1zM49 16h1v1h-1zM40 17h1v1h-1zM47 17h1v1h-1zM49 17h1v1h-1zM76 17h1v1h-1zM42 18h1v1h-1zM46 18h1v1h-1zM48 19h1v1h-1zM79 20h1v1h-1zM47 21h1v1h-1zM57 23h1v1h-1z"/>
<path fill="#fcdcd4" d="M4 0h1v1h-1zM37 0h1v1h-1zM48 1h1v1h-1zM61 1h1v1h-1zM37 2h1v1h-1zM43 4h1v1h-1zM9 7h1v1h-1zM68 7h1v1h-1zM0 8h1v1h-1zM17 8h1v1h-1zM32 11h1v1h-1zM46 13h1v1h-1zM52 14h1v1h-1zM79 14h1v1h-1zM51 16h1v1h-1zM56 17h1v1h-1zM46 19h1v1h-1zM71 20h1v1h-1zM52 24h1v1h-1z"/>
<path fill="#fcdcc4" d="M5 0h1v1h-1zM0 1h1v1h-1zM51 4h1v1h-1zM71 6h1v1h-1zM26 7h1v1h-1zM30 7h1v1h-1zM27 9h1v1h-1zM53 9h1v1h-1zM42 13h1v1h-1zM52 17h1v1h-1zM54 17h1v1h-1zM47 20h1v1h-1zM49 20h1v1h-1zM3 23h1v1h-1z"/>
<path fill="#f4e4f4" d="M6 0h1v1h-1zM25 0h1v1h-1zM1 2h1v1h-1zM22 2h1v1h-1zM12 7h1v1h-1zM18 7h1v1h-1zM13 9h1v1h-1zM58 10h1v1h-1zM14 11h1v1h-1zM27 20h1v1h-1zM52 21h1v1h-1zM14 23h1v1h-1zM59 24h1v1h-1z"/>
<path fill="#e4d4ec" d="M7 0h1v1h-1zM66 0h1v1h-1zM4 1h1v1h-1zM14 1h2v1h-2zM27 1h1v1h-1zM69 1h1v1h-1zM7 2h1v1h-1zM23 2h1v1h-1zM26 2h1v1h-1zM36 2h1v1h-1zM58 2h1v1h-1zM22 4h1v1h-1zM54 5h1v1h-1zM57 5h1v1h-1zM25 6h1v1h-1zM32 6h1v1h-1zM35 6h1v1h-1zM60 6h1v1h-1zM69 6h1v1h-1zM23 7h1v1h-1zM27 8h1v1h-1zM32 8h1v1h-1zM36 8h1v1h-1zM24 9h1v1h-1zM28 9h1v1h-1zM35 9h1v1h-1zM58 9h1v1h-1zM10 10h1v1h-1zM20 10h1v1h-1zM61 10h1v1h-1zM66 10h1v1h-1zM20 11h1v1h-1zM33 11h1v1h-1zM56 11h1v1h-1zM65 11h1v1h-1zM61 12h1v1h-1zM11 13h1v1h-1zM16 13h1v1h-1zM14 14h1v1h-1zM25 14h1v1h-1zM51 14h1v1h-1zM57 14h1v1h-1zM67 14h1v1h-1zM3 15h1v1h-1zM5 15h1v1h-1zM7 15h1v1h-1zM14 15h1v1h-1zM30 15h1v1h-1zM35 15h1v1h-1zM66 16h1v1h-1zM5 17h2v1h-2zM24 17h1v1h-1zM36 17h1v1h-1zM61 17h1v1h-1zM64 17h1v1h-1zM71 17h1v1h-1zM51 19h1v1h-1zM59 20h1v1h-1zM3 22h1v1h-1zM12 22h1v1h-1zM20 22h1v1h-1zM32 22h1v1h-1zM37 22h1v1h-1zM62 22h1v1h-1zM25 23h1v1h-1zM67 23h2v1h-2zM22 24h1v1h-1zM69 24h1v1h-1zM39 25h1v1h-1z"/>
<path fill="#fcecf4" d="M8 0h1v1h-1zM14 7h1v1h-1zM49 12h1v1h-1zM60 14h1v1h-1zM53 17h1v1h-1zM69 22h1v1h-1zM12 23h1v1h-1zM63 23h1v1h-1z"/>
<path fill="#d4c4e4" d="M9 0h1v1h-1zM13 0h1v1h-1zM3 1h1v1h-1zM18 1h1v1h-1zM26 1h1v1h-1zM30 1h1v1h-1zM37 1h1v1h-1zM39 1h1v1h-1zM58 1h1v1h-1zM15 2h1v1h-1zM31 4h1v1h-1zM59 4h2v1h-2zM65 4h1v1h-1zM69 4h1v1h-1zM71 5h1v1h-1zM16 6h1v1h-1zM21 6h1v1h-1zM30 6h1v1h-1zM58 6h1v1h-1zM65 6h1v1h-1zM7 8h1v1h-1zM16 8h1v1h-1zM20 8h1v1h-1zM39 8h1v1h-1zM21 9h1v1h-1zM36 9h1v1h-1zM66 9h1v1h-1zM31 10h1v1h-1zM35 10h1v1h-1zM59 10h1v1h-1zM64 10h1v1h-1zM9 11h1v1h-1zM27 11h1v1h-1zM57 11h1v1h-1zM0 12h1v1h-1zM10 12h1v1h-1zM59 12h1v1h-1zM4 13h1v1h-1zM59 13h1v1h-1zM9 14h1v1h-1zM17 14h1v1h-1zM21 14h1v1h-1zM31 14h1v1h-1zM59 14h1v1h-1zM4 15h1v1h-1zM62 15h1v1h-1zM27 16h1v1h-1zM56 16h1v1h-1zM10 17h1v1h-1zM34 17h1v1h-1zM59 17h1v1h-1zM65 17h1v1h-1zM33 18h1v1h-1zM61 18h1v1h-1zM19 19h1v1h-1zM65 19h1v1h-1zM3 20h2v1h-2zM14 20h1v1h-1zM17 20h1v1h-1zM28 20h1v1h-1zM37 20h1v1h-1zM63 20h1v1h-1zM15 22h1v1h-1zM18 22h1v1h-1zM22 22h1v1h-1zM29 22h1v1h-1zM31 22h1v1h-1zM59 22h1v1h-1zM66 22h1v1h-1zM7 23h1v1h-1zM10 23h1v1h-1zM29 23h1v1h-1zM31 23h1v1h-1zM37 23h1v1h-1zM62 24h1v1h-1zM29 25h1v1h-1zM57 25h1v1h-1zM66 25h1v1h-1z"/>
<path fill="#dccce4" d="M11 0h1v1h-1zM17 0h1v1h-1zM38 0h1v1h-1zM63 0h1v1h-1zM6 1h1v1h-1zM32 1h1v1h-1zM57 1h1v1h-1zM59 1h2v1h-2zM67 1h1v1h-1zM5 2h1v1h-1zM24 2h1v1h-1zM30 3h1v1h-1zM57 3h2v1h-2zM13 4h1v1h-1zM39 4h1v1h-1zM55 5h1v1h-1zM9 6h1v1h-1zM13 6h1v1h-1zM27 6h1v1h-1zM38 6h1v1h-1zM63 6h1v1h-1zM1 8h1v1h-1zM5 8h2v1h-2zM24 8h1v1h-1zM26 8h1v1h-1zM28 8h1v1h-1zM33 8h1v1h-1zM62 8h1v1h-1zM67 8h1v1h-1zM9 9h1v1h-1zM19 9h1v1h-1zM32 9h1v1h-1zM1 10h1v1h-1zM14 10h3v1h-3zM22 10h1v1h-1zM27 10h1v1h-1zM37 10h1v1h-1zM8 11h1v1h-1zM68 11h1v1h-1zM69 12h1v1h-1zM34 13h1v1h-1zM57 13h1v1h-1zM60 13h2v1h-2zM65 13h1v1h-1zM3 14h1v1h-1zM5 14h1v1h-1zM27 14h1v1h-1zM36 14h1v1h-1zM39 14h1v1h-1zM65 14h2v1h-2zM11 15h1v1h-1zM28 15h2v1h-2zM4 16h1v1h-1zM6 16h1v1h-1zM15 16h1v1h-1zM1 17h1v1h-1zM20 17h1v1h-1zM58 17h1v1h-1zM10 18h2v1h-2zM4 21h1v1h-1zM6 21h1v1h-1zM30 21h1v1h-1zM38 21h1v1h-1zM5 22h1v1h-1zM26 22h1v1h-1zM36 22h1v1h-1zM38 22h1v1h-1zM68 22h1v1h-1zM8 23h1v1h-1zM21 23h1v1h-1zM33 23h1v1h-1zM66 23h1v1h-1zM8 24h1v1h-1zM11 24h1v1h-1zM18 24h1v1h-1zM58 24h1v1h-1zM66 24h1v1h-1zM4 25h1v1h-1zM31 25h1v1h-1zM56 25h1v1h-1zM59 25h1v1h-1zM63 25h1v1h-1z"/>
<path fill="#f4ecf4" d="M12 0h1v1h-1zM14 0h1v1h-1zM16 0h1v1h-1zM31 1h1v1h-1zM33 1h1v1h-1zM8 2h1v1h-1zM20 2h1v1h-1zM28 2h1v1h-1zM59 2h2v1h-2zM58 4h1v1h-1zM64 4h1v1h-1zM67 4h1v1h-1zM42 5h1v1h-1zM26 6h1v1h-1zM39 6h1v1h-1zM16 7h1v1h-1zM24 7h1v1h-1zM66 7h1v1h-1zM2 8h1v1h-1zM8 8h1v1h-1zM56 8h1v1h-1zM69 8h1v1h-1zM3 9h1v1h-1zM6 9h1v1h-1zM34 9h1v1h-1zM61 9h1v1h-1zM69 9h1v1h-1zM25 10h1v1h-1zM53 10h1v1h-1zM60 10h1v1h-1zM19 11h1v1h-1zM64 11h1v1h-1zM55 12h1v1h-1zM66 13h1v1h-1zM16 14h1v1h-1zM49 14h1v1h-1zM61 14h1v1h-1zM27 17h1v1h-1zM23 21h1v1h-1zM32 21h1v1h-1zM59 21h2v1h-2zM21 22h1v1h-1zM23 22h1v1h-1zM33 22h1v1h-1zM9 23h1v1h-1zM11 23h1v1h-1zM15 23h1v1h-1zM36 23h1v1h-1zM17 24h1v1h-1zM23 24h1v1h-1zM25 24h1v1h-1zM35 24h1v1h-1zM61 24h1v1h-1zM68 24h1v1h-1zM18 25h1v1h-1zM32 25h1v1h-1z"/>
<path fill="#fcf4f4" d="M15 0h1v1h-1zM24 0h1v1h-1zM39 0h1v1h-1zM35 1h1v1h-1zM65 1h1v1h-1zM63 2h1v1h-1zM61 4h1v1h-1zM43 5h1v1h-1zM53 5h1v1h-1zM22 6h1v1h-1zM59 6h1v1h-1zM6 7h1v1h-1zM17 7h1v1h-1zM19 7h1v1h-1zM4 8h1v1h-1zM14 9h1v1h-1zM21 11h1v1h-1zM62 11h1v1h-1zM4 12h1v1h-1zM52 12h2v1h-2zM53 13h1v1h-1zM61 15h1v1h-1zM39 17h1v1h-1zM9 18h1v1h-1zM60 18h1v1h-1zM61 19h1v1h-1zM27 22h2v1h-2zM39 22h1v1h-1zM58 22h1v1h-1zM64 23h1v1h-1zM6 24h1v1h-1zM63 24h1v1h-1zM65 24h1v1h-1z"/>
<path fill="#ece4f4" d="M18 0h1v1h-1zM12 1h1v1h-1zM36 1h1v1h-1zM38 1h1v1h-1zM49 3h1v1h-1zM51 3h1v1h-1zM49 5h1v1h-1zM78 5h1v1h-1zM20 6h1v1h-1zM37 7h1v1h-1zM68 8h1v1h-1zM62 10h1v1h-1zM61 11h1v1h-1zM66 11h1v1h-1zM71 13h1v1h-1zM69 15h1v1h-1zM19 16h1v1h-1zM50 16h1v1h-1zM79 16h1v1h-1zM57 17h1v1h-1zM52 18h1v1h-1zM71 21h1v1h-1zM4 22h1v1h-1zM5 23h1v1h-1zM32 24h1v1h-1z"/>
<path fill="#ecdcec" d="M20 0h1v1h-1zM36 0h1v1h-1zM11 2h1v1h-1zM56 2h1v1h-1zM40 3h1v1h-1zM38 4h1v1h-1zM50 5h2v1h-2zM19 8h1v1h-1zM64 8h1v1h-1zM5 10h1v1h-1zM8 10h1v1h-1zM17 10h1v1h-1zM23 10h1v1h-1zM1 11h1v1h-1zM11 11h1v1h-1zM59 15h1v1h-1zM33 16h1v1h-1zM17 17h1v1h-1zM25 17h1v1h-1zM56 18h1v1h-1zM30 20h1v1h-1zM53 20h1v1h-1zM68 21h1v1h-1zM35 22h1v1h-1zM22 23h1v1h-1zM32 23h1v1h-1zM61 23h1v1h-1zM1 24h1v1h-1zM5 24h1v1h-1zM58 25h1v1h-1z"/>
<path fill="#ccbcdc" d="M21 0h1v1h-1zM22 1h1v1h-1zM13 2h1v1h-1zM67 2h1v1h-1zM18 3h1v1h-1zM38 3h1v1h-1zM34 4h1v1h-1zM27 5h1v1h-1zM10 6h1v1h-1zM57 6h1v1h-1zM9 8h1v1h-1zM61 8h1v1h-1zM4 9h1v1h-1zM20 9h1v1h-1zM39 9h1v1h-1zM19 10h1v1h-1zM57 10h1v1h-1zM30 11h1v1h-1zM34 11h1v1h-1zM38 11h1v1h-1zM9 12h1v1h-1zM66 12h1v1h-1zM13 13h1v1h-1zM6 14h2v1h-2zM18 14h1v1h-1zM58 14h1v1h-1zM68 14h1v1h-1zM12 15h2v1h-2zM67 15h2v1h-2zM39 16h1v1h-1zM58 16h1v1h-1zM66 17h1v1h-1zM15 18h1v1h-1zM23 18h1v1h-1zM31 18h1v1h-1zM66 18h1v1h-1zM2 19h1v1h-1zM30 19h1v1h-1zM63 19h1v1h-1zM66 19h1v1h-1zM66 20h1v1h-1zM12 21h1v1h-1zM28 21h1v1h-1zM18 23h1v1h-1zM24 23h1v1h-1zM10 24h1v1h-1zM13 24h1v1h-1zM16 24h1v1h-1zM37 24h1v1h-1zM64 24h1v1h-1zM14 25h1v1h-1zM24 25h1v1h-1z"/>
<path fill="#ccb4dc" d="M22 0h1v1h-1zM35 0h1v1h-1zM56 1h1v1h-1zM31 2h1v1h-1zM20 3h1v1h-1zM63 3h1v1h-1zM16 4h1v1h-1zM29 6h1v1h-1zM12 8h1v1h-1zM21 8h1v1h-1zM38 8h1v1h-1zM10 9h1v1h-1zM15 9h1v1h-1zM65 9h1v1h-1zM21 10h1v1h-1zM69 10h1v1h-1zM28 11h1v1h-1zM31 11h1v1h-1zM35 11h1v1h-1zM63 11h1v1h-1zM12 12h1v1h-1zM30 12h1v1h-1zM33 12h1v1h-1zM57 12h1v1h-1zM68 12h1v1h-1zM8 14h1v1h-1zM23 14h1v1h-1zM26 14h1v1h-1zM30 14h1v1h-1zM69 14h1v1h-1zM18 15h1v1h-1zM22 15h2v1h-2zM27 15h1v1h-1zM32 15h1v1h-1zM62 16h1v1h-1zM67 16h1v1h-1zM3 17h1v1h-1zM7 17h1v1h-1zM26 17h1v1h-1zM31 17h1v1h-1zM67 17h1v1h-1zM17 18h1v1h-1zM65 18h1v1h-1zM10 19h1v1h-1zM19 20h1v1h-1zM36 20h1v1h-1zM39 20h1v1h-1zM61 20h1v1h-1zM58 21h1v1h-1zM63 21h1v1h-1zM66 21h1v1h-1zM13 22h1v1h-1zM2 24h1v1h-1zM28 24h1v1h-1zM6 25h2v1h-2zM12 25h1v1h-1zM26 25h1v1h-1z"/>
<path fill="#c4acdc" d="M23 0h1v1h-1zM7 1h1v1h-1zM19 1h1v1h-1zM2 2h1v1h-1zM67 3h1v1h-1zM21 4h1v1h-1zM27 4h1v1h-1zM32 4h1v1h-1zM61 5h1v1h-1zM2 6h1v1h-1zM17 9h1v1h-1zM16 12h1v1h-1zM39 12h1v1h-1zM60 12h1v1h-1zM15 13h1v1h-1zM56 14h1v1h-1zM15 15h1v1h-1zM34 16h1v1h-1zM18 17h1v1h-1zM23 17h1v1h-1zM30 18h1v1h-1zM69 19h1v1h-1zM15 20h1v1h-1zM9 21h1v1h-1zM14 24h1v1h-1zM16 25h1v1h-1z"/>
<path fill="#f4f4f4" d="M26 0h1v1h-1zM28 0h1v1h-1zM68 0h1v1h-1zM11 1h1v1h-1zM16 1h1v1h-1zM27 2h1v1h-1zM29 2h1v1h-1zM35 2h1v1h-1zM66 3h1v1h-1zM57 4h1v1h-1zM62 6h1v1h-1zM7 7h1v1h-1zM30 9h1v1h-1zM32 10h1v1h-1zM67 10h1v1h-1zM2 14h1v1h-1zM54 16h1v1h-1zM0 18h1v1h-1zM64 22h1v1h-1zM17 23h1v1h-1zM33 24h1v1h-1zM53 25h1v1h-1z"/>
<path fill="#fcdccc" d="M27 0h1v1h-1zM70 1h1v1h-1zM55 3h1v1h-1zM0 4h1v1h-1zM55 4h1v1h-1zM41 5h1v1h-1zM51 6h1v1h-1zM8 7h1v1h-1zM29 7h1v1h-1zM56 7h2v1h-2zM62 7h1v1h-1zM65 7h1v1h-1zM52 11h1v1h-1zM45 12h1v1h-1zM50 12h2v1h-2zM44 13h1v1h-1zM79 13h1v1h-1zM48 17h1v1h-1zM50 17h1v1h-1zM71 18h1v1h-1zM0 19h1v1h-1zM42 19h1v1h-1zM73 19h1v1h-1zM79 19h1v1h-1zM40 20h1v1h-1zM8 22h1v1h-1zM38 23h1v1h-1zM52 23h1v1h-1zM52 25h1v1h-1z"/>
<path fill="#e4dcec" d="M29 0h1v1h-1zM67 0h1v1h-1zM21 1h1v1h-1zM66 1h1v1h-1zM17 2h2v1h-2zM62 2h1v1h-1zM28 4h1v1h-1zM7 6h1v1h-1zM11 6h1v1h-1zM17 6h1v1h-1zM22 8h1v1h-1zM34 8h1v1h-1zM57 8h1v1h-1zM26 9h1v1h-1zM62 9h1v1h-1zM68 9h1v1h-1zM2 10h2v1h-2zM36 10h1v1h-1zM56 10h1v1h-1zM65 10h1v1h-1zM13 11h1v1h-1zM22 11h1v1h-1zM36 11h1v1h-1zM69 11h1v1h-1zM67 12h1v1h-1zM32 14h1v1h-1zM8 15h1v1h-1zM16 15h1v1h-1zM32 17h2v1h-2zM39 19h1v1h-1zM55 19h1v1h-1zM33 20h1v1h-1zM11 22h1v1h-1zM24 22h1v1h-1zM4 23h1v1h-1zM13 23h1v1h-1zM4 24h1v1h-1zM21 24h1v1h-1zM25 25h1v1h-1z"/>
<path fill="#ece4ec" d="M30 0h1v1h-1zM20 1h1v1h-1zM38 2h1v1h-1zM64 2h1v1h-1zM36 4h1v1h-1zM32 7h1v1h-1zM37 9h2v1h-2zM57 9h1v1h-1zM63 9h1v1h-1zM39 10h1v1h-1zM4 11h1v1h-1zM15 11h1v1h-1zM20 13h1v1h-1zM15 14h1v1h-1zM63 14h1v1h-1zM1 15h1v1h-1zM58 15h1v1h-1zM32 16h1v1h-1zM14 17h1v1h-1zM55 18h1v1h-1zM69 18h1v1h-1zM27 21h1v1h-1zM17 22h1v1h-1zM30 22h1v1h-1zM65 22h1v1h-1zM6 23h1v1h-1zM30 23h1v1h-1zM60 23h1v1h-1zM19 24h1v1h-1zM31 24h1v1h-1zM60 24h1v1h-1zM2 25h1v1h-1z"/>
<path fill="#bca4d4" d="M31 0h1v1h-1zM2 1h1v1h-1zM68 1h1v1h-1zM66 2h1v1h-1zM4 3h1v1h-1zM16 3h1v1h-1zM31 3h1v1h-1zM34 3h1v1h-1zM69 3h1v1h-1zM1 4h1v1h-1zM5 4h1v1h-1zM18 4h1v1h-1zM26 4h1v1h-1zM56 4h1v1h-1zM68 4h1v1h-1zM7 5h1v1h-1zM3 6h1v1h-1zM12 6h1v1h-1zM34 6h1v1h-1zM36 6h1v1h-1zM66 6h1v1h-1zM68 6h1v1h-1zM18 8h1v1h-1zM12 9h1v1h-1zM23 9h1v1h-1zM6 10h1v1h-1zM12 10h1v1h-1zM63 10h1v1h-1zM23 11h1v1h-1zM2 12h1v1h-1zM8 12h1v1h-1zM14 12h1v1h-1zM25 12h1v1h-1zM17 13h1v1h-1zM27 13h1v1h-1zM68 13h2v1h-2zM4 14h1v1h-1zM12 14h1v1h-1zM28 14h1v1h-1zM62 14h1v1h-1zM64 14h1v1h-1zM17 15h1v1h-1zM21 15h1v1h-1zM31 15h1v1h-1zM1 16h1v1h-1zM5 16h1v1h-1zM9 16h1v1h-1zM18 16h1v1h-1zM4 17h1v1h-1zM37 17h1v1h-1zM63 17h1v1h-1zM69 17h1v1h-1zM19 18h1v1h-1zM22 18h1v1h-1zM32 18h1v1h-1zM57 18h1v1h-1zM68 18h1v1h-1zM1 19h1v1h-1zM33 19h1v1h-1zM9 20h1v1h-1zM32 20h1v1h-1zM34 20h1v1h-1zM60 20h1v1h-1zM65 20h1v1h-1zM8 21h1v1h-1zM10 21h1v1h-1zM16 21h1v1h-1zM33 21h1v1h-1zM35 21h1v1h-1zM69 21h1v1h-1zM1 22h1v1h-1zM25 22h1v1h-1zM23 23h1v1h-1zM27 23h1v1h-1zM7 24h1v1h-1zM15 24h1v1h-1zM20 24h1v1h-1zM24 24h1v1h-1zM9 25h1v1h-1zM20 25h2v1h-2zM30 25h1v1h-1zM62 25h1v1h-1zM67 25h1v1h-1z"/>
<path fill="#e46444" d="M40 0h1v1h-1zM43 20h1v1h-1z"/>
<path fill="#ec7c64" d="M41 0h1v1h-1zM42 1h1v1h-1zM75 8h1v1h-1zM78 9h1v1h-1zM0 15h1v1h-1zM72 15h1v1h-1zM78 18h1v1h-1zM77 23h1v1h-1zM0 25h1v1h-1z"/>
<path fill="#ec6c54" d="M42 0h1v1h-1zM42 14h1v1h-1zM78 14h1v1h-1z"/>
<path fill="#e46c54" d="M44 0h1v1h-1zM73 1h1v1h-1zM75 9h1v1h-1zM75 22h1v1h-1z"/>
<path fill="#ec8c74" d="M45 0h1v1h-1zM0 7h1v1h-1zM41 10h1v1h-1zM78 16h1v1h-1zM77 21h1v1h-1zM45 22h1v1h-1zM74 22h1v1h-1zM79 23h1v1h-1zM44 25h1v1h-1zM79 25h1v1h-1z"/>
<path fill="#e4644c" d="M46 0h1v1h-1zM72 0h1v1h-1zM74 0h1v1h-1zM78 0h1v1h-1zM78 1h1v1h-1zM40 2h1v1h-1zM43 2h1v1h-1zM73 2h1v1h-1zM77 6h1v1h-1zM44 7h1v1h-1zM46 7h2v1h-2zM72 8h1v1h-1zM71 9h1v1h-1zM78 10h1v1h-1zM44 11h1v1h-1zM72 11h1v1h-1zM74 11h1v1h-1zM43 22h1v1h-1zM0 23h1v1h-1zM41 24h1v1h-1zM75 24h1v1h-1z"/>
<path fill="#ec8c6c" d="M47 0h1v1h-1zM76 0h1v1h-1zM46 1h1v1h-1zM48 2h1v1h-1zM72 3h1v1h-1zM76 3h1v1h-1zM41 4h1v1h-1zM72 5h1v1h-1zM47 6h1v1h-1zM48 7h1v1h-1zM53 7h1v1h-1zM70 7h1v1h-1zM41 8h1v1h-1zM50 8h1v1h-1zM43 9h1v1h-1zM45 11h1v1h-1zM74 12h1v1h-1zM73 13h1v1h-1zM41 15h1v1h-1zM79 15h1v1h-1zM78 17h1v1h-1zM75 18h1v1h-1zM76 19h1v1h-1zM72 20h2v1h-2zM40 22h1v1h-1zM50 23h1v1h-1zM40 24h1v1h-1z"/>
<path fill="#f49c7c" d="M49 0h1v1h-1zM53 0h1v1h-1zM79 0h1v1h-1zM46 2h1v1h-1zM51 2h1v1h-1zM42 4h1v1h-1zM40 6h1v1h-1zM49 8h1v1h-1zM55 8h1v1h-1zM79 8h1v1h-1zM42 9h1v1h-1zM77 11h1v1h-1zM42 12h1v1h-1zM76 14h1v1h-1zM74 15h1v1h-1zM76 15h1v1h-1zM75 16h1v1h-1zM42 17h1v1h-1zM46 22h1v1h-1zM79 22h1v1h-1zM73 23h1v1h-1zM75 23h1v1h-1zM44 24h1v1h-1zM41 25h1v1h-1zM43 25h1v1h-1zM72 25h2v1h-2zM78 25h1v1h-1z"/>
<path fill="#f4a484" d="M50 0h1v1h-1zM71 0h1v1h-1zM51 1h1v1h-1zM54 1h1v1h-1zM41 3h1v1h-1zM73 3h1v1h-1zM75 5h1v1h-1zM42 6h1v1h-1zM54 6h1v1h-1zM76 6h1v1h-1zM49 7h1v1h-1zM52 7h1v1h-1zM71 7h1v1h-1zM77 8h1v1h-1zM44 9h1v1h-1zM40 10h1v1h-1zM49 10h1v1h-1zM70 10h1v1h-1zM76 11h1v1h-1zM79 11h1v1h-1zM47 12h1v1h-1zM76 12h1v1h-1zM44 14h1v1h-1zM53 14h1v1h-1zM74 14h1v1h-1zM48 15h1v1h-1zM43 16h1v1h-1zM44 17h1v1h-1zM74 17h1v1h-1zM44 18h1v1h-1zM50 20h1v1h-1zM78 20h1v1h-1zM41 21h1v1h-1zM74 21h1v1h-1zM45 24h3v1h-3zM53 24h1v1h-1zM54 25h1v1h-1z"/>
<path fill="#f4b49c" d="M51 0h1v1h-1zM45 2h1v1h-1zM54 2h1v1h-1zM70 3h1v1h-1zM41 6h1v1h-1zM73 6h1v1h-1zM38 7h1v1h-1zM55 7h1v1h-1zM54 9h2v1h-2zM54 10h1v1h-1zM0 11h1v1h-1zM54 11h1v1h-1zM45 15h1v1h-1zM52 15h2v1h-2zM70 16h1v1h-1zM76 16h1v1h-1zM43 18h1v1h-1zM72 18h1v1h-1zM41 20h1v1h-1zM45 20h1v1h-1zM52 20h1v1h-1zM72 21h1v1h-1zM47 22h2v1h-2zM71 24h1v1h-1z"/>
<path fill="#ec8464" d="M52 0h1v1h-1zM44 1h2v1h-2zM71 1h2v1h-2zM74 1h1v1h-1zM77 1h1v1h-1zM50 2h1v1h-1zM78 2h1v1h-1zM77 3h1v1h-1zM46 4h1v1h-1zM75 6h1v1h-1zM78 6h1v1h-1zM41 7h1v1h-1zM50 7h2v1h-2zM40 8h1v1h-1zM42 10h1v1h-1zM72 10h2v1h-2zM77 10h1v1h-1zM41 11h1v1h-1zM75 11h1v1h-1zM78 11h1v1h-1zM40 13h2v1h-2zM46 14h1v1h-1zM46 15h1v1h-1zM77 15h1v1h-1zM77 17h1v1h-1zM76 20h1v1h-1zM41 23h2v1h-2zM47 23h1v1h-1zM51 23h1v1h-1zM55 23h1v1h-1zM70 23h1v1h-1zM74 24h1v1h-1zM78 24h1v1h-1zM76 25h2v1h-2z"/>
<path fill="#f4947c" d="M54 0h1v1h-1zM76 4h1v1h-1zM43 10h1v1h-1zM70 22h1v1h-1zM73 22h1v1h-1z"/>
<path fill="#ec9474" d="M55 0h1v1h-1zM45 4h1v1h-1zM48 6h1v1h-1zM73 8h1v1h-1zM76 8h1v1h-1zM40 11h1v1h-1zM73 11h1v1h-1zM72 12h1v1h-1zM72 13h1v1h-1zM75 17h1v1h-1zM73 18h1v1h-1zM76 21h1v1h-1zM0 22h1v1h-1zM44 22h1v1h-1zM71 22h1v1h-1zM42 24h1v1h-1z"/>
<path fill="#fcd4c4" d="M56 0h1v1h-1zM61 0h1v1h-1zM25 1h1v1h-1zM62 1h1v1h-1zM0 2h1v1h-1zM12 2h1v1h-1zM21 2h1v1h-1zM39 2h1v1h-1zM42 3h1v1h-1zM45 3h1v1h-1zM53 3h1v1h-1zM0 6h1v1h-1zM50 6h1v1h-1zM1 7h1v1h-1zM33 7h1v1h-1zM58 7h1v1h-1zM59 9h1v1h-1zM51 10h1v1h-1zM51 11h1v1h-1zM55 11h1v1h-1zM70 12h1v1h-1zM0 13h1v1h-1zM54 13h1v1h-1zM40 14h1v1h-1zM50 14h1v1h-1zM55 14h1v1h-1zM71 15h1v1h-1zM0 16h1v1h-1zM48 18h1v1h-1zM50 18h1v1h-1zM79 18h1v1h-1zM51 20h1v1h-1zM0 21h1v1h-1zM51 21h1v1h-1zM53 21h1v1h-1zM9 22h1v1h-1zM16 22h1v1h-1zM56 23h1v1h-1zM27 24h1v1h-1zM61 25h1v1h-1z"/>
<path fill="#fce4d4" d="M57 0h1v1h-1zM59 0h1v1h-1zM10 2h1v1h-1zM2 7h1v1h-1zM11 7h1v1h-1zM69 7h1v1h-1zM38 14h1v1h-1zM55 21h1v1h-1zM56 24h1v1h-1z"/>
<path fill="#fce4dc" d="M60 0h1v1h-1zM23 1h1v1h-1zM28 1h1v1h-1zM53 1h1v1h-1zM16 2h1v1h-1zM30 2h1v1h-1zM34 2h1v1h-1zM53 2h1v1h-1zM50 3h1v1h-1zM44 5h1v1h-1zM47 5h1v1h-1zM53 6h1v1h-1zM15 7h1v1h-1zM22 7h1v1h-1zM60 7h1v1h-1zM63 7h1v1h-1zM10 8h1v1h-1zM25 8h1v1h-1zM8 9h1v1h-1zM52 9h1v1h-1zM52 10h1v1h-1zM49 11h1v1h-1zM59 11h1v1h-1zM73 12h1v1h-1zM79 12h1v1h-1zM51 13h1v1h-1zM48 14h1v1h-1zM49 15h1v1h-1zM64 15h1v1h-1zM52 16h1v1h-1zM55 16h1v1h-1zM60 17h1v1h-1zM51 18h1v1h-1zM49 19h1v1h-1zM48 20h1v1h-1zM55 20h1v1h-1zM50 21h1v1h-1zM54 21h1v1h-1zM2 23h1v1h-1zM16 23h1v1h-1zM39 23h1v1h-1zM58 23h1v1h-1z"/>
<path fill="#dcd4ec" d="M64 0h1v1h-1zM6 2h1v1h-1zM65 2h1v1h-1zM29 4h1v1h-1zM4 6h1v1h-1zM55 6h1v1h-1zM11 8h1v1h-1zM63 8h1v1h-1zM56 9h1v1h-1zM60 9h1v1h-1zM3 11h1v1h-1zM6 15h1v1h-1zM2 17h1v1h-1zM16 18h1v1h-1zM56 21h1v1h-1zM12 24h1v1h-1zM28 25h1v1h-1z"/>
<path fill="#f49c84" d="M70 0h1v1h-1zM76 1h1v1h-1zM72 6h1v1h-1zM53 8h1v1h-1zM44 15h1v1h-1zM79 17h1v1h-1zM40 23h1v1h-1zM53 23h2v1h-2z"/>
<path fill="#e4543c" d="M73 0h1v1h-1zM77 0h1v1h-1zM41 2h1v1h-1zM72 2h1v1h-1zM75 2h2v1h-2zM74 6h1v1h-1zM40 7h1v1h-1zM43 7h1v1h-1zM54 7h1v1h-1zM72 7h7v1h-7zM41 9h1v1h-1zM72 9h3v1h-3zM77 9h1v1h-1zM75 10h1v1h-1zM75 15h1v1h-1zM78 15h1v1h-1zM73 17h1v1h-1zM72 22h1v1h-1zM77 22h1v1h-1zM72 23h1v1h-1zM72 24h1v1h-1zM74 25h1v1h-1z"/>
<path fill="#f49474" d="M75 0h1v1h-1zM79 1h1v1h-1zM46 6h1v1h-1zM45 8h1v1h-1zM77 14h1v1h-1zM42 15h1v1h-1zM41 17h1v1h-1zM77 18h1v1h-1zM43 21h1v1h-1zM78 21h1v1h-1zM49 22h2v1h-2zM45 23h1v1h-1zM0 24h1v1h-1zM47 25h1v1h-1z"/>
<path fill="#c4b4dc" d="M1 1h1v1h-1zM5 1h1v1h-1zM13 3h2v1h-2zM17 4h1v1h-1zM23 4h1v1h-1zM37 4h1v1h-1zM15 6h1v1h-1zM18 12h1v1h-1zM32 12h1v1h-1zM12 13h1v1h-1zM14 13h1v1h-1zM32 13h1v1h-1zM14 16h1v1h-1zM59 18h1v1h-1zM34 19h1v1h-1zM20 20h1v1h-1zM58 20h1v1h-1zM15 21h1v1h-1zM19 23h1v1h-1zM67 24h1v1h-1zM68 25h1v1h-1z"/>
<path fill="#d4bce4" d="M8 1h2v1h-2zM19 2h1v1h-1zM14 4h1v1h-1zM63 4h1v1h-1zM61 6h1v1h-1zM29 8h2v1h-2zM35 8h1v1h-1zM4 10h1v1h-1zM7 10h1v1h-1zM18 10h1v1h-1zM3 13h1v1h-1zM9 13h1v1h-1zM30 13h1v1h-1zM10 15h1v1h-1zM25 15h1v1h-1zM56 15h1v1h-1zM66 15h1v1h-1zM13 17h1v1h-1zM62 17h1v1h-1zM8 18h1v1h-1zM13 18h1v1h-1zM16 20h1v1h-1zM39 21h1v1h-1zM7 22h1v1h-1zM10 22h1v1h-1zM34 22h1v1h-1zM3 25h1v1h-1zM33 25h1v1h-1z"/>
<path fill="#c4acd4" d="M13 1h1v1h-1zM24 1h1v1h-1zM34 1h1v1h-1zM64 1h1v1h-1zM68 2h1v1h-1zM8 3h1v1h-1zM15 3h1v1h-1zM33 3h1v1h-1zM2 4h1v1h-1zM15 4h1v1h-1zM30 4h1v1h-1zM33 4h1v1h-1zM66 4h1v1h-1zM8 5h1v1h-1zM14 5h1v1h-1zM69 5h1v1h-1zM8 6h1v1h-1zM14 6h1v1h-1zM24 6h1v1h-1zM28 6h1v1h-1zM1 9h1v1h-1zM18 9h1v1h-1zM33 10h2v1h-2zM5 11h1v1h-1zM17 11h1v1h-1zM26 13h1v1h-1zM64 13h1v1h-1zM2 15h1v1h-1zM19 15h1v1h-1zM16 16h1v1h-1zM31 16h1v1h-1zM37 16h1v1h-1zM65 16h1v1h-1zM16 17h1v1h-1zM19 17h1v1h-1zM28 17h1v1h-1zM3 18h1v1h-1zM14 18h1v1h-1zM21 18h1v1h-1zM64 18h1v1h-1zM24 19h1v1h-1zM36 19h1v1h-1zM38 19h1v1h-1zM59 19h2v1h-2zM23 20h1v1h-1zM69 20h1v1h-1zM3 21h1v1h-1zM21 21h1v1h-1zM57 21h1v1h-1zM64 21h1v1h-1zM6 22h1v1h-1zM60 22h1v1h-1zM30 24h1v1h-1zM8 25h1v1h-1zM60 25h1v1h-1zM65 25h1v1h-1z"/>
<path fill="#ac94cc" d="M17 1h1v1h-1zM12 3h1v1h-1zM35 3h1v1h-1zM11 4h1v1h-1zM28 5h1v1h-1zM33 6h1v1h-1zM2 9h1v1h-1zM16 9h1v1h-1zM9 10h1v1h-1zM38 10h1v1h-1zM37 11h1v1h-1zM56 12h1v1h-1zM37 13h1v1h-1zM10 14h1v1h-1zM37 14h1v1h-1zM7 16h1v1h-1zM30 16h1v1h-1zM36 16h1v1h-1zM38 16h1v1h-1zM11 17h1v1h-1zM22 17h1v1h-1zM20 18h1v1h-1zM67 18h1v1h-1zM26 19h1v1h-1zM10 20h1v1h-1zM22 20h1v1h-1zM24 20h1v1h-1zM56 20h1v1h-1zM26 21h1v1h-1zM67 21h1v1h-1zM29 24h1v1h-1zM22 25h1v1h-1z"/>
<path fill="#bc9cd4" d="M29 1h1v1h-1zM11 3h1v1h-1zM30 5h1v1h-1zM34 14h1v1h-1zM13 16h1v1h-1zM12 17h1v1h-1zM6 19h1v1h-1zM12 20h2v1h-2zM68 20h1v1h-1zM38 25h1v1h-1z"/>
<path fill="#f4ac8c" d="M40 1h1v1h-1zM79 2h1v1h-1zM44 4h1v1h-1zM73 5h1v1h-1zM44 6h1v1h-1zM3 7h1v1h-1zM78 8h1v1h-1zM47 9h1v1h-1zM79 10h1v1h-1zM46 11h1v1h-1zM43 12h1v1h-1zM70 14h1v1h-1zM75 14h1v1h-1zM43 19h1v1h-1zM70 19h1v1h-1zM53 22h1v1h-1zM55 22h1v1h-1zM48 24h1v1h-1zM50 24h1v1h-1zM79 24h1v1h-1z"/>
<path fill="#f4bc9c" d="M41 1h1v1h-1zM47 1h1v1h-1zM43 3h1v1h-1zM46 3h1v1h-1zM75 3h1v1h-1zM45 6h1v1h-1zM70 6h1v1h-1zM70 9h1v1h-1zM0 10h1v1h-1zM61 22h1v1h-1z"/>
<path fill="#e46c4c" d="M43 1h1v1h-1zM77 4h1v1h-1zM42 7h1v1h-1zM44 8h1v1h-1zM42 11h1v1h-1zM74 18h1v1h-1zM75 21h1v1h-1zM41 22h1v1h-1z"/>
<path fill="#fcccb4" d="M52 1h1v1h-1zM57 2h1v1h-1zM49 4h2v1h-2zM52 4h1v1h-1zM78 4h2v1h-2zM45 5h2v1h-2zM74 5h1v1h-1zM25 7h1v1h-1zM31 7h1v1h-1zM64 7h1v1h-1zM51 8h1v1h-1zM48 9h1v1h-1zM50 9h1v1h-1zM79 9h1v1h-1zM44 10h1v1h-1zM46 10h1v1h-1zM50 10h1v1h-1zM48 11h1v1h-1zM53 11h1v1h-1zM40 12h1v1h-1zM52 13h1v1h-1zM43 14h1v1h-1zM41 16h1v1h-1zM71 16h1v1h-1zM47 18h1v1h-1zM40 19h1v1h-1zM44 19h1v1h-1zM0 20h1v1h-1zM44 20h1v1h-1zM51 22h1v1h-1zM54 22h1v1h-1zM20 23h1v1h-1zM54 24h1v1h-1zM70 24h1v1h-1zM40 25h1v1h-1zM51 25h1v1h-1z"/>
<path fill="#fcccbc" d="M55 1h1v1h-1zM47 4h1v1h-1zM70 4h1v1h-1zM48 13h1v1h-1zM54 20h1v1h-1zM49 21h1v1h-1z"/>
<path fill="#ec745c" d="M75 1h1v1h-1zM75 4h1v1h-1zM40 15h1v1h-1zM43 15h1v1h-1zM54 15h1v1h-1zM71 23h1v1h-1zM74 23h1v1h-1z"/>
<path fill="#fcd4bc" d="M14 2h1v1h-1zM61 2h1v1h-1zM69 2h1v1h-1zM47 3h1v1h-1zM53 4h1v1h-1zM0 5h1v1h-1zM4 7h1v1h-1zM10 7h1v1h-1zM27 7h1v1h-1zM52 8h1v1h-1zM54 8h1v1h-1zM46 9h1v1h-1zM55 10h1v1h-1zM71 10h1v1h-1zM78 12h1v1h-1zM0 14h1v1h-1zM45 14h1v1h-1zM71 14h1v1h-1zM51 15h1v1h-1zM46 16h1v1h-1zM55 17h1v1h-1zM54 19h1v1h-1zM71 19h2v1h-2zM42 20h1v1h-1zM46 20h1v1h-1zM51 24h1v1h-1zM42 25h1v1h-1z"/>
<path fill="#dcd4e4" d="M32 2h1v1h-1zM0 3h1v1h-1zM24 4h1v1h-1zM67 7h1v1h-1zM38 24h1v1h-1z"/>
<path fill="#ec7454" d="M42 2h1v1h-1zM79 7h1v1h-1zM74 10h1v1h-1zM42 22h1v1h-1zM76 22h1v1h-1zM43 23h1v1h-1z"/>
<path fill="#ec7c5c" d="M47 2h1v1h-1zM74 2h1v1h-1zM43 6h1v1h-1zM74 8h1v1h-1zM77 13h1v1h-1zM72 14h1v1h-1zM47 15h1v1h-1zM72 16h1v1h-1zM77 16h1v1h-1zM43 17h1v1h-1zM74 19h1v1h-1zM74 20h1v1h-1zM42 21h1v1h-1zM73 21h1v1h-1zM78 22h1v1h-1zM76 23h1v1h-1zM43 24h1v1h-1zM73 24h1v1h-1zM77 24h1v1h-1z"/>
<path fill="#ec846c" d="M52 2h1v1h-1zM50 15h1v1h-1zM45 17h1v1h-1zM46 23h1v1h-1zM55 24h1v1h-1z"/>
<path fill="#fcc4ac" d="M55 2h1v1h-1zM71 2h1v1h-1zM44 3h1v1h-1zM54 3h1v1h-1zM74 3h1v1h-1zM71 4h1v1h-1zM52 6h1v1h-1zM59 7h1v1h-1zM61 7h1v1h-1zM46 8h1v1h-1zM47 10h2v1h-2zM41 12h1v1h-1zM46 12h1v1h-1zM77 12h1v1h-1zM78 13h1v1h-1zM45 16h1v1h-1zM47 16h1v1h-1zM70 17h1v1h-1zM70 18h1v1h-1zM76 18h1v1h-1zM41 19h1v1h-1zM47 19h1v1h-1zM78 19h1v1h-1zM57 20h1v1h-1zM70 20h1v1h-1zM40 21h1v1h-1zM48 23h1v1h-1zM49 24h1v1h-1zM27 25h1v1h-1zM50 25h1v1h-1zM70 25h2v1h-2z"/>
<path fill="#e45c44" d="M77 2h1v1h-1zM45 7h1v1h-1zM73 14h1v1h-1zM72 17h1v1h-1zM44 23h1v1h-1zM78 23h1v1h-1zM76 24h1v1h-1zM75 25h1v1h-1z"/>
<path fill="#ac8ccc" d="M1 3h1v1h-1zM23 3h1v1h-1zM27 3h1v1h-1zM65 3h1v1h-1zM23 6h1v1h-1zM64 9h1v1h-1zM2 11h1v1h-1zM58 12h1v1h-1zM2 13h1v1h-1zM19 13h1v1h-1zM3 16h1v1h-1zM7 18h1v1h-1zM25 18h1v1h-1zM8 19h1v1h-1zM28 19h1v1h-1zM26 20h1v1h-1z"/>
<path fill="#b49ccc" d="M2 3h1v1h-1zM21 3h1v1h-1zM24 3h1v1h-1zM32 3h1v1h-1zM36 3h1v1h-1zM3 4h1v1h-1zM8 4h1v1h-1zM6 5h1v1h-1zM13 5h1v1h-1zM56 5h1v1h-1zM60 5h1v1h-1zM37 6h1v1h-1zM64 6h1v1h-1zM14 8h2v1h-2zM24 10h1v1h-1zM29 10h1v1h-1zM7 11h1v1h-1zM3 12h1v1h-1zM23 12h1v1h-1zM1 13h1v1h-1zM6 13h1v1h-1zM25 13h1v1h-1zM33 13h1v1h-1zM38 13h1v1h-1zM19 14h1v1h-1zM24 14h1v1h-1zM20 15h1v1h-1zM26 15h1v1h-1zM10 16h1v1h-1zM22 16h1v1h-1zM25 16h1v1h-1zM57 16h1v1h-1zM69 16h1v1h-1zM35 17h1v1h-1zM5 18h2v1h-2zM26 18h1v1h-1zM37 18h1v1h-1zM5 19h1v1h-1zM22 19h1v1h-1zM27 19h1v1h-1zM62 19h1v1h-1zM68 19h1v1h-1zM8 20h1v1h-1zM11 21h1v1h-1zM24 21h1v1h-1zM1 25h1v1h-1zM13 25h1v1h-1zM15 25h1v1h-1zM17 25h1v1h-1zM37 25h1v1h-1zM64 25h1v1h-1z"/>
<path fill="#a48cc4" d="M3 3h1v1h-1zM9 3h1v1h-1zM23 5h1v1h-1zM28 12h1v1h-1zM22 14h1v1h-1zM35 14h1v1h-1zM29 18h1v1h-1zM18 19h1v1h-1zM2 20h1v1h-1zM5 20h1v1h-1zM64 20h1v1h-1zM22 21h1v1h-1z"/>
<path fill="#9474bc" d="M6 3h1v1h-1zM22 3h1v1h-1zM3 5h1v1h-1zM62 5h1v1h-1zM22 12h1v1h-1zM7 13h1v1h-1zM36 18h1v1h-1zM35 19h1v1h-1zM69 25h1v1h-1z"/>
<path fill="#8c64ac" d="M7 3h1v1h-1zM19 3h1v1h-1zM5 12h1v1h-1zM24 18h1v1h-1zM38 18h1v1h-1z"/>
<path fill="#ac8cc4" d="M10 3h1v1h-1zM39 3h1v1h-1zM56 3h1v1h-1zM19 4h1v1h-1zM25 4h1v1h-1zM9 5h1v1h-1zM17 5h1v1h-1zM25 5h1v1h-1zM29 5h1v1h-1zM32 5h1v1h-1zM36 5h1v1h-1zM39 5h1v1h-1zM66 5h1v1h-1zM68 5h1v1h-1zM1 6h1v1h-1zM6 6h1v1h-1zM19 6h1v1h-1zM67 6h1v1h-1zM37 8h1v1h-1zM7 9h1v1h-1zM22 9h1v1h-1zM28 10h1v1h-1zM12 11h1v1h-1zM24 11h1v1h-1zM26 11h1v1h-1zM29 11h1v1h-1zM19 12h2v1h-2zM65 12h1v1h-1zM10 13h1v1h-1zM18 13h1v1h-1zM28 13h1v1h-1zM31 13h1v1h-1zM39 13h1v1h-1zM56 13h1v1h-1zM63 13h1v1h-1zM13 14h1v1h-1zM20 14h1v1h-1zM36 15h1v1h-1zM2 16h1v1h-1zM11 16h1v1h-1zM20 16h1v1h-1zM68 16h1v1h-1zM21 17h1v1h-1zM30 17h1v1h-1zM38 17h1v1h-1zM68 17h1v1h-1zM17 19h1v1h-1zM23 19h1v1h-1zM56 19h1v1h-1zM29 20h1v1h-1zM62 20h1v1h-1zM5 21h1v1h-1zM36 21h1v1h-1zM61 21h2v1h-2zM10 25h1v1h-1zM19 25h1v1h-1zM23 25h1v1h-1zM35 25h2v1h-2z"/>
<path fill="#845ca4" d="M17 3h1v1h-1z"/>
<path fill="#9c7cbc" d="M25 3h1v1h-1zM28 3h1v1h-1zM4 5h2v1h-2zM19 5h1v1h-1zM21 5h1v1h-1zM24 5h1v1h-1zM59 5h1v1h-1zM63 5h2v1h-2zM23 8h1v1h-1zM65 8h1v1h-1zM5 9h1v1h-1zM29 9h1v1h-1zM31 9h1v1h-1zM11 10h1v1h-1zM67 11h1v1h-1zM7 12h1v1h-1zM29 12h1v1h-1zM35 13h1v1h-1zM58 13h1v1h-1zM62 13h1v1h-1zM24 15h1v1h-1zM60 15h1v1h-1zM65 15h1v1h-1zM59 16h1v1h-1zM29 17h1v1h-1zM1 18h1v1h-1zM58 18h1v1h-1zM63 18h1v1h-1zM29 19h1v1h-1zM6 20h1v1h-1zM67 20h1v1h-1zM2 21h1v1h-1zM20 21h1v1h-1zM25 21h1v1h-1zM11 25h1v1h-1z"/>
<path fill="#b494cc" d="M26 3h1v1h-1zM62 3h1v1h-1zM7 4h1v1h-1zM9 4h2v1h-2zM31 6h1v1h-1zM25 9h1v1h-1zM13 10h1v1h-1zM39 11h1v1h-1zM8 13h1v1h-1zM21 13h2v1h-2zM29 13h1v1h-1zM36 13h1v1h-1zM1 14h1v1h-1zM34 15h1v1h-1zM37 15h1v1h-1zM8 16h1v1h-1zM63 16h1v1h-1zM8 17h1v1h-1zM28 18h1v1h-1zM12 19h1v1h-1zM21 19h1v1h-1zM25 19h1v1h-1zM32 19h1v1h-1zM67 19h1v1h-1zM1 20h1v1h-1zM65 21h1v1h-1zM57 24h1v1h-1z"/>
<path fill="#9474b4" d="M29 3h1v1h-1zM10 5h1v1h-1zM15 5h2v1h-2zM22 5h1v1h-1zM26 5h1v1h-1zM33 5h1v1h-1zM35 12h1v1h-1zM63 12h1v1h-1zM26 16h1v1h-1zM3 19h1v1h-1z"/>
<path fill="#7c54a4" d="M37 3h1v1h-1zM12 5h1v1h-1zM34 5h1v1h-1zM65 5h1v1h-1zM36 12h1v1h-1zM29 16h1v1h-1zM64 19h1v1h-1z"/>
<path fill="#fce4e4" d="M52 3h1v1h-1zM48 5h1v1h-1zM49 6h1v1h-1zM30 10h1v1h-1zM44 12h1v1h-1zM55 13h1v1h-1zM33 15h1v1h-1zM53 18h2v1h-2zM46 21h1v1h-1zM57 22h1v1h-1zM62 23h1v1h-1zM39 24h1v1h-1z"/>
<path fill="#946cb4" d="M60 3h1v1h-1zM58 5h1v1h-1zM11 9h1v1h-1zM29 14h1v1h-1zM63 15h1v1h-1zM37 19h1v1h-1zM29 21h1v1h-1z"/>
<path fill="#d4bcdc" d="M61 3h1v1h-1zM13 8h1v1h-1zM31 8h1v1h-1zM60 8h1v1h-1zM68 10h1v1h-1zM18 11h1v1h-1zM60 11h1v1h-1zM27 18h1v1h-1zM39 18h1v1h-1zM14 21h1v1h-1zM34 21h1v1h-1zM2 22h1v1h-1zM28 23h1v1h-1zM34 24h1v1h-1z"/>
<path fill="#8c6cb4" d="M64 3h1v1h-1zM12 4h1v1h-1zM11 12h1v1h-1zM13 12h1v1h-1zM34 12h1v1h-1zM67 13h1v1h-1zM17 16h1v1h-1zM15 17h1v1h-1zM18 18h1v1h-1zM4 19h1v1h-1zM7 20h1v1h-1zM7 21h1v1h-1z"/>
<path fill="#7c5ca4" d="M68 3h1v1h-1zM1 5h1v1h-1zM35 5h1v1h-1zM15 19h1v1h-1z"/>
<path fill="#dcc4e4" d="M4 4h1v1h-1zM33 9h1v1h-1zM16 11h1v1h-1zM26 12h1v1h-1zM38 15h2v1h-2zM61 16h1v1h-1z"/>
<path fill="#8464ac" d="M6 4h1v1h-1zM64 12h1v1h-1zM24 13h1v1h-1zM38 20h1v1h-1z"/>
<path fill="#a484c4" d="M20 4h1v1h-1zM35 4h1v1h-1zM62 4h1v1h-1zM18 5h1v1h-1zM31 5h1v1h-1zM37 5h2v1h-2zM67 5h1v1h-1zM18 6h1v1h-1zM6 11h1v1h-1zM6 12h1v1h-1zM15 12h1v1h-1zM21 12h1v1h-1zM24 12h1v1h-1zM27 12h1v1h-1zM31 12h1v1h-1zM38 12h1v1h-1zM23 13h1v1h-1zM11 14h1v1h-1zM12 16h1v1h-1zM21 16h1v1h-1zM28 16h1v1h-1zM35 16h1v1h-1zM60 16h1v1h-1zM9 17h1v1h-1zM2 18h1v1h-1zM62 18h1v1h-1zM7 19h1v1h-1zM9 19h1v1h-1zM14 19h1v1h-1zM20 19h1v1h-1zM31 19h1v1h-1zM57 19h2v1h-2zM11 20h1v1h-1zM25 20h1v1h-1zM13 21h1v1h-1zM19 21h1v1h-1zM31 21h1v1h-1zM37 21h1v1h-1zM19 22h1v1h-1z"/>
<path fill="#f4b494" d="M54 4h1v1h-1zM72 4h2v1h-2zM43 8h1v1h-1zM71 8h1v1h-1zM0 9h1v1h-1zM76 10h1v1h-1zM43 11h1v1h-1zM47 11h1v1h-1zM71 11h1v1h-1zM45 13h1v1h-1zM49 13h2v1h-2zM74 16h1v1h-1zM0 17h1v1h-1zM51 17h1v1h-1zM45 18h1v1h-1zM45 19h1v1h-1zM75 19h1v1h-1zM77 19h1v1h-1zM77 20h1v1h-1zM45 21h1v1h-1zM79 21h1v1h-1zM49 23h1v1h-1zM45 25h1v1h-1z"/>
<path fill="#74449c" d="M2 5h1v1h-1z"/>
<path fill="#8c64b4" d="M11 5h1v1h-1zM13 19h1v1h-1z"/>
<path fill="#845cac" d="M20 5h1v1h-1zM17 21h1v1h-1z"/>
<path fill="#f4a48c" d="M76 5h1v1h-1zM50 11h1v1h-1zM70 11h1v1h-1zM43 13h1v1h-1zM74 13h2v1h-2zM40 16h1v1h-1zM73 16h1v1h-1zM46 17h1v1h-1zM46 25h1v1h-1z"/>
<path fill="#fcc4a4" d="M21 7h1v1h-1z"/>
<path fill="#f4c4a4" d="M40 9h1v1h-1zM54 14h1v1h-1zM40 18h1v1h-1zM49 18h1v1h-1z"/>
<path fill="#9c74bc" d="M67 9h1v1h-1zM17 12h1v1h-1zM37 12h1v1h-1zM34 18h1v1h-1zM35 20h1v1h-1zM18 21h1v1h-1zM5 25h1v1h-1z"/>
<path fill="#bc9ccc" d="M26 10h1v1h-1z"/>
<path fill="#744c9c" d="M1 12h1v1h-1zM23 16h1v1h-1zM35 18h1v1h-1zM11 19h1v1h-1zM1 21h1v1h-1z"/>
<path fill="#744ca4" d="M62 12h1v1h-1z"/>
<path fill="#a484bc" d="M5 13h1v1h-1zM24 16h1v1h-1zM64 16h1v1h-1zM12 18h1v1h-1zM16 19h1v1h-1zM18 20h1v1h-1zM21 20h1v1h-1zM31 20h1v1h-1z"/>
</g>
<g transform="translate(37.2 222.9) scale(2.6200 0.9900)">
<path fill="#9c74bc" d="M0 0h1v1h-1zM11 0h1v1h-1zM8 3h1v1h-1z"/>
<path fill="#8c64ac" d="M1 0h1v1h-1zM10 0h1v1h-1zM9 1h2v1h-2zM9 3h1v1h-1zM10 4h1v1h-1z"/>
<path fill="#9474bc" d="M2 0h1v1h-1zM1 1h1v1h-1z"/>
<path fill="#a47cbc" d="M3 0h1v1h-1z"/>
<path fill="#946cb4" d="M4 0h3v1h-3zM5 1h1v1h-1zM2 4h1v1h-1zM4 6h1v1h-1zM1 8h1v1h-1z"/>
<path fill="#8464ac" d="M7 0h1v1h-1zM12 3h1v1h-1zM14 3h1v1h-1zM8 4h1v1h-1zM11 8h1v1h-1z"/>
<path fill="#a484c4" d="M8 0h1v1h-1zM7 1h1v1h-1zM15 2h1v1h-1zM3 3h2v1h-2zM13 3h1v1h-1zM8 5h1v1h-1zM20 6h1v1h-1zM0 7h1v1h-1zM8 7h1v1h-1zM0 8h1v1h-1zM6 8h1v1h-1zM8 8h1v1h-1zM55 8h1v1h-1zM8 9h2v1h-2z"/>
<path fill="#9474b4" d="M9 0h1v1h-1zM3 1h1v1h-1zM8 1h1v1h-1zM0 2h1v1h-1zM3 4h3v1h-3zM11 4h1v1h-1zM14 6h1v1h-1z"/>
<path fill="#ac8cc4" d="M12 0h1v1h-1zM18 0h1v1h-1zM11 1h1v1h-1zM1 3h1v1h-1zM7 3h1v1h-1zM11 3h1v1h-1zM15 3h1v1h-1zM6 4h2v1h-2zM15 4h1v1h-1zM20 4h1v1h-1zM9 5h1v1h-1zM2 7h1v1h-1zM7 7h1v1h-1zM9 7h1v1h-1zM10 8h1v1h-1zM23 8h1v1h-1zM11 9h1v1h-1z"/>
<path fill="#bca4d4" d="M13 0h1v1h-1zM20 0h1v1h-1zM6 1h1v1h-1zM1 2h1v1h-1zM11 2h1v1h-1zM26 3h1v1h-1zM12 4h1v1h-1zM19 4h1v1h-1zM2 5h1v1h-1zM4 5h2v1h-2zM43 6h1v1h-1zM48 6h1v1h-1zM73 6h1v1h-1zM13 8h1v1h-1zM2 9h1v1h-1z"/>
<path fill="#c4acd4" d="M14 0h2v1h-2zM43 0h1v1h-1zM4 1h1v1h-1zM13 1h1v1h-1zM21 1h1v1h-1zM55 1h1v1h-1zM4 2h1v1h-1zM18 3h1v1h-1zM27 3h1v1h-1zM41 3h1v1h-1zM1 5h1v1h-1zM23 6h1v1h-1zM30 6h1v1h-1zM36 6h1v1h-1zM41 6h1v1h-1z"/>
<path fill="#fcdccc" d="M16 0h1v1h-1zM33 0h1v1h-1zM70 2h1v1h-1zM75 2h1v1h-1zM78 2h2v1h-2zM53 3h2v1h-2zM48 4h1v1h-1zM66 4h1v1h-1zM37 5h1v1h-1zM61 6h1v1h-1zM28 7h1v1h-1zM33 7h1v1h-1zM30 8h1v1h-1zM73 8h1v1h-1z"/>
<path fill="#fcece4" d="M17 0h1v1h-1zM46 0h1v1h-1zM26 2h1v1h-1zM36 2h1v1h-1zM39 2h1v1h-1zM52 2h1v1h-1zM59 3h1v1h-1zM36 4h2v1h-2zM23 5h1v1h-1zM43 5h1v1h-1zM74 6h1v1h-1zM77 6h2v1h-2zM26 7h1v1h-1zM29 7h1v1h-1zM34 7h1v1h-1zM44 7h2v1h-2zM49 7h1v1h-1zM60 7h1v1h-1zM75 7h1v1h-1zM27 8h1v1h-1zM29 8h1v1h-1zM72 8h1v1h-1zM35 9h1v1h-1z"/>
<path fill="#dcd4ec" d="M19 0h1v1h-1zM32 0h1v1h-1zM70 6h1v1h-1zM22 9h1v1h-1zM44 9h1v1h-1z"/>
<path fill="#dccce4" d="M21 0h1v1h-1zM47 0h1v1h-1zM19 1h1v1h-1zM32 1h1v1h-1zM40 1h3v1h-3zM77 1h1v1h-1zM79 1h1v1h-1zM5 2h2v1h-2zM18 2h1v1h-1zM34 3h1v1h-1zM46 3h1v1h-1zM58 3h1v1h-1zM73 3h1v1h-1zM77 3h1v1h-1zM32 4h1v1h-1zM41 4h1v1h-1zM47 4h1v1h-1zM52 4h1v1h-1zM15 6h1v1h-1zM21 6h1v1h-1zM25 6h2v1h-2zM45 8h1v1h-1zM10 9h1v1h-1zM20 9h1v1h-1z"/>
<path fill="#d4c4e4" d="M22 0h1v1h-1zM41 0h1v1h-1zM52 0h1v1h-1zM23 1h1v1h-1zM27 1h1v1h-1zM37 1h2v1h-2zM56 1h1v1h-1zM71 1h1v1h-1zM76 1h1v1h-1zM8 2h1v1h-1zM10 2h1v1h-1zM19 2h1v1h-1zM22 2h1v1h-1zM76 3h1v1h-1zM24 4h1v1h-1zM28 4h1v1h-1zM40 4h1v1h-1zM3 5h1v1h-1zM13 5h1v1h-1zM55 5h1v1h-1zM18 6h1v1h-1zM39 6h1v1h-1zM44 6h1v1h-1zM46 6h1v1h-1zM51 6h3v1h-3zM37 8h1v1h-1zM18 9h1v1h-1zM55 9h1v1h-1zM78 9h1v1h-1z"/>
<path fill="#e4d4ec" d="M23 0h1v1h-1zM29 0h1v1h-1zM44 1h1v1h-1zM73 1h1v1h-1zM21 3h2v1h-2zM27 4h1v1h-1zM12 5h1v1h-1zM15 5h1v1h-1zM3 7h1v1h-1zM21 7h1v1h-1zM78 7h1v1h-1zM18 8h2v1h-2zM24 8h1v1h-1zM42 8h1v1h-1zM14 9h1v1h-1zM45 9h1v1h-1z"/>
<path fill="#e4dcec" d="M24 0h1v1h-1zM75 0h1v1h-1zM45 1h1v1h-1zM58 1h1v1h-1zM3 2h1v1h-1zM43 2h1v1h-1zM40 3h1v1h-1zM45 3h1v1h-1zM13 4h1v1h-1zM17 4h1v1h-1zM69 4h1v1h-1zM7 5h1v1h-1zM42 6h1v1h-1zM75 6h1v1h-1zM24 7h1v1h-1zM21 8h1v1h-1zM13 9h1v1h-1z"/>
<path fill="#f4ecf4" d="M25 0h1v1h-1zM38 0h1v1h-1zM44 0h1v1h-1zM58 0h1v1h-1zM16 1h1v1h-1zM24 1h1v1h-1zM28 1h1v1h-1zM30 1h1v1h-1zM21 2h1v1h-1zM32 2h1v1h-1zM45 2h1v1h-1zM33 3h1v1h-1zM37 3h1v1h-1zM78 3h1v1h-1zM16 4h1v1h-1zM53 4h2v1h-2zM73 4h1v1h-1zM24 5h1v1h-1zM31 5h1v1h-1zM47 5h1v1h-1zM28 6h1v1h-1zM35 6h1v1h-1zM50 6h1v1h-1zM28 8h1v1h-1zM34 8h1v1h-1zM46 8h1v1h-1zM27 9h1v1h-1zM33 9h1v1h-1zM40 9h1v1h-1z"/>
<path fill="#fcecec" d="M26 0h1v1h-1zM50 0h1v1h-1zM17 1h1v1h-1zM60 1h1v1h-1zM41 2h1v1h-1zM38 3h2v1h-2zM69 3h1v1h-1zM29 4h1v1h-1zM33 4h1v1h-1zM49 4h1v1h-1zM58 4h1v1h-1zM0 5h1v1h-1zM21 5h1v1h-1zM56 5h1v1h-1zM70 5h1v1h-1zM57 6h1v1h-1zM59 6h2v1h-2zM30 7h2v1h-2zM38 7h1v1h-1zM42 7h2v1h-2zM32 8h2v1h-2zM52 8h2v1h-2zM31 9h2v1h-2zM60 9h1v1h-1zM79 9h1v1h-1z"/>
<path fill="#fce4e4" d="M27 0h1v1h-1zM34 0h1v1h-1zM52 1h1v1h-1zM52 3h1v1h-1zM44 5h1v1h-1zM48 5h1v1h-1zM36 7h1v1h-1zM79 7h1v1h-1zM77 8h1v1h-1zM30 9h1v1h-1zM47 9h1v1h-1z"/>
<path fill="#ece4ec" d="M28 0h1v1h-1zM56 0h1v1h-1zM34 1h1v1h-1zM47 1h1v1h-1zM57 1h1v1h-1zM70 1h1v1h-1zM17 3h1v1h-1zM31 3h1v1h-1zM72 3h1v1h-1zM79 3h1v1h-1zM21 4h1v1h-1zM46 4h1v1h-1zM70 7h1v1h-1zM20 8h1v1h-1zM39 8h1v1h-1zM71 9h1v1h-1z"/>
<path fill="#fce4dc" d="M30 0h1v1h-1zM54 0h1v1h-1zM73 0h1v1h-1zM78 0h1v1h-1zM25 1h1v1h-1zM47 2h1v1h-1zM49 2h1v1h-1zM47 3h1v1h-1zM51 3h1v1h-1zM57 3h1v1h-1zM70 3h1v1h-1zM25 4h1v1h-1zM39 4h1v1h-1zM60 4h1v1h-1zM75 4h1v1h-1zM18 5h2v1h-2zM26 5h1v1h-1zM19 7h1v1h-1zM25 7h1v1h-1zM35 7h1v1h-1zM46 7h1v1h-1zM50 7h1v1h-1zM52 7h1v1h-1zM77 7h1v1h-1zM48 8h1v1h-1zM17 9h1v1h-1zM58 9h1v1h-1zM76 9h1v1h-1z"/>
<path fill="#ecdcec" d="M31 0h1v1h-1zM37 0h1v1h-1zM55 0h1v1h-1zM26 1h1v1h-1zM43 1h1v1h-1zM46 1h1v1h-1zM7 2h1v1h-1zM14 2h1v1h-1zM20 2h1v1h-1zM42 2h1v1h-1zM44 3h1v1h-1zM71 3h1v1h-1zM75 3h1v1h-1zM23 4h1v1h-1zM30 4h1v1h-1zM50 4h1v1h-1zM72 4h1v1h-1zM74 4h1v1h-1zM3 8h1v1h-1zM19 9h1v1h-1z"/>
<path fill="#fcccbc" d="M35 0h1v1h-1zM74 0h1v1h-1zM77 0h1v1h-1zM50 1h1v1h-1zM25 3h1v1h-1zM60 8h1v1h-1zM76 8h1v1h-1zM39 9h1v1h-1z"/>
<path fill="#fcf4f4" d="M36 0h1v1h-1zM39 0h1v1h-1zM59 0h1v1h-1zM29 1h1v1h-1zM36 1h1v1h-1zM75 1h1v1h-1zM30 3h1v1h-1zM42 3h1v1h-1zM31 4h1v1h-1zM44 4h1v1h-1zM59 4h1v1h-1zM20 5h1v1h-1zM22 5h1v1h-1zM16 6h2v1h-2zM41 7h1v1h-1zM47 8h1v1h-1zM50 8h1v1h-1zM43 9h1v1h-1zM59 9h1v1h-1z"/>
<path fill="#b494cc" d="M40 0h1v1h-1zM18 1h1v1h-1zM20 3h1v1h-1zM14 4h1v1h-1zM56 4h1v1h-1zM19 6h1v1h-1zM49 6h1v1h-1zM55 6h1v1h-1zM72 6h1v1h-1zM18 7h1v1h-1zM12 8h1v1h-1zM15 8h1v1h-1zM5 9h1v1h-1z"/>
<path fill="#f4f4f4" d="M42 0h1v1h-1zM69 0h1v1h-1zM56 2h1v1h-1zM50 3h1v1h-1zM60 3h1v1h-1zM51 4h1v1h-1zM58 7h1v1h-1zM49 8h1v1h-1zM42 9h1v1h-1zM72 9h1v1h-1z"/>
<path fill="#ece4f4" d="M45 0h1v1h-1zM71 0h1v1h-1zM31 1h1v1h-1zM33 1h1v1h-1zM49 1h1v1h-1zM32 3h1v1h-1zM36 3h1v1h-1zM26 4h1v1h-1zM76 4h1v1h-1zM79 4h1v1h-1zM34 6h1v1h-1zM54 6h1v1h-1zM21 9h1v1h-1z"/>
<path fill="#d4bce4" d="M48 0h1v1h-1zM23 2h1v1h-1zM45 4h1v1h-1zM6 5h1v1h-1zM78 8h1v1h-1z"/>
<path fill="#f4bca4" d="M49 0h1v1h-1zM61 0h1v1h-1zM62 1h1v1h-1zM35 2h1v1h-1zM60 2h1v1h-1zM74 2h1v1h-1zM28 3h2v1h-2zM64 3h1v1h-1zM67 3h2v1h-2zM61 4h1v1h-1zM16 5h1v1h-1zM35 5h1v1h-1zM64 6h1v1h-1zM66 6h1v1h-1zM35 8h1v1h-1zM58 8h1v1h-1zM63 8h1v1h-1zM53 9h1v1h-1zM69 9h1v1h-1z"/>
<path fill="#f4b49c" d="M51 0h1v1h-1zM67 1h1v1h-1zM28 2h1v1h-1zM69 2h1v1h-1zM41 5h1v1h-1zM58 5h1v1h-1zM74 5h1v1h-1zM77 5h1v1h-1zM53 7h1v1h-1zM69 8h2v1h-2z"/>
<path fill="#fcd4bc" d="M53 0h1v1h-1zM51 1h1v1h-1zM72 1h1v1h-1zM40 2h1v1h-1zM57 4h1v1h-1zM27 5h1v1h-1zM46 5h1v1h-1zM50 5h1v1h-1zM59 7h1v1h-1zM43 8h1v1h-1zM71 8h1v1h-1zM16 9h1v1h-1zM28 9h1v1h-1zM38 9h1v1h-1zM54 9h1v1h-1zM73 9h1v1h-1z"/>
<path fill="#f4c4a4" d="M57 0h1v1h-1zM63 0h1v1h-1zM54 1h1v1h-1zM72 5h1v1h-1zM54 7h1v1h-1zM76 7h1v1h-1zM74 9h1v1h-1z"/>
<path fill="#fcecf4" d="M60 0h1v1h-1zM35 3h1v1h-1zM40 5h1v1h-1zM29 6h1v1h-1z"/>
<path fill="#f49474" d="M62 0h1v1h-1zM63 2h1v1h-1zM29 5h1v1h-1zM32 5h1v1h-1zM67 5h1v1h-1zM65 8h2v1h-2z"/>
<path fill="#f4a484" d="M64 0h1v1h-1zM68 0h1v1h-1zM65 4h1v1h-1zM53 5h1v1h-1zM62 6h1v1h-1zM63 7h1v1h-1zM66 7h1v1h-1zM57 8h1v1h-1z"/>
<path fill="#ec8464" d="M65 0h1v1h-1zM63 4h1v1h-1zM54 5h1v1h-1zM57 9h1v1h-1zM68 9h1v1h-1z"/>
<path fill="#ec7454" d="M66 0h1v1h-1z"/>
<path fill="#fcdcc4" d="M67 0h1v1h-1zM49 9h1v1h-1z"/>
<path fill="#fcccb4" d="M70 0h1v1h-1zM64 1h1v1h-1zM66 1h1v1h-1zM25 2h1v1h-1zM46 2h1v1h-1zM58 2h1v1h-1zM63 3h1v1h-1zM77 4h1v1h-1zM45 5h1v1h-1zM57 5h1v1h-1zM79 5h1v1h-1zM27 7h1v1h-1zM37 7h1v1h-1zM51 7h1v1h-1zM57 7h1v1h-1zM69 7h1v1h-1zM73 7h1v1h-1zM36 8h1v1h-1zM54 8h1v1h-1zM67 8h1v1h-1zM46 9h1v1h-1zM48 9h1v1h-1zM50 9h1v1h-1zM70 9h1v1h-1zM75 9h1v1h-1z"/>
<path fill="#fcc4ac" d="M72 0h1v1h-1zM61 1h1v1h-1zM30 2h1v1h-1zM33 2h1v1h-1zM48 2h1v1h-1zM62 3h1v1h-1zM65 3h2v1h-2zM30 5h1v1h-1zM33 5h1v1h-1zM49 5h1v1h-1zM75 5h2v1h-2zM48 7h1v1h-1zM72 7h1v1h-1zM25 8h2v1h-2zM31 8h1v1h-1zM38 8h1v1h-1zM36 9h1v1h-1zM51 9h2v1h-2z"/>
<path fill="#f4e4f4" d="M76 0h1v1h-1zM69 6h1v1h-1z"/>
<path fill="#ccb4dc" d="M79 0h1v1h-1zM22 1h1v1h-1zM48 1h1v1h-1zM49 3h1v1h-1zM34 4h2v1h-2zM55 4h1v1h-1zM10 5h2v1h-2zM24 6h1v1h-1zM27 6h1v1h-1zM58 6h1v1h-1zM10 7h1v1h-1zM12 7h1v1h-1zM14 8h1v1h-1z"/>
<path fill="#845cac" d="M0 1h1v1h-1zM1 4h1v1h-1z"/>
<path fill="#9c7cbc" d="M2 1h1v1h-1zM15 1h1v1h-1zM19 3h1v1h-1zM55 3h2v1h-2zM3 6h1v1h-1zM5 6h1v1h-1zM13 6h1v1h-1zM45 6h1v1h-1zM6 7h1v1h-1zM22 7h1v1h-1zM22 8h1v1h-1zM56 8h1v1h-1zM23 9h1v1h-1z"/>
<path fill="#ac94cc" d="M12 1h1v1h-1zM2 2h1v1h-1zM24 2h1v1h-1zM18 4h1v1h-1z"/>
<path fill="#a48cc4" d="M14 1h1v1h-1zM20 1h1v1h-1zM22 4h1v1h-1zM38 4h1v1h-1zM40 6h1v1h-1z"/>
<path fill="#fcdcd4" d="M35 1h1v1h-1zM39 1h1v1h-1zM78 1h1v1h-1zM16 2h1v1h-1zM27 2h1v1h-1zM77 2h1v1h-1zM70 4h1v1h-1zM78 4h1v1h-1zM14 5h1v1h-1zM33 6h1v1h-1zM17 7h1v1h-1zM17 8h1v1h-1zM51 8h1v1h-1zM75 8h1v1h-1z"/>
<path fill="#fcd4c4" d="M53 1h1v1h-1zM59 1h1v1h-1zM37 2h1v1h-1zM50 2h2v1h-2zM71 2h1v1h-1zM16 3h1v1h-1zM16 7h1v1h-1zM32 7h1v1h-1zM71 7h1v1h-1zM74 8h1v1h-1zM25 9h1v1h-1zM34 9h1v1h-1zM37 9h1v1h-1z"/>
<path fill="#ec8c6c" d="M63 1h1v1h-1zM28 5h1v1h-1zM42 5h1v1h-1zM68 6h1v1h-1zM62 7h1v1h-1zM62 8h1v1h-1z"/>
<path fill="#f4b494" d="M65 1h1v1h-1zM29 2h1v1h-1zM59 2h1v1h-1zM67 4h1v1h-1zM64 7h1v1h-1zM29 9h1v1h-1z"/>
<path fill="#e4543c" d="M68 1h1v1h-1zM62 2h1v1h-1zM66 2h1v1h-1zM68 2h1v1h-1zM68 4h1v1h-1zM62 5h3v1h-3zM68 5h1v1h-1z"/>
<path fill="#f4bc9c" d="M69 1h1v1h-1zM54 2h1v1h-1zM73 2h1v1h-1zM25 5h1v1h-1zM60 5h1v1h-1zM77 9h1v1h-1z"/>
<path fill="#c4b4dc" d="M74 1h1v1h-1zM23 3h1v1h-1zM47 6h1v1h-1zM79 6h1v1h-1zM40 7h1v1h-1zM55 7h1v1h-1zM9 8h1v1h-1zM15 9h1v1h-1z"/>
<path fill="#b49ccc" d="M9 2h1v1h-1zM13 2h1v1h-1zM42 4h2v1h-2zM32 6h1v1h-1zM11 7h1v1h-1zM15 7h1v1h-1zM4 8h2v1h-2zM4 9h1v1h-1zM6 9h2v1h-2z"/>
<path fill="#a484bc" d="M12 2h1v1h-1zM6 6h1v1h-1zM5 7h1v1h-1z"/>
<path fill="#fce4d4" d="M17 2h1v1h-1zM38 2h1v1h-1zM76 2h1v1h-1zM71 4h1v1h-1zM63 6h1v1h-1zM67 6h1v1h-1zM39 7h1v1h-1zM47 7h1v1h-1zM74 7h1v1h-1zM16 8h1v1h-1zM26 9h1v1h-1z"/>
<path fill="#f4ac94" d="M31 2h1v1h-1zM34 2h1v1h-1zM72 2h1v1h-1zM52 5h1v1h-1zM66 9h1v1h-1z"/>
<path fill="#f4ac8c" d="M44 2h1v1h-1zM61 3h1v1h-1zM17 5h1v1h-1zM39 5h1v1h-1zM71 5h1v1h-1zM73 5h1v1h-1zM44 8h1v1h-1zM59 8h1v1h-1zM61 8h1v1h-1z"/>
<path fill="#e46c4c" d="M53 2h1v1h-1zM66 5h1v1h-1z"/>
<path fill="#ccbcdc" d="M55 2h1v1h-1zM24 3h1v1h-1zM31 6h1v1h-1zM38 6h1v1h-1zM23 7h1v1h-1zM40 8h2v1h-2zM79 8h1v1h-1zM41 9h1v1h-1z"/>
<path fill="#f4a48c" d="M57 2h1v1h-1z"/>
<path fill="#ec6c54" d="M61 2h1v1h-1zM62 4h1v1h-1z"/>
<path fill="#ec7c64" d="M64 2h1v1h-1zM61 9h1v1h-1z"/>
<path fill="#ec8c74" d="M65 2h1v1h-1zM64 9h2v1h-2zM67 9h1v1h-1z"/>
<path fill="#ec7c5c" d="M67 2h1v1h-1zM34 5h1v1h-1zM61 5h1v1h-1zM64 8h1v1h-1zM68 8h1v1h-1z"/>
<path fill="#6c449c" d="M0 3h1v1h-1zM0 6h1v1h-1zM10 6h1v1h-1z"/>
<path fill="#7c54a4" d="M2 3h1v1h-1zM8 6h1v1h-1zM11 6h2v1h-2z"/>
<path fill="#7c5ca4" d="M5 3h1v1h-1z"/>
<path fill="#74449c" d="M6 3h1v1h-1z"/>
<path fill="#bc9ccc" d="M10 3h1v1h-1z"/>
<path fill="#8c6cb4" d="M43 3h1v1h-1zM1 6h2v1h-2zM9 6h1v1h-1zM56 6h1v1h-1zM4 7h1v1h-1zM2 8h1v1h-1zM7 8h1v1h-1zM0 9h2v1h-2z"/>
<path fill="#c4acdc" d="M48 3h1v1h-1zM76 6h1v1h-1zM24 9h1v1h-1zM56 9h1v1h-1z"/>
<path fill="#dcc4e4" d="M74 3h1v1h-1zM13 7h1v1h-1zM20 7h1v1h-1zM3 9h1v1h-1z"/>
<path fill="#845ca4" d="M0 4h1v1h-1zM1 7h1v1h-1z"/>
<path fill="#ac8ccc" d="M9 4h1v1h-1zM71 6h1v1h-1z"/>
<path fill="#f49c7c" d="M64 4h1v1h-1zM38 5h1v1h-1zM59 5h1v1h-1zM61 7h1v1h-1z"/>
<path fill="#f49c84" d="M36 5h1v1h-1zM78 5h1v1h-1zM65 6h1v1h-1zM65 7h1v1h-1zM67 7h1v1h-1z"/>
<path fill="#ec9474" d="M51 5h1v1h-1zM62 9h2v1h-2z"/>
<path fill="#e4644c" d="M65 5h1v1h-1z"/>
<path fill="#ec846c" d="M69 5h1v1h-1z"/>
<path fill="#8c64b4" d="M7 6h1v1h-1z"/>
<path fill="#bc9cd4" d="M22 6h1v1h-1zM37 6h1v1h-1zM56 7h1v1h-1zM12 9h1v1h-1z"/>
<path fill="#dcd4e4" d="M14 7h1v1h-1z"/>
<path fill="#e46c54" d="M68 7h1v1h-1z"/>
</g>
<g transform="translate(37.2 234) scale(2.6200 0.9500)">
<path fill="#f4c4a4" d="M0 0h1v1h-1zM57 7h1v1h-1zM73 9h1v1h-1z"/>
<path fill="#dccce4" d="M1 0h1v1h-1zM43 0h1v1h-1zM11 1h1v1h-1zM21 1h1v1h-1zM28 1h1v1h-1zM45 1h1v1h-1zM62 1h1v1h-1zM28 2h1v1h-1zM44 2h1v1h-1zM17 3h1v1h-1zM44 3h1v1h-1zM48 3h1v1h-1zM0 5h1v1h-1zM20 5h1v1h-1zM4 6h1v1h-1zM9 6h1v1h-1zM11 7h1v1h-1zM26 7h1v1h-1zM44 7h1v1h-1zM4 8h1v1h-1zM28 8h1v1h-1zM57 8h1v1h-1zM5 9h1v1h-1zM47 9h1v1h-1z"/>
<path fill="#f4bca4" d="M2 0h1v1h-1zM21 0h1v1h-1zM55 0h1v1h-1zM68 0h1v1h-1zM53 2h1v1h-1zM56 2h1v1h-1zM71 2h1v1h-1zM73 2h2v1h-2zM19 3h1v1h-1zM60 3h1v1h-1zM62 3h1v1h-1zM77 3h1v1h-1zM59 4h1v1h-1zM34 5h1v1h-1zM39 5h1v1h-1zM54 5h1v1h-1zM73 5h1v1h-1zM79 7h1v1h-1zM39 8h1v1h-1zM60 8h1v1h-1zM28 9h1v1h-1zM35 9h1v1h-1zM72 9h1v1h-1z"/>
<path fill="#ac8ccc" d="M3 0h1v1h-1zM14 0h1v1h-1zM22 2h1v1h-1zM14 4h1v1h-1z"/>
<path fill="#9474b4" d="M4 0h1v1h-1zM0 3h1v1h-1zM3 5h1v1h-1zM10 8h1v1h-1zM27 8h1v1h-1z"/>
<path fill="#9c7cbc" d="M5 0h1v1h-1zM50 0h1v1h-1zM15 1h1v1h-1zM43 1h1v1h-1zM3 2h1v1h-1zM24 2h1v1h-1zM26 3h1v1h-1zM6 4h1v1h-1zM49 5h1v1h-1zM49 6h1v1h-1zM42 7h1v1h-1zM6 8h1v1h-1zM13 8h1v1h-1z"/>
<path fill="#fcecec" d="M6 0h1v1h-1zM32 0h1v1h-1zM61 0h1v1h-1zM16 1h1v1h-1zM54 1h1v1h-1zM10 2h1v1h-1zM66 2h1v1h-1zM76 2h1v1h-1zM76 3h1v1h-1zM2 5h1v1h-1zM40 5h1v1h-1zM62 5h1v1h-1zM74 5h1v1h-1zM12 6h1v1h-1zM17 6h1v1h-1zM59 6h1v1h-1zM8 7h2v1h-2zM16 7h1v1h-1zM37 7h1v1h-1zM49 7h1v1h-1zM19 8h1v1h-1zM40 8h1v1h-1zM77 8h1v1h-1zM44 9h1v1h-1zM49 9h1v1h-1z"/>
<path fill="#d4c4e4" d="M7 0h1v1h-1zM45 0h1v1h-1zM56 0h1v1h-1zM17 1h2v1h-2zM39 1h1v1h-1zM41 1h1v1h-1zM75 1h1v1h-1zM16 2h1v1h-1zM45 2h1v1h-1zM6 3h1v1h-1zM45 3h1v1h-1zM8 4h1v1h-1zM11 5h2v1h-2zM19 5h1v1h-1zM77 5h1v1h-1zM11 6h1v1h-1zM42 6h2v1h-2zM47 6h1v1h-1zM22 7h1v1h-1zM61 8h1v1h-1zM25 9h1v1h-1z"/>
<path fill="#e4d4ec" d="M8 0h1v1h-1zM30 1h2v1h-2zM58 1h2v1h-2zM63 1h1v1h-1zM15 2h1v1h-1zM48 2h1v1h-1zM7 3h1v1h-1zM13 3h1v1h-1zM16 3h1v1h-1zM23 3h1v1h-1zM9 4h1v1h-1zM16 4h1v1h-1zM53 4h1v1h-1zM10 5h1v1h-1zM15 5h1v1h-1zM31 6h1v1h-1zM44 6h1v1h-1zM47 7h1v1h-1zM36 8h1v1h-1zM58 8h1v1h-1zM30 9h1v1h-1zM54 9h1v1h-1z"/>
<path fill="#fce4e4" d="M9 0h1v1h-1zM1 1h1v1h-1zM29 3h1v1h-1zM58 3h2v1h-2zM24 7h1v1h-1zM66 7h1v1h-1z"/>
<path fill="#7c54a4" d="M10 0h1v1h-1zM23 0h1v1h-1zM22 3h1v1h-1z"/>
<path fill="#ac94cc" d="M11 0h2v1h-2zM24 1h1v1h-1zM3 6h1v1h-1zM15 8h1v1h-1zM44 8h1v1h-1z"/>
<path fill="#8464ac" d="M13 0h1v1h-1zM26 5h1v1h-1z"/>
<path fill="#ccbcdc" d="M15 0h1v1h-1zM29 1h1v1h-1zM11 2h1v1h-1zM43 4h1v1h-1zM14 6h1v1h-1zM24 6h1v1h-1zM13 7h1v1h-1zM11 8h1v1h-1zM17 8h1v1h-1zM48 8h1v1h-1z"/>
<path fill="#f4ecf4" d="M16 0h1v1h-1zM20 0h1v1h-1zM70 0h1v1h-1zM75 0h1v1h-1zM12 1h1v1h-1zM5 2h1v1h-1zM41 2h1v1h-1zM57 2h1v1h-1zM61 2h1v1h-1zM2 3h1v1h-1zM5 3h1v1h-1zM20 3h2v1h-2zM72 3h1v1h-1zM50 4h1v1h-1zM57 4h1v1h-1zM21 5h1v1h-1zM31 5h1v1h-1zM53 5h1v1h-1zM55 5h1v1h-1zM66 5h1v1h-1zM72 5h1v1h-1zM16 6h1v1h-1zM0 7h1v1h-1zM19 7h1v1h-1zM56 7h1v1h-1zM59 7h1v1h-1zM2 8h1v1h-1zM37 8h1v1h-1z"/>
<path fill="#f4e4f4" d="M17 0h1v1h-1zM15 3h1v1h-1zM56 8h1v1h-1z"/>
<path fill="#ac8cc4" d="M18 0h1v1h-1zM27 1h1v1h-1zM14 2h1v1h-1zM23 2h1v1h-1zM47 3h1v1h-1zM11 4h1v1h-1zM19 4h1v1h-1zM13 5h1v1h-1zM24 5h1v1h-1zM22 6h1v1h-1zM50 6h1v1h-1zM27 7h1v1h-1zM22 8h1v1h-1zM47 8h1v1h-1z"/>
<path fill="#ecdcec" d="M19 0h1v1h-1zM34 0h1v1h-1zM79 1h1v1h-1zM6 2h1v1h-1zM46 2h1v1h-1zM17 7h1v1h-1zM43 7h1v1h-1zM66 8h1v1h-1zM71 8h1v1h-1z"/>
<path fill="#b494cc" d="M22 0h1v1h-1zM53 1h1v1h-1zM13 2h1v1h-1zM49 2h1v1h-1zM43 3h1v1h-1zM10 4h1v1h-1zM47 4h1v1h-1zM26 6h1v1h-1zM46 6h1v1h-1zM3 7h1v1h-1zM7 7h1v1h-1zM8 8h1v1h-1z"/>
<path fill="#6c449c" d="M24 0h1v1h-1zM26 0h1v1h-1zM47 0h1v1h-1zM4 1h1v1h-1zM22 1h2v1h-2zM42 1h1v1h-1zM50 1h1v1h-1zM3 4h1v1h-1zM27 6h1v1h-1zM42 8h1v1h-1z"/>
<path fill="#ece4ec" d="M25 0h1v1h-1zM58 0h1v1h-1zM73 0h1v1h-1zM51 1h1v1h-1zM51 3h1v1h-1zM53 3h1v1h-1zM55 3h1v1h-1zM66 4h1v1h-1zM14 5h1v1h-1zM16 5h1v1h-1zM46 5h1v1h-1zM48 5h1v1h-1zM51 5h1v1h-1zM45 6h1v1h-1zM14 7h1v1h-1z"/>
<path fill="#8c64b4" d="M27 0h1v1h-1z"/>
<path fill="#ece4f4" d="M28 0h1v1h-1zM2 1h1v1h-1zM20 1h1v1h-1zM52 1h1v1h-1zM61 3h1v1h-1zM48 4h1v1h-1zM7 5h1v1h-1zM12 7h1v1h-1zM35 7h1v1h-1zM48 7h1v1h-1zM9 9h1v1h-1z"/>
<path fill="#f4f4f4" d="M29 0h1v1h-1zM38 1h1v1h-1zM61 1h1v1h-1zM28 3h1v1h-1zM32 4h1v1h-1zM6 6h1v1h-1zM62 8h1v1h-1zM41 9h1v1h-1z"/>
<path fill="#fcdccc" d="M30 0h1v1h-1zM36 1h1v1h-1zM69 1h1v1h-1zM76 1h1v1h-1zM78 1h1v1h-1zM8 2h1v1h-1zM35 3h1v1h-1zM78 3h1v1h-1zM70 4h1v1h-1zM72 4h1v1h-1zM74 4h1v1h-1zM78 4h1v1h-1zM18 5h1v1h-1zM61 5h1v1h-1zM39 6h1v1h-1zM63 6h1v1h-1zM70 7h1v1h-1zM30 8h1v1h-1zM19 9h2v1h-2zM46 9h1v1h-1zM58 9h1v1h-1z"/>
<path fill="#c4acd4" d="M31 0h1v1h-1zM9 1h1v1h-1zM49 1h1v1h-1zM67 1h1v1h-1zM19 2h1v1h-1zM6 7h1v1h-1zM13 9h1v1h-1zM22 9h1v1h-1zM45 9h1v1h-1z"/>
<path fill="#fcccb4" d="M33 0h1v1h-1zM76 0h1v1h-1zM0 1h1v1h-1zM6 1h1v1h-1zM35 1h1v1h-1zM79 2h1v1h-1zM31 3h1v1h-1zM66 3h1v1h-1zM55 4h1v1h-1zM63 4h1v1h-1zM64 5h1v1h-1zM69 5h1v1h-1zM19 6h1v1h-1zM29 6h1v1h-1zM41 7h1v1h-1zM77 7h1v1h-1zM0 8h1v1h-1zM33 8h1v1h-1zM0 9h1v1h-1zM29 9h1v1h-1zM31 9h1v1h-1zM53 9h1v1h-1zM62 9h1v1h-1zM70 9h1v1h-1zM79 9h1v1h-1z"/>
<path fill="#fce4dc" d="M35 0h1v1h-1zM41 0h1v1h-1zM62 0h1v1h-1zM71 0h1v1h-1zM37 1h1v1h-1zM77 1h1v1h-1zM20 2h1v1h-1zM42 2h1v1h-1zM60 2h1v1h-1zM30 3h1v1h-1zM1 4h1v1h-1zM37 4h1v1h-1zM52 4h1v1h-1zM8 5h1v1h-1zM59 5h1v1h-1zM33 6h1v1h-1zM36 6h1v1h-1zM79 8h1v1h-1zM67 9h1v1h-1z"/>
<path fill="#f49c7c" d="M36 0h1v1h-1zM36 2h1v1h-1zM58 2h1v1h-1zM63 2h1v1h-1zM54 3h1v1h-1zM63 3h1v1h-1zM65 3h1v1h-1zM35 5h1v1h-1zM71 6h1v1h-1zM73 6h1v1h-1zM78 6h1v1h-1zM51 7h1v1h-1zM75 8h1v1h-1zM38 9h1v1h-1zM68 9h1v1h-1zM71 9h1v1h-1zM75 9h1v1h-1zM78 9h1v1h-1z"/>
<path fill="#fcc4a4" d="M37 0h1v1h-1zM21 7h1v1h-1z"/>
<path fill="#fcd4c4" d="M38 0h1v1h-1zM74 0h1v1h-1zM32 1h1v1h-1zM68 1h1v1h-1zM30 2h1v1h-1zM18 3h1v1h-1zM77 4h1v1h-1zM1 5h1v1h-1zM15 6h1v1h-1zM32 7h1v1h-1zM69 7h1v1h-1zM55 8h1v1h-1zM59 8h1v1h-1zM70 8h1v1h-1zM73 8h1v1h-1zM8 9h1v1h-1zM43 9h1v1h-1zM52 9h1v1h-1zM66 9h1v1h-1z"/>
<path fill="#fcece4" d="M39 0h1v1h-1zM63 0h1v1h-1zM67 0h1v1h-1zM19 1h1v1h-1zM65 1h1v1h-1zM79 3h1v1h-1zM21 4h1v1h-1zM30 4h1v1h-1zM17 5h1v1h-1zM63 5h1v1h-1zM18 6h1v1h-1zM15 7h1v1h-1zM68 7h1v1h-1zM31 8h1v1h-1z"/>
<path fill="#fcd4bc" d="M40 0h1v1h-1zM57 0h1v1h-1zM77 0h1v1h-1zM60 1h1v1h-1zM18 2h1v1h-1zM51 2h1v1h-1zM70 2h1v1h-1zM71 3h1v1h-1zM17 4h1v1h-1zM67 4h1v1h-1zM30 5h1v1h-1zM32 5h1v1h-1zM20 6h1v1h-1zM56 6h1v1h-1zM61 6h1v1h-1zM74 6h1v1h-1zM29 7h1v1h-1zM31 7h1v1h-1zM63 8h1v1h-1zM72 8h1v1h-1zM50 9h1v1h-1z"/>
<path fill="#845cac" d="M42 0h1v1h-1zM48 0h1v1h-1zM13 1h1v1h-1zM26 1h1v1h-1zM50 5h1v1h-1zM26 8h1v1h-1z"/>
<path fill="#8c64ac" d="M44 0h1v1h-1zM25 4h1v1h-1zM46 4h1v1h-1zM3 8h1v1h-1zM12 9h1v1h-1z"/>
<path fill="#a484c4" d="M46 0h1v1h-1zM7 1h2v1h-2zM25 1h1v1h-1zM26 2h1v1h-1zM50 2h1v1h-1zM46 3h1v1h-1zM50 3h1v1h-1zM20 4h1v1h-1zM25 5h1v1h-1zM42 5h1v1h-1zM10 6h1v1h-1zM48 6h1v1h-1zM46 7h1v1h-1zM49 8h1v1h-1zM24 9h1v1h-1z"/>
<path fill="#b49ccc" d="M49 0h1v1h-1zM14 1h1v1h-1zM7 2h1v1h-1zM25 2h1v1h-1zM11 3h1v1h-1zM13 4h1v1h-1zM22 4h2v1h-2zM6 5h1v1h-1zM23 5h1v1h-1zM5 8h1v1h-1zM20 8h1v1h-1z"/>
<path fill="#fcc4ac" d="M51 0h1v1h-1zM54 0h1v1h-1zM66 0h1v1h-1zM34 1h1v1h-1zM55 1h1v1h-1zM66 1h1v1h-1zM72 1h1v1h-1zM21 2h1v1h-1zM72 2h1v1h-1zM37 3h1v1h-1zM39 3h1v1h-1zM2 4h1v1h-1zM29 4h1v1h-1zM33 4h1v1h-1zM35 4h1v1h-1zM51 4h1v1h-1zM33 5h1v1h-1zM0 6h1v1h-1zM55 6h1v1h-1zM57 6h1v1h-1zM62 6h1v1h-1zM38 7h1v1h-1zM55 7h1v1h-1zM74 7h1v1h-1zM69 8h1v1h-1zM11 9h1v1h-1zM40 9h1v1h-1zM57 9h1v1h-1z"/>
<path fill="#f4a48c" d="M52 0h1v1h-1zM67 6h1v1h-1zM64 7h1v1h-1z"/>
<path fill="#f4ac94" d="M53 0h1v1h-1zM69 0h1v1h-1zM62 2h1v1h-1zM76 4h1v1h-1zM64 8h1v1h-1zM68 8h1v1h-1zM2 9h1v1h-1zM34 9h1v1h-1z"/>
<path fill="#fcecf4" d="M59 0h1v1h-1z"/>
<path fill="#c4b4dc" d="M60 0h1v1h-1zM64 1h1v1h-1zM14 3h1v1h-1zM49 3h1v1h-1zM4 4h1v1h-1zM10 7h1v1h-1zM3 9h1v1h-1zM42 9h1v1h-1z"/>
<path fill="#e4dcec" d="M64 0h1v1h-1zM29 2h1v1h-1zM4 3h1v1h-1zM10 3h1v1h-1zM73 4h1v1h-1zM8 6h1v1h-1zM20 7h1v1h-1zM51 8h1v1h-1z"/>
<path fill="#f4ac8c" d="M65 0h1v1h-1zM52 2h1v1h-1zM55 2h1v1h-1zM40 3h1v1h-1zM56 3h1v1h-1zM58 4h1v1h-1zM60 4h1v1h-1zM65 4h1v1h-1zM68 5h1v1h-1zM79 5h1v1h-1zM1 7h1v1h-1zM33 7h1v1h-1zM61 7h1v1h-1zM18 9h1v1h-1z"/>
<path fill="#ccb4dc" d="M72 0h1v1h-1zM27 3h1v1h-1zM15 4h1v1h-1zM9 5h1v1h-1zM27 5h1v1h-1zM23 6h1v1h-1zM9 8h1v1h-1zM12 8h1v1h-1zM50 8h1v1h-1zM7 9h1v1h-1z"/>
<path fill="#c4acdc" d="M78 0h1v1h-1zM21 8h1v1h-1zM43 8h1v1h-1zM26 9h1v1h-1z"/>
<path fill="#fcf4f4" d="M79 0h1v1h-1zM48 1h1v1h-1zM56 1h1v1h-1zM9 2h1v1h-1zM31 2h1v1h-1zM43 2h1v1h-1zM31 4h1v1h-1zM71 4h1v1h-1zM28 5h1v1h-1zM38 5h1v1h-1zM41 5h1v1h-1zM30 6h1v1h-1zM50 7h1v1h-1zM60 7h1v1h-1zM7 8h1v1h-1zM53 8h2v1h-2zM6 9h1v1h-1z"/>
<path fill="#845ca4" d="M3 1h1v1h-1zM24 3h1v1h-1zM25 6h1v1h-1z"/>
<path fill="#7c5ca4" d="M5 1h1v1h-1zM23 9h1v1h-1z"/>
<path fill="#744c9c" d="M10 1h1v1h-1zM44 1h1v1h-1zM26 4h1v1h-1zM4 7h1v1h-1z"/>
<path fill="#ec6c54" d="M33 1h1v1h-1zM36 7h1v1h-1zM72 7h1v1h-1zM36 9h1v1h-1z"/>
<path fill="#fce4d4" d="M40 1h1v1h-1zM1 3h1v1h-1zM38 3h1v1h-1zM64 4h1v1h-1zM2 7h1v1h-1zM28 7h1v1h-1zM30 7h1v1h-1zM34 8h1v1h-1z"/>
<path fill="#dcc4e4" d="M46 1h1v1h-1zM14 9h1v1h-1z"/>
<path fill="#946cb4" d="M47 1h1v1h-1zM25 3h1v1h-1zM42 3h1v1h-1zM5 4h1v1h-1zM5 5h1v1h-1zM23 7h1v1h-1zM25 8h1v1h-1zM45 8h1v1h-1z"/>
<path fill="#bca4d4" d="M57 1h1v1h-1zM47 2h1v1h-1zM9 3h1v1h-1zM12 4h1v1h-1zM27 4h1v1h-1zM44 4h1v1h-1zM43 5h1v1h-1zM47 5h1v1h-1zM45 7h1v1h-1zM53 7h1v1h-1zM1 8h1v1h-1zM10 9h1v1h-1zM48 9h1v1h-1z"/>
<path fill="#f4bc9c" d="M70 1h1v1h-1zM39 2h1v1h-1zM75 2h1v1h-1zM34 3h1v1h-1zM56 5h1v1h-1zM76 5h1v1h-1zM28 6h1v1h-1zM35 6h1v1h-1zM51 6h1v1h-1zM64 6h1v1h-1zM55 9h1v1h-1zM64 9h1v1h-1z"/>
<path fill="#dcd4ec" d="M71 1h1v1h-1zM28 4h1v1h-1zM46 8h1v1h-1z"/>
<path fill="#f4a484" d="M73 1h1v1h-1zM2 2h1v1h-1zM17 2h1v1h-1zM54 2h1v1h-1zM33 3h1v1h-1zM41 3h1v1h-1zM67 3h1v1h-1zM29 5h1v1h-1zM36 5h1v1h-1zM52 5h1v1h-1zM1 6h1v1h-1zM52 6h1v1h-1zM67 7h1v1h-1zM65 8h1v1h-1zM59 9h1v1h-1z"/>
<path fill="#ec8c6c" d="M74 1h1v1h-1zM35 2h1v1h-1zM75 3h1v1h-1zM38 4h1v1h-1zM54 6h1v1h-1zM32 8h1v1h-1zM37 9h1v1h-1z"/>
<path fill="#f4b49c" d="M0 2h1v1h-1zM33 2h1v1h-1zM38 2h1v1h-1zM78 2h1v1h-1zM32 3h1v1h-1zM64 3h1v1h-1zM70 3h1v1h-1zM74 3h1v1h-1zM41 4h1v1h-1zM62 4h1v1h-1zM58 5h1v1h-1zM32 6h1v1h-1zM53 6h1v1h-1zM58 6h1v1h-1zM66 6h1v1h-1zM79 6h1v1h-1zM73 7h1v1h-1zM16 9h1v1h-1z"/>
<path fill="#e4644c" d="M1 2h1v1h-1zM65 2h1v1h-1zM63 9h1v1h-1z"/>
<path fill="#a484bc" d="M4 2h1v1h-1z"/>
<path fill="#fcdcd4" d="M12 2h1v1h-1zM34 2h1v1h-1zM12 3h1v1h-1zM0 4h1v1h-1zM56 4h1v1h-1zM61 4h1v1h-1zM75 5h1v1h-1zM5 6h1v1h-1zM21 6h1v1h-1zM18 8h1v1h-1zM67 8h1v1h-1zM15 9h1v1h-1zM51 9h1v1h-1z"/>
<path fill="#bc9cd4" d="M27 2h1v1h-1zM13 6h1v1h-1z"/>
<path fill="#f4947c" d="M32 2h1v1h-1zM34 4h1v1h-1zM69 4h1v1h-1zM34 6h1v1h-1z"/>
<path fill="#ec8464" d="M37 2h1v1h-1zM40 4h1v1h-1zM70 6h1v1h-1zM39 7h1v1h-1zM63 7h1v1h-1zM33 9h1v1h-1zM76 9h1v1h-1z"/>
<path fill="#ec745c" d="M40 2h1v1h-1zM37 5h1v1h-1zM38 6h1v1h-1zM76 7h1v1h-1zM1 9h1v1h-1zM77 9h1v1h-1z"/>
<path fill="#e45c44" d="M59 2h1v1h-1zM34 7h1v1h-1zM78 7h1v1h-1z"/>
<path fill="#ec8c74" d="M64 2h1v1h-1zM68 6h1v1h-1zM17 9h1v1h-1zM61 9h1v1h-1zM65 9h1v1h-1z"/>
<path fill="#f4b494" d="M67 2h1v1h-1zM77 2h1v1h-1zM54 4h1v1h-1zM68 4h1v1h-1zM60 5h1v1h-1zM78 5h1v1h-1zM40 6h1v1h-1zM40 7h1v1h-1zM65 7h1v1h-1zM41 8h1v1h-1zM21 9h1v1h-1zM39 9h1v1h-1zM74 9h1v1h-1z"/>
<path fill="#f49c84" d="M68 2h1v1h-1zM57 3h1v1h-1zM70 5h1v1h-1zM37 6h1v1h-1zM58 7h1v1h-1zM76 8h1v1h-1z"/>
<path fill="#ec7c5c" d="M69 2h1v1h-1zM36 3h1v1h-1zM79 4h1v1h-1zM52 7h1v1h-1zM32 9h1v1h-1z"/>
<path fill="#9c74bc" d="M3 3h1v1h-1zM42 4h1v1h-1zM22 5h1v1h-1z"/>
<path fill="#f49474" d="M8 3h1v1h-1zM36 4h1v1h-1zM71 5h1v1h-1zM2 6h1v1h-1zM65 6h1v1h-1zM69 6h1v1h-1zM18 7h1v1h-1zM56 9h1v1h-1z"/>
<path fill="#ec7c64" d="M52 3h1v1h-1zM72 6h1v1h-1zM76 6h2v1h-2z"/>
<path fill="#fcdcc4" d="M68 3h1v1h-1zM57 5h1v1h-1zM65 5h1v1h-1zM60 6h1v1h-1zM5 7h1v1h-1zM62 7h1v1h-1zM29 8h1v1h-1zM74 8h1v1h-1zM60 9h1v1h-1z"/>
<path fill="#ec7454" d="M69 3h1v1h-1zM41 6h1v1h-1zM54 7h1v1h-1zM71 7h1v1h-1z"/>
<path fill="#fcccbc" d="M73 3h1v1h-1zM67 5h1v1h-1zM52 8h1v1h-1zM78 8h1v1h-1z"/>
<path fill="#dcd4e4" d="M7 4h1v1h-1z"/>
<path fill="#d4bce4" d="M18 4h1v1h-1zM49 4h1v1h-1zM38 8h1v1h-1z"/>
<path fill="#8c6cb4" d="M24 4h1v1h-1zM4 5h1v1h-1zM45 5h1v1h-1zM24 8h1v1h-1zM27 9h1v1h-1z"/>
<path fill="#e4543c" d="M39 4h1v1h-1zM75 4h1v1h-1zM75 6h1v1h-1zM35 8h1v1h-1z"/>
<path fill="#d4bcdc" d="M45 4h1v1h-1zM16 8h1v1h-1zM23 8h1v1h-1z"/>
<path fill="#a48cc4" d="M44 5h1v1h-1zM14 8h1v1h-1zM4 9h1v1h-1z"/>
<path fill="#9474bc" d="M7 6h1v1h-1z"/>
<path fill="#74449c" d="M25 7h1v1h-1z"/>
<path fill="#ec9474" d="M75 7h1v1h-1zM69 9h1v1h-1z"/>
</g>
<g transform="translate(37.2 244.8) scale(2.6200 1.1250)">
<path fill="#d4c4e4" d="M0 0h1v1h-1zM22 0h1v1h-1zM53 0h1v1h-1zM76 0h1v1h-1zM20 1h1v1h-1zM27 1h1v1h-1zM31 1h1v1h-1zM64 1h1v1h-1zM44 2h1v1h-1zM55 2h1v1h-1zM63 2h1v1h-1zM68 2h1v1h-1zM0 3h1v1h-1zM58 3h1v1h-1zM68 3h1v1h-1z"/>
<path fill="#ece4ec" d="M1 0h1v1h-1zM73 1h1v1h-1zM66 2h1v1h-1zM15 3h1v1h-1zM32 3h1v1h-1z"/>
<path fill="#ec745c" d="M2 0h1v1h-1zM39 0h1v1h-1z"/>
<path fill="#ac94cc" d="M3 0h1v1h-1zM14 2h1v1h-1zM51 2h1v1h-1zM16 3h1v1h-1zM25 3h1v1h-1zM36 3h1v1h-1zM67 3h1v1h-1z"/>
<path fill="#f4ecf4" d="M4 0h1v1h-1zM16 0h1v1h-1zM32 0h2v1h-2zM50 0h1v1h-1zM56 0h1v1h-1zM74 1h1v1h-1zM27 2h2v1h-2zM40 2h1v1h-1zM14 3h1v1h-1zM21 3h1v1h-1zM46 3h1v1h-1zM76 3h1v1h-1z"/>
<path fill="#f4ac8c" d="M5 0h1v1h-1zM77 2h1v1h-1zM79 3h1v1h-1z"/>
<path fill="#fce4dc" d="M6 0h1v1h-1zM44 1h1v1h-1zM68 1h1v1h-1zM5 2h1v1h-1zM18 2h1v1h-1zM48 3h1v1h-1z"/>
<path fill="#9c7cbc" d="M7 0h1v1h-1zM37 0h1v1h-1zM55 0h1v1h-1zM38 1h1v1h-1zM17 2h1v1h-1zM21 2h1v1h-1zM56 2h1v1h-1zM63 3h1v1h-1z"/>
<path fill="#6c449c" d="M8 0h1v1h-1zM20 0h1v1h-1zM31 0h1v1h-1zM22 2h1v1h-1zM28 3h1v1h-1z"/>
<path fill="#7c5ca4" d="M9 0h1v1h-1z"/>
<path fill="#dccce4" d="M10 0h1v1h-1zM23 0h1v1h-1zM35 0h1v1h-1zM45 0h1v1h-1zM16 1h1v1h-1zM18 1h1v1h-1zM50 1h1v1h-1zM75 1h1v1h-1zM66 3h1v1h-1zM69 3h1v1h-1z"/>
<path fill="#fcc4ac" d="M11 0h1v1h-1zM72 0h1v1h-1zM11 1h1v1h-1zM22 1h1v1h-1zM58 1h1v1h-1zM63 1h1v1h-1zM2 3h1v1h-1zM9 3h1v1h-1zM40 3h1v1h-1zM72 3h1v1h-1z"/>
<path fill="#fce4e4" d="M12 0h1v1h-1zM68 0h1v1h-1zM1 1h1v1h-1zM52 1h1v1h-1zM26 2h1v1h-1zM17 3h1v1h-1zM43 3h1v1h-1z"/>
<path fill="#9474bc" d="M13 0h1v1h-1zM30 1h1v1h-1zM36 2h1v1h-1z"/>
<path fill="#f4bc9c" d="M14 0h1v1h-1zM4 2h1v1h-1z"/>
<path fill="#ccb4dc" d="M15 0h1v1h-1zM21 0h1v1h-1zM36 0h1v1h-1zM13 1h1v1h-1zM32 1h1v1h-1zM76 1h1v1h-1zM20 2h1v1h-1zM69 2h1v1h-1z"/>
<path fill="#c4acd4" d="M17 0h1v1h-1zM27 0h1v1h-1zM9 1h1v1h-1zM12 1h1v1h-1zM15 1h1v1h-1zM31 2h1v1h-1zM33 2h1v1h-1zM37 2h1v1h-1zM30 3h1v1h-1zM60 3h1v1h-1z"/>
<path fill="#f4ac94" d="M18 0h1v1h-1zM46 1h1v1h-1z"/>
<path fill="#b49ccc" d="M19 0h1v1h-1zM75 2h1v1h-1zM79 2h1v1h-1z"/>
<path fill="#a484c4" d="M24 0h1v1h-1zM60 0h1v1h-1zM71 0h1v1h-1zM34 1h2v1h-2zM19 2h1v1h-1zM29 2h1v1h-1zM34 2h1v1h-1zM52 2h1v1h-1zM61 3h1v1h-1z"/>
<path fill="#bca4d4" d="M25 0h1v1h-1zM58 0h1v1h-1zM61 0h1v1h-1zM57 1h1v1h-1zM60 1h1v1h-1zM23 2h2v1h-2zM49 2h1v1h-1zM59 2h1v1h-1zM72 2h1v1h-1zM75 3h1v1h-1z"/>
<path fill="#9c74bc" d="M26 0h1v1h-1zM70 2h1v1h-1zM34 3h1v1h-1z"/>
<path fill="#d4bcdc" d="M28 0h1v1h-1zM6 1h1v1h-1zM67 2h1v1h-1zM10 3h1v1h-1z"/>
<path fill="#dcd4e4" d="M29 0h1v1h-1zM14 1h1v1h-1z"/>
<path fill="#fcccb4" d="M30 0h1v1h-1zM67 0h1v1h-1zM78 0h1v1h-1zM53 1h1v1h-1zM31 3h1v1h-1zM50 3h1v1h-1z"/>
<path fill="#946cb4" d="M34 0h1v1h-1zM64 2h1v1h-1z"/>
<path fill="#fcecec" d="M38 0h1v1h-1zM43 0h1v1h-1zM65 0h1v1h-1zM69 0h1v1h-1zM74 0h1v1h-1zM37 1h1v1h-1zM65 1h1v1h-1zM70 1h1v1h-1zM78 1h1v1h-1zM57 2h1v1h-1zM78 2h1v1h-1zM29 3h1v1h-1zM39 3h1v1h-1zM47 3h1v1h-1zM74 3h1v1h-1zM77 3h1v1h-1z"/>
<path fill="#f4b49c" d="M40 0h1v1h-1zM22 3h1v1h-1zM64 3h1v1h-1z"/>
<path fill="#f4b494" d="M41 0h1v1h-1zM19 1h1v1h-1zM23 1h1v1h-1zM2 2h1v1h-1zM71 2h1v1h-1z"/>
<path fill="#f49c84" d="M42 0h1v1h-1zM20 3h1v1h-1z"/>
<path fill="#f49474" d="M44 0h1v1h-1zM39 2h1v1h-1zM42 3h1v1h-1z"/>
<path fill="#fcdcd4" d="M46 0h1v1h-1zM66 1h2v1h-2zM69 1h1v1h-1zM11 2h1v1h-1zM50 2h1v1h-1zM70 3h1v1h-1z"/>
<path fill="#f4c4a4" d="M47 0h1v1h-1zM56 1h1v1h-1z"/>
<path fill="#ec8c6c" d="M48 0h1v1h-1zM6 3h1v1h-1z"/>
<path fill="#fcf4f4" d="M49 0h1v1h-1zM8 1h1v1h-1zM33 1h1v1h-1zM54 1h1v1h-1zM60 2h1v1h-1z"/>
<path fill="#e4d4ec" d="M51 0h1v1h-1zM71 1h1v1h-1zM42 2h1v1h-1zM45 2h1v1h-1zM76 2h1v1h-1zM1 3h1v1h-1zM7 3h1v1h-1zM18 3h1v1h-1zM33 3h1v1h-1zM78 3h1v1h-1z"/>
<path fill="#ccbcdc" d="M52 0h1v1h-1zM19 3h1v1h-1zM37 3h1v1h-1zM41 3h1v1h-1z"/>
<path fill="#fcece4" d="M54 0h1v1h-1zM79 1h1v1h-1z"/>
<path fill="#ecdcec" d="M57 0h1v1h-1zM75 0h1v1h-1zM79 0h1v1h-1zM53 2h1v1h-1zM51 3h1v1h-1z"/>
<path fill="#845ca4" d="M59 0h1v1h-1z"/>
<path fill="#f4bca4" d="M62 0h1v1h-1zM77 1h1v1h-1zM6 2h1v1h-1z"/>
<path fill="#7c54a4" d="M63 0h1v1h-1zM51 1h1v1h-1zM30 2h1v1h-1z"/>
<path fill="#fcd4bc" d="M64 0h1v1h-1zM7 1h1v1h-1zM17 1h1v1h-1zM0 2h1v1h-1zM4 3h1v1h-1zM11 3h1v1h-1zM27 3h1v1h-1z"/>
<path fill="#ac8cc4" d="M66 0h1v1h-1zM38 2h1v1h-1zM73 2h1v1h-1zM52 3h1v1h-1z"/>
<path fill="#b494cc" d="M70 0h1v1h-1zM26 1h1v1h-1z"/>
<path fill="#f4a484" d="M73 0h1v1h-1z"/>
<path fill="#9474b4" d="M77 0h1v1h-1zM35 2h1v1h-1zM13 3h1v1h-1z"/>
<path fill="#ec6c54" d="M0 1h1v1h-1z"/>
<path fill="#e46c54" d="M2 1h1v1h-1z"/>
<path fill="#fcd4c4" d="M3 1h1v1h-1zM62 1h1v1h-1zM41 2h1v1h-1zM24 3h1v1h-1z"/>
<path fill="#ec7c5c" d="M4 1h1v1h-1zM43 1h1v1h-1z"/>
<path fill="#e4543c" d="M5 1h1v1h-1zM36 1h1v1h-1zM47 1h1v1h-1zM5 3h1v1h-1zM35 3h1v1h-1z"/>
<path fill="#ece4f4" d="M10 1h1v1h-1zM43 2h1v1h-1z"/>
<path fill="#d4bce4" d="M21 1h1v1h-1zM28 1h1v1h-1zM32 2h1v1h-1zM61 2h1v1h-1zM23 3h1v1h-1zM71 3h1v1h-1z"/>
<path fill="#c4acdc" d="M24 1h1v1h-1zM55 3h1v1h-1z"/>
<path fill="#fce4d4" d="M25 1h1v1h-1zM54 3h1v1h-1zM56 3h1v1h-1z"/>
<path fill="#fcdccc" d="M29 1h1v1h-1zM59 1h1v1h-1zM12 3h1v1h-1zM57 3h1v1h-1z"/>
<path fill="#f49c7c" d="M39 1h1v1h-1zM48 1h2v1h-2zM72 1h1v1h-1zM48 2h1v1h-1zM44 3h1v1h-1zM62 3h1v1h-1z"/>
<path fill="#dcd4ec" d="M40 1h1v1h-1z"/>
<path fill="#bc9cd4" d="M41 1h1v1h-1zM38 3h1v1h-1z"/>
<path fill="#e45c44" d="M42 1h1v1h-1z"/>
<path fill="#e4dcec" d="M45 1h1v1h-1zM55 1h1v1h-1zM61 1h1v1h-1zM7 2h1v1h-1zM15 2h1v1h-1z"/>
<path fill="#fcecf4" d="M1 2h1v1h-1z"/>
<path fill="#e46444" d="M3 2h1v1h-1z"/>
<path fill="#744c9c" d="M8 2h1v1h-1zM25 2h1v1h-1zM8 3h1v1h-1z"/>
<path fill="#fcccbc" d="M9 2h1v1h-1z"/>
<path fill="#c4b4dc" d="M10 2h1v1h-1z"/>
<path fill="#845cac" d="M12 2h2v1h-2zM16 2h1v1h-1zM47 2h1v1h-1zM59 3h1v1h-1z"/>
<path fill="#a484bc" d="M46 2h1v1h-1zM45 3h1v1h-1z"/>
<path fill="#a48cc4" d="M54 2h1v1h-1zM65 3h1v1h-1z"/>
<path fill="#f4f4f4" d="M58 2h1v1h-1z"/>
<path fill="#f4a48c" d="M62 2h1v1h-1z"/>
<path fill="#f4e4f4" d="M65 2h1v1h-1zM26 3h1v1h-1zM49 3h1v1h-1z"/>
<path fill="#8464ac" d="M74 2h1v1h-1z"/>
<path fill="#ec8464" d="M3 3h1v1h-1z"/>
<path fill="#74449c" d="M53 3h1v1h-1z"/>
<path fill="#ec7c64" d="M73 3h1v1h-1z"/>
</g>
<g transform="translate(37.2 250.5) scale(2.6200 0.9500)">
<path fill="#fcecec" d="M0 0h1v1h-1zM37 0h1v1h-1zM51 0h1v1h-1zM62 0h1v1h-1zM11 1h1v1h-1zM78 1h1v1h-1zM53 2h1v1h-1zM57 2h1v1h-1zM37 3h1v1h-1z"/>
<path fill="#fcd4bc" d="M1 0h1v1h-1zM16 0h1v1h-1zM68 0h1v1h-1zM1 1h1v1h-1zM20 1h1v1h-1zM38 1h2v1h-2zM50 1h1v1h-1zM52 1h1v1h-1zM64 1h1v1h-1zM11 2h1v1h-1zM34 2h1v1h-1zM61 2h1v1h-1zM73 2h1v1h-1z"/>
<path fill="#fcd4c4" d="M2 0h1v1h-1zM6 1h1v1h-1zM39 2h1v1h-1z"/>
<path fill="#e4543c" d="M3 0h1v1h-1zM6 0h1v1h-1zM49 0h1v1h-1zM3 1h3v1h-3zM45 1h1v1h-1zM48 1h1v1h-1zM54 1h1v1h-1zM72 1h1v1h-1zM5 2h2v1h-2zM45 2h1v1h-1z"/>
<path fill="#ec7c5c" d="M4 0h1v1h-1zM59 0h1v1h-1zM72 0h1v1h-1zM74 1h1v1h-1zM51 2h1v1h-1z"/>
<path fill="#ec7c64" d="M5 0h1v1h-1z"/>
<path fill="#dcd4ec" d="M7 0h1v1h-1zM0 2h1v1h-1z"/>
<path fill="#d4c4e4" d="M8 0h1v1h-1zM22 1h1v1h-1zM51 1h1v1h-1zM54 2h1v1h-1zM59 2h1v1h-1zM72 2h1v1h-1zM79 2h1v1h-1z"/>
<path fill="#f4ac94" d="M9 0h1v1h-1z"/>
<path fill="#f4b494" d="M10 0h1v1h-1zM38 0h1v1h-1zM9 1h1v1h-1zM18 1h1v1h-1zM32 1h1v1h-1zM10 2h1v1h-1zM3 3h1v1h-1z"/>
<path fill="#ec8464" d="M11 0h1v1h-1zM34 0h1v1h-1zM40 0h1v1h-1zM67 0h1v1h-1zM10 1h1v1h-1zM27 1h1v1h-1zM79 1h1v1h-1z"/>
<path fill="#bca4d4" d="M12 0h1v1h-1zM59 1h1v1h-1zM30 2h1v1h-1z"/>
<path fill="#f4a484" d="M13 0h1v1h-1zM17 0h1v1h-1zM36 0h1v1h-1zM39 0h1v1h-1zM64 0h1v1h-1zM66 0h1v1h-1zM73 0h1v1h-1zM46 1h1v1h-1zM56 1h1v1h-1z"/>
<path fill="#9c7cbc" d="M14 0h1v1h-1zM25 3h1v1h-1zM27 3h1v1h-1zM40 3h1v1h-1zM77 3h1v1h-1z"/>
<path fill="#f4bca4" d="M15 0h1v1h-1zM54 0h1v1h-1zM57 0h1v1h-1zM61 0h1v1h-1zM40 1h1v1h-1zM61 1h1v1h-1zM15 2h1v1h-1zM23 2h1v1h-1z"/>
<path fill="#f49c7c" d="M18 0h1v1h-1zM33 0h1v1h-1zM75 0h1v1h-1zM35 1h1v1h-1zM53 1h1v1h-1zM55 1h1v1h-1zM43 2h1v1h-1z"/>
<path fill="#ecdcec" d="M19 0h1v1h-1zM24 0h1v1h-1zM31 0h1v1h-1zM53 0h1v1h-1zM0 1h1v1h-1zM13 1h1v1h-1zM19 1h1v1h-1zM46 2h2v1h-2zM71 3h1v1h-1z"/>
<path fill="#fce4d4" d="M20 0h1v1h-1zM71 0h1v1h-1zM49 1h1v1h-1zM77 1h1v1h-1z"/>
<path fill="#fcdccc" d="M21 0h1v1h-1zM69 1h1v1h-1zM7 2h1v1h-1zM63 2h1v1h-1zM66 2h1v1h-1zM68 2h1v1h-1z"/>
<path fill="#ece4ec" d="M22 0h1v1h-1zM48 0h1v1h-1zM58 0h1v1h-1zM76 0h1v1h-1zM30 1h1v1h-1zM41 1h1v1h-1zM65 1h1v1h-1zM70 1h1v1h-1z"/>
<path fill="#e4dcec" d="M23 0h1v1h-1zM24 1h1v1h-1zM1 2h1v1h-1zM24 2h1v1h-1zM32 2h1v1h-1zM5 3h1v1h-1zM15 3h1v1h-1zM74 3h1v1h-1z"/>
<path fill="#f49474" d="M25 0h1v1h-1zM78 0h1v1h-1z"/>
<path fill="#ec8c6c" d="M26 0h1v1h-1zM29 1h1v1h-1z"/>
<path fill="#f4bc9c" d="M27 0h1v1h-1z"/>
<path fill="#ec745c" d="M28 0h1v1h-1z"/>
<path fill="#fcc4ac" d="M29 0h1v1h-1zM50 0h1v1h-1zM16 1h1v1h-1zM43 1h1v1h-1zM73 1h1v1h-1zM55 2h2v1h-2zM58 2h1v1h-1z"/>
<path fill="#dccce4" d="M30 0h1v1h-1zM2 1h1v1h-1zM21 1h1v1h-1zM57 1h1v1h-1zM36 3h1v1h-1zM46 3h1v1h-1zM52 3h1v1h-1zM56 3h1v1h-1zM58 3h1v1h-1zM67 3h1v1h-1z"/>
<path fill="#fcccb4" d="M32 0h1v1h-1zM43 0h1v1h-1zM45 0h1v1h-1z"/>
<path fill="#e4d4ec" d="M35 0h1v1h-1zM33 2h1v1h-1zM60 2h1v1h-1zM2 3h1v1h-1zM7 3h1v1h-1zM75 3h1v1h-1z"/>
<path fill="#fcf4f4" d="M41 0h1v1h-1zM7 1h1v1h-1zM14 1h1v1h-1zM14 2h1v1h-1zM42 2h1v1h-1zM22 3h1v1h-1z"/>
<path fill="#fcdcc4" d="M42 0h1v1h-1zM13 2h1v1h-1zM25 2h1v1h-1zM50 2h1v1h-1zM70 2h1v1h-1z"/>
<path fill="#fce4dc" d="M44 0h1v1h-1zM12 1h1v1h-1zM44 1h1v1h-1zM63 1h1v1h-1zM68 1h1v1h-1zM71 1h1v1h-1zM27 2h1v1h-1zM19 3h1v1h-1zM53 3h1v1h-1z"/>
<path fill="#f4ac8c" d="M46 0h1v1h-1zM55 0h2v1h-2zM77 0h1v1h-1zM34 1h1v1h-1zM42 1h1v1h-1zM2 2h1v1h-1zM65 2h1v1h-1zM70 3h1v1h-1z"/>
<path fill="#b494cc" d="M47 0h1v1h-1zM44 3h1v1h-1zM68 3h1v1h-1z"/>
<path fill="#ac8cc4" d="M52 0h1v1h-1zM10 3h1v1h-1zM23 3h1v1h-1zM38 3h1v1h-1z"/>
<path fill="#c4b4dc" d="M60 0h1v1h-1zM63 0h1v1h-1zM11 3h1v1h-1zM29 3h1v1h-1zM48 3h1v1h-1zM72 3h1v1h-1z"/>
<path fill="#f4ecf4" d="M65 0h1v1h-1zM69 0h1v1h-1zM8 1h1v1h-1zM58 1h1v1h-1zM35 2h1v1h-1zM76 2h1v1h-1z"/>
<path fill="#fcdcd4" d="M70 0h1v1h-1zM79 0h1v1h-1zM9 2h1v1h-1z"/>
<path fill="#e4644c" d="M74 0h1v1h-1zM75 2h1v1h-1z"/>
<path fill="#ec846c" d="M15 1h1v1h-1z"/>
<path fill="#fce4e4" d="M17 1h1v1h-1zM31 1h1v1h-1zM41 2h1v1h-1zM64 2h1v1h-1z"/>
<path fill="#dcd4e4" d="M23 1h1v1h-1z"/>
<path fill="#e45c44" d="M25 1h1v1h-1zM76 1h1v1h-1zM38 2h1v1h-1zM48 2h1v1h-1z"/>
<path fill="#ec7454" d="M26 1h1v1h-1z"/>
<path fill="#fcece4" d="M28 1h1v1h-1zM37 2h1v1h-1z"/>
<path fill="#ccb4dc" d="M33 1h1v1h-1zM52 2h1v1h-1zM71 2h1v1h-1zM66 3h1v1h-1z"/>
<path fill="#ac94cc" d="M36 1h1v1h-1z"/>
<path fill="#a484c4" d="M37 1h1v1h-1zM18 2h1v1h-1zM14 3h1v1h-1zM33 3h1v1h-1zM45 3h1v1h-1zM59 3h1v1h-1zM62 3h1v1h-1zM65 3h1v1h-1z"/>
<path fill="#f4947c" d="M47 1h1v1h-1z"/>
<path fill="#ccbcdc" d="M60 1h1v1h-1zM49 2h1v1h-1zM78 2h1v1h-1z"/>
<path fill="#f4b49c" d="M62 1h1v1h-1zM28 2h1v1h-1zM31 2h1v1h-1zM6 3h1v1h-1z"/>
<path fill="#ec9474" d="M66 1h2v1h-2zM67 2h1v1h-1zM4 3h1v1h-1z"/>
<path fill="#ec8c74" d="M75 1h1v1h-1zM44 2h1v1h-1z"/>
<path fill="#ec6c54" d="M3 2h1v1h-1zM62 2h1v1h-1z"/>
<path fill="#e46444" d="M4 2h1v1h-1zM74 2h1v1h-1z"/>
<path fill="#845cac" d="M8 2h1v1h-1zM17 2h1v1h-1zM26 2h1v1h-1zM16 3h1v1h-1zM51 3h1v1h-1z"/>
<path fill="#d4bcdc" d="M12 2h1v1h-1z"/>
<path fill="#f4e4f4" d="M16 2h1v1h-1z"/>
<path fill="#f4f4f4" d="M19 2h1v1h-1z"/>
<path fill="#8c6cb4" d="M20 2h1v1h-1zM31 3h1v1h-1zM35 3h1v1h-1zM60 3h1v1h-1z"/>
<path fill="#b49ccc" d="M21 2h1v1h-1zM40 2h1v1h-1zM47 3h1v1h-1zM69 3h1v1h-1zM79 3h1v1h-1z"/>
<path fill="#e46c4c" d="M22 2h1v1h-1z"/>
<path fill="#fcccbc" d="M29 2h1v1h-1z"/>
<path fill="#e46c54" d="M36 2h1v1h-1z"/>
<path fill="#f49c84" d="M69 2h1v1h-1z"/>
<path fill="#e45c3c" d="M77 2h1v1h-1z"/>
<path fill="#946cb4" d="M0 3h1v1h-1zM21 3h1v1h-1z"/>
<path fill="#6c449c" d="M1 3h1v1h-1zM8 3h1v1h-1zM13 3h1v1h-1zM17 3h2v1h-2zM24 3h1v1h-1zM41 3h1v1h-1zM43 3h1v1h-1zM57 3h1v1h-1zM73 3h1v1h-1zM76 3h1v1h-1z"/>
<path fill="#ece4f4" d="M9 3h1v1h-1zM34 3h1v1h-1zM54 3h1v1h-1z"/>
<path fill="#9c74bc" d="M12 3h1v1h-1z"/>
<path fill="#ac8ccc" d="M20 3h1v1h-1zM49 3h1v1h-1z"/>
<path fill="#7c5ca4" d="M26 3h1v1h-1z"/>
<path fill="#7c54a4" d="M28 3h1v1h-1zM39 3h1v1h-1zM64 3h1v1h-1z"/>
<path fill="#d4bce4" d="M30 3h1v1h-1zM78 3h1v1h-1z"/>
<path fill="#a48cc4" d="M32 3h1v1h-1z"/>
<path fill="#8c64ac" d="M42 3h1v1h-1zM61 3h1v1h-1z"/>
<path fill="#c4acd4" d="M50 3h1v1h-1z"/>
<path fill="#74449c" d="M55 3h1v1h-1z"/>
<path fill="#c4acdc" d="M63 3h1v1h-1z"/>
</g>
<g transform="translate(37.2 255.6) scale(2.6200 0.9000)">
<path fill="#e4543c" d="M0 0h1v1h-1zM5 0h1v1h-1zM7 0h1v1h-1zM9 0h1v1h-1zM33 0h1v1h-1zM41 0h1v1h-1zM8 1h2v1h-2zM6 2h3v1h-3zM39 2h1v1h-1zM42 2h1v1h-1zM77 2h1v1h-1zM4 3h4v1h-4zM9 3h1v1h-1zM39 3h1v1h-1zM41 3h1v1h-1z"/>
<path fill="#e45c44" d="M1 0h1v1h-1zM13 1h1v1h-1zM0 2h1v1h-1zM8 3h1v1h-1z"/>
<path fill="#fcc4ac" d="M2 0h1v1h-1zM23 0h1v1h-1zM44 0h1v1h-1zM70 0h1v1h-1zM14 1h1v1h-1zM41 2h1v1h-1zM23 3h1v1h-1zM77 3h1v1h-1z"/>
<path fill="#ccbcdc" d="M3 0h1v1h-1zM22 1h1v1h-1zM45 2h1v1h-1zM38 3h1v1h-1z"/>
<path fill="#ec8c6c" d="M4 0h1v1h-1zM51 0h1v1h-1zM28 1h1v1h-1zM10 2h1v1h-1zM30 2h1v1h-1zM1 3h1v1h-1zM45 3h1v1h-1z"/>
<path fill="#e46c4c" d="M6 0h1v1h-1zM26 0h1v1h-1z"/>
<path fill="#f49c7c" d="M8 0h1v1h-1zM67 0h1v1h-1zM0 1h1v1h-1zM30 1h1v1h-1zM49 1h1v1h-1zM22 2h1v1h-1zM40 2h1v1h-1zM46 2h1v1h-1zM54 2h1v1h-1z"/>
<path fill="#fcdcd4" d="M10 0h1v1h-1zM16 0h1v1h-1zM59 1h1v1h-1zM38 2h1v1h-1zM78 2h1v1h-1zM18 3h1v1h-1z"/>
<path fill="#fcf4f4" d="M11 0h1v1h-1zM20 1h1v1h-1zM1 2h1v1h-1zM67 2h1v1h-1zM73 2h1v1h-1zM76 3h1v1h-1z"/>
<path fill="#f4ecf4" d="M12 0h1v1h-1zM47 0h1v1h-1zM59 0h1v1h-1zM75 0h1v1h-1zM32 2h1v1h-1zM21 3h1v1h-1zM53 3h1v1h-1z"/>
<path fill="#e4dcec" d="M13 0h1v1h-1zM19 0h1v1h-1zM76 0h1v1h-1zM3 1h1v1h-1zM61 1h1v1h-1zM19 2h1v1h-1zM65 2h1v1h-1z"/>
<path fill="#f49474" d="M14 0h1v1h-1zM41 1h1v1h-1zM11 2h1v1h-1zM25 2h1v1h-1z"/>
<path fill="#d4c4e4" d="M15 0h1v1h-1zM34 0h1v1h-1zM68 0h1v1h-1zM27 1h1v1h-1zM42 1h1v1h-1zM44 1h1v1h-1zM47 1h1v1h-1zM47 2h1v1h-1zM17 3h1v1h-1z"/>
<path fill="#ec7c5c" d="M17 0h1v1h-1zM40 1h1v1h-1zM28 2h1v1h-1z"/>
<path fill="#f4c4a4" d="M18 0h1v1h-1z"/>
<path fill="#e4d4ec" d="M20 0h1v1h-1zM43 0h1v1h-1zM19 1h1v1h-1zM21 1h1v1h-1zM35 1h1v1h-1zM44 2h1v1h-1zM64 2h1v1h-1zM24 3h1v1h-1z"/>
<path fill="#845ca4" d="M21 0h1v1h-1z"/>
<path fill="#fcccbc" d="M22 0h1v1h-1zM48 2h1v1h-1zM62 2h1v1h-1z"/>
<path fill="#f4a48c" d="M24 0h1v1h-1zM53 1h1v1h-1zM33 3h1v1h-1z"/>
<path fill="#fce4d4" d="M25 0h1v1h-1zM29 1h1v1h-1zM75 1h1v1h-1zM18 2h1v1h-1zM71 2h1v1h-1zM19 3h1v1h-1zM67 3h1v1h-1z"/>
<path fill="#fcccb4" d="M27 0h1v1h-1zM30 0h1v1h-1zM39 1h1v1h-1zM77 1h1v1h-1zM33 2h1v1h-1zM31 3h1v1h-1zM40 3h1v1h-1zM48 3h1v1h-1zM59 3h1v1h-1z"/>
<path fill="#845cac" d="M28 0h1v1h-1zM13 2h1v1h-1zM59 2h1v1h-1z"/>
<path fill="#b49ccc" d="M29 0h1v1h-1zM56 0h1v1h-1zM63 1h1v1h-1zM69 1h1v1h-1zM72 1h1v1h-1zM63 2h1v1h-1zM65 3h1v1h-1z"/>
<path fill="#ecdcec" d="M31 0h1v1h-1zM52 0h1v1h-1zM54 0h1v1h-1zM65 1h1v1h-1zM32 3h1v1h-1zM61 3h1v1h-1z"/>
<path fill="#f4ac8c" d="M32 0h1v1h-1zM43 1h1v1h-1zM2 2h1v1h-1zM20 2h1v1h-1zM27 2h1v1h-1zM66 2h1v1h-1zM10 3h1v1h-1zM63 3h1v1h-1z"/>
<path fill="#e4644c" d="M35 0h1v1h-1zM17 2h1v1h-1z"/>
<path fill="#fcecec" d="M36 0h1v1h-1zM73 0h1v1h-1zM6 1h1v1h-1zM58 1h1v1h-1zM58 3h1v1h-1zM72 3h1v1h-1z"/>
<path fill="#b494cc" d="M37 0h1v1h-1zM51 3h1v1h-1zM56 3h1v1h-1z"/>
<path fill="#fcdccc" d="M38 0h1v1h-1zM42 0h1v1h-1zM64 0h1v1h-1zM16 1h1v1h-1zM52 2h1v1h-1zM58 2h1v1h-1zM61 2h1v1h-1zM13 3h1v1h-1zM36 3h1v1h-1zM73 3h1v1h-1zM78 3h1v1h-1z"/>
<path fill="#ec7c64" d="M39 0h1v1h-1z"/>
<path fill="#fcd4bc" d="M40 0h1v1h-1zM48 0h1v1h-1zM60 0h1v1h-1zM24 1h1v1h-1zM74 2h1v1h-1zM54 3h1v1h-1zM75 3h1v1h-1z"/>
<path fill="#dccce4" d="M45 0h1v1h-1zM55 0h1v1h-1zM18 1h1v1h-1zM38 1h1v1h-1zM46 1h1v1h-1zM70 1h1v1h-1zM29 2h1v1h-1zM26 3h1v1h-1zM74 3h1v1h-1z"/>
<path fill="#c4acdc" d="M46 0h1v1h-1zM60 1h1v1h-1z"/>
<path fill="#ec846c" d="M49 0h1v1h-1zM5 1h1v1h-1zM5 2h1v1h-1z"/>
<path fill="#f4a484" d="M50 0h1v1h-1zM66 1h1v1h-1zM12 2h1v1h-1zM16 2h1v1h-1zM26 2h1v1h-1zM68 2h1v1h-1zM3 3h1v1h-1zM20 3h1v1h-1z"/>
<path fill="#8c64ac" d="M53 0h1v1h-1z"/>
<path fill="#bca4d4" d="M57 0h1v1h-1zM61 0h1v1h-1zM36 1h1v1h-1zM34 3h1v1h-1zM42 3h1v1h-1zM69 3h1v1h-1z"/>
<path fill="#ece4ec" d="M58 0h1v1h-1zM63 0h1v1h-1zM14 3h1v1h-1zM28 3h1v1h-1zM49 3h1v1h-1z"/>
<path fill="#f4b494" d="M62 0h1v1h-1zM3 2h2v1h-2zM12 3h1v1h-1z"/>
<path fill="#f4b49c" d="M65 0h1v1h-1zM74 0h1v1h-1zM11 1h1v1h-1zM71 1h1v1h-1zM37 2h1v1h-1zM22 3h1v1h-1zM47 3h1v1h-1zM66 3h1v1h-1z"/>
<path fill="#ac8cc4" d="M66 0h1v1h-1zM31 1h1v1h-1zM45 1h1v1h-1zM68 1h1v1h-1zM57 2h1v1h-1z"/>
<path fill="#fce4dc" d="M69 0h1v1h-1zM7 1h1v1h-1zM50 2h1v1h-1zM68 3h1v1h-1zM71 3h1v1h-1z"/>
<path fill="#f4bca4" d="M71 0h1v1h-1zM31 2h1v1h-1zM53 2h1v1h-1zM79 2h1v1h-1z"/>
<path fill="#9474b4" d="M72 0h1v1h-1zM15 1h1v1h-1z"/>
<path fill="#fcecf4" d="M77 0h1v1h-1z"/>
<path fill="#ec9474" d="M78 0h1v1h-1z"/>
<path fill="#ccb4dc" d="M79 0h1v1h-1zM32 1h1v1h-1zM50 1h1v1h-1zM16 3h1v1h-1z"/>
<path fill="#bc9cd4" d="M1 1h1v1h-1z"/>
<path fill="#f4e4f4" d="M2 1h1v1h-1zM79 1h1v1h-1zM15 3h1v1h-1z"/>
<path fill="#ec7454" d="M4 1h1v1h-1zM36 2h1v1h-1zM29 3h1v1h-1z"/>
<path fill="#fcdcc4" d="M10 1h1v1h-1z"/>
<path fill="#744c9c" d="M12 1h1v1h-1z"/>
<path fill="#f4f4f4" d="M17 1h1v1h-1zM43 2h1v1h-1zM37 3h1v1h-1z"/>
<path fill="#d4bcdc" d="M23 1h1v1h-1zM56 2h1v1h-1z"/>
<path fill="#fcd4c4" d="M25 1h1v1h-1zM57 1h1v1h-1zM21 2h1v1h-1zM75 2h1v1h-1zM57 3h1v1h-1z"/>
<path fill="#a484c4" d="M26 1h1v1h-1zM25 3h1v1h-1zM52 3h1v1h-1zM79 3h1v1h-1z"/>
<path fill="#946cb4" d="M33 1h1v1h-1z"/>
<path fill="#8c64b4" d="M34 1h1v1h-1z"/>
<path fill="#c4acd4" d="M37 1h1v1h-1zM51 1h1v1h-1zM73 1h1v1h-1zM78 1h1v1h-1zM76 2h1v1h-1z"/>
<path fill="#a484bc" d="M48 1h1v1h-1z"/>
<path fill="#fcece4" d="M52 1h1v1h-1zM54 1h1v1h-1zM76 1h1v1h-1zM49 2h1v1h-1zM55 2h1v1h-1zM50 3h1v1h-1z"/>
<path fill="#bc9ccc" d="M55 1h1v1h-1z"/>
<path fill="#fce4e4" d="M56 1h1v1h-1zM55 3h1v1h-1z"/>
<path fill="#8c6cb4" d="M62 1h1v1h-1z"/>
<path fill="#9c7cbc" d="M64 1h1v1h-1zM70 2h1v1h-1z"/>
<path fill="#6c449c" d="M67 1h1v1h-1z"/>
<path fill="#f4bc9c" d="M74 1h1v1h-1zM24 2h1v1h-1zM34 2h2v1h-2zM69 2h1v1h-1z"/>
<path fill="#e46444" d="M9 2h1v1h-1z"/>
<path fill="#ec8464" d="M14 2h1v1h-1zM2 3h1v1h-1zM44 3h1v1h-1z"/>
<path fill="#ece4f4" d="M15 2h1v1h-1zM27 3h1v1h-1zM46 3h1v1h-1z"/>
<path fill="#c4b4dc" d="M23 2h1v1h-1z"/>
<path fill="#dcd4ec" d="M51 2h1v1h-1zM60 3h1v1h-1z"/>
<path fill="#ec8c74" d="M60 2h1v1h-1zM72 2h1v1h-1z"/>
<path fill="#e46c54" d="M0 3h1v1h-1z"/>
<path fill="#7c54a4" d="M11 3h1v1h-1z"/>
<path fill="#d4bce4" d="M30 3h1v1h-1z"/>
<path fill="#f4ac94" d="M35 3h1v1h-1zM62 3h1v1h-1z"/>
<path fill="#ac94cc" d="M43 3h1v1h-1z"/>
<path fill="#a48cc4" d="M64 3h1v1h-1z"/>
<path fill="#fcc4a4" d="M70 3h1v1h-1z"/>
</g>
</g>
<rect x="249.8" y="124.5" width="5.7" height="34.8" fill="#6fa8da"/>
<rect x="249.8" y="161.3" width="5.7" height="32.3" fill="#3c5a88"/>
<rect x="249.8" y="195.5" width="5.7" height="25.8" fill="#6b4a26"/>
<rect x="249.8" y="222.9" width="5.7" height="9" fill="#eebb3a"/>
<rect x="249.8" y="234.3" width="5.7" height="8.9" fill="#6aa84f"/>
<rect x="249.8" y="244.9" width="5.7" height="4.2" fill="#a8283a"/>
<rect x="249.8" y="250.8" width="5.7" height="3.4" fill="#111111"/>
<rect x="249.8" y="255.9" width="5.7" height="2.5" fill="#e6a3b8"/>
<text transform="translate(33.4 142) rotate(-90)" font-size="6.4" fill="#222" text-anchor="middle">1</text>
<text transform="translate(33.4 178.2) rotate(-90)" font-size="6.4" fill="#222" text-anchor="middle">2</text>
<text transform="translate(33.4 208.6) rotate(-90)" font-size="6.4" fill="#222" text-anchor="middle">3</text>
<text transform="translate(33.4 228) rotate(-90)" font-size="6.4" fill="#222" text-anchor="middle">4</text>
<text transform="translate(33.4 238.9) rotate(-90)" font-size="6.4" fill="#222" text-anchor="middle">5</text>
<text transform="translate(33.4 247.1) rotate(-90)" font-size="6.4" fill="#222" text-anchor="middle">6</text>
<text transform="translate(33.4 252.3) rotate(-90)" font-size="6.4" fill="#222" text-anchor="middle">7</text>
<text transform="translate(33.4 257.4) rotate(-90)" font-size="6.4" fill="#222" text-anchor="middle">8</text>
<path d="M38.46 270.3V259.9M48.94 270.3V259.9M59.42 270.3V259.9M69.9 270.3V259.9M80.38 270.3V259.9M90.86 270.3V259.9M101.34 270.3V259.9M111.82 270.3V259.9M122.3 270.3V259.9M132.78 270.3V259.9M143.26 270.3V259.9M153.74 270.3V259.9M164.22 270.3V259.9M174.7 270.3V259.9M185.18 270.3V259.9M195.66 270.3V259.9M206.14 270.3V259.9M216.62 270.3V259.9M227.1 270.3V259.9M237.58 270.3V259.9" stroke="#858585" stroke-width="1.3" fill="none" stroke-dasharray="1.5 1.1 1.4 0.5 1.2 0.4 1.5 0.5 1.3 0.6 1.0"/>
<path d="M41.08 270.3V259.9M51.56 270.3V259.9M62.04 270.3V259.9M72.52 270.3V259.9M83 270.3V259.9M93.48 270.3V259.9M103.96 270.3V259.9M114.44 270.3V259.9M124.92 270.3V259.9M135.4 270.3V259.9M145.88 270.3V259.9M156.36 270.3V259.9M166.84 270.3V259.9M177.32 270.3V259.9M187.8 270.3V259.9M198.28 270.3V259.9M208.76 270.3V259.9M219.24 270.3V259.9M229.72 270.3V259.9M240.2 270.3V259.9" stroke="#858585" stroke-width="1.3" fill="none" stroke-dasharray="1.5 1.0 1.3 0.4 1.6 0.5 1.1 0.5 1.5 0.4 1.2"/>
<path d="M43.7 270.3V259.9M54.18 270.3V259.9M64.66 270.3V259.9M75.14 270.3V259.9M85.62 270.3V259.9M96.1 270.3V259.9M106.58 270.3V259.9M117.06 270.3V259.9M127.54 270.3V259.9M138.02 270.3V259.9M148.5 270.3V259.9M158.98 270.3V259.9M169.46 270.3V259.9M179.94 270.3V259.9M190.42 270.3V259.9M200.9 270.3V259.9M211.38 270.3V259.9M221.86 270.3V259.9M232.34 270.3V259.9M242.82 270.3V259.9" stroke="#858585" stroke-width="1.3" fill="none" stroke-dasharray="1.5 1.2 1.2 0.6 1.4 0.4 1.4 0.5 1.2 0.5 1.1"/>
<path d="M46.32 270.3V259.9M56.8 270.3V259.9M67.28 270.3V259.9M77.76 270.3V259.9M88.24 270.3V259.9M98.72 270.3V259.9M109.2 270.3V259.9M119.68 270.3V259.9M130.16 270.3V259.9M140.64 270.3V259.9M151.12 270.3V259.9M161.6 270.3V259.9M172.08 270.3V259.9M182.56 270.3V259.9M193.04 270.3V259.9M203.52 270.3V259.9M214 270.3V259.9M224.48 270.3V259.9M234.96 270.3V259.9M245.44 270.3V259.9" stroke="#858585" stroke-width="1.3" fill="none" stroke-dasharray="1.5 1.0 1.6 0.5 1.0 0.5 1.5 0.4 1.3 0.5 1.2"/>
<text x="77.5" y="281" font-size="6.8" fill="#222" textLength="48" lengthAdjust="spacingAndGlyphs">Expression Zscore</text>
<defs><linearGradient id="gp" x1="0" x2="1"><stop offset="0" stop-color="#7c5cab"/><stop offset="1" stop-color="#f0eaf2"/></linearGradient><linearGradient id="gr" x1="0" x2="1"><stop offset="0" stop-color="#fbe2da"/><stop offset="1" stop-color="#ee7458"/></linearGradient><linearGradient id="gc" x1="0" x2="1"><stop offset="0" stop-color="#f5dc5a"/><stop offset="0.25" stop-color="#c9b47c"/><stop offset="0.5" stop-color="#8a8a88"/><stop offset="0.78" stop-color="#4a6288"/><stop offset="1" stop-color="#2c4670"/></linearGradient></defs>
<rect x="130.2" y="275.9" width="16" height="5.4" fill="#4b2f8f"/>
<rect x="146.2" y="275.9" width="16" height="5.4" fill="url(#gp)"/>
<rect x="162.2" y="275.9" width="1.4" height="5.4" fill="#fdfbfb"/>
<rect x="163.6" y="275.9" width="14.8" height="5.4" fill="url(#gr)"/>
<rect x="178.4" y="275.9" width="16.2" height="5.4" fill="#e4352d"/>
<text x="130.5" y="287.6" font-size="5.8" fill="#222" text-anchor="middle">−4</text>
<text x="146.2" y="287.6" font-size="5.8" fill="#222" text-anchor="middle">−2</text>
<text x="161.5" y="287.6" font-size="5.8" fill="#222" text-anchor="middle">0</text>
<text x="177.7" y="287.6" font-size="5.8" fill="#222" text-anchor="middle">2</text>
<text x="193.5" y="287.6" font-size="5.8" fill="#222" text-anchor="middle">4</text>
<g>
<text x="259" y="132.6" font-size="6.6" fill="#222" textLength="26.2" lengthAdjust="spacingAndGlyphs">Diagnosis</text>
<rect x="259" y="135.8" width="4.3" height="7.15" fill="#c8317c"/>
<text x="266.6" y="141.6" font-size="6.6" fill="#222" textLength="16.0" lengthAdjust="spacingAndGlyphs">aCML</text>
<rect x="259" y="142.92" width="4.3" height="7.15" fill="#a87a40"/>
<text x="266.6" y="148.72" font-size="6.6" fill="#222" textLength="56.0" lengthAdjust="spacingAndGlyphs">Alternative diagnosis</text>
<rect x="259" y="150.04" width="4.3" height="7.15" fill="#9a8cc0"/>
<text x="266.6" y="155.84" font-size="6.6" fill="#222" textLength="17.6" lengthAdjust="spacingAndGlyphs">CMML</text>
<rect x="259" y="157.16" width="4.3" height="7.15" fill="#6aaa50"/>
<text x="266.6" y="162.96" font-size="6.6" fill="#222" textLength="12.3" lengthAdjust="spacingAndGlyphs">CNL</text>
<rect x="259" y="164.28" width="4.3" height="7.15" fill="#f0b832"/>
<text x="266.6" y="170.08" font-size="6.6" fill="#222" textLength="36.6" lengthAdjust="spacingAndGlyphs">Healthy donor</text>
<rect x="259" y="171.4" width="4.3" height="7.15" fill="#e09434"/>
<text x="266.6" y="177.2" font-size="6.6" fill="#222" textLength="33.5" lengthAdjust="spacingAndGlyphs">MDS/MPN−U</text>
<rect x="259" y="178.52" width="4.3" height="7.15" fill="#5a4020"/>
<text x="266.6" y="184.32" font-size="6.6" fill="#222" textLength="21.5" lengthAdjust="spacingAndGlyphs">MPN−U</text>
<rect x="259" y="185.64" width="4.3" height="7.15" fill="#5c6478"/>
<text x="266.6" y="191.44" font-size="6.6" fill="#222" textLength="57.0" lengthAdjust="spacingAndGlyphs">Ambiguous diagnosis</text>
</g>
<rect x="425.45" y="34.6" width="11.2" height="15.75" fill="#c9b37a"/>
<rect x="436.25" y="34.6" width="11.2" height="15.75" fill="#73737f"/>
<rect x="447.05" y="34.6" width="11.2" height="15.75" fill="#5f667f"/>
<rect x="457.85" y="34.6" width="11.2" height="15.75" fill="#2f5079"/>
<rect x="468.65" y="34.6" width="11.2" height="15.75" fill="#85858a"/>
<rect x="479.45" y="34.6" width="11.2" height="15.75" fill="#8d8a86"/>
<rect x="490.25" y="34.6" width="11.2" height="15.75" fill="#7c7d83"/>
<rect x="501.05" y="34.6" width="10.8" height="15.75" fill="#a09a82"/>
<rect x="425.45" y="49.95" width="11.2" height="15.75" fill="#4a5e80"/>
<rect x="436.25" y="49.95" width="11.2" height="15.75" fill="#9a9288"/>
<rect x="447.05" y="49.95" width="11.2" height="15.75" fill="#8a8886"/>
<rect x="457.85" y="49.95" width="11.2" height="15.75" fill="#e2c670"/>
<rect x="468.65" y="49.95" width="11.2" height="15.75" fill="#9a968c"/>
<rect x="479.45" y="49.95" width="11.2" height="15.75" fill="#948e88"/>
<rect x="490.25" y="49.95" width="11.2" height="15.75" fill="#787a82"/>
<rect x="501.05" y="49.95" width="10.8" height="15.75" fill="#a29a86"/>
<rect x="425.45" y="65.3" width="11.2" height="15.75" fill="#2e3c5c"/>
<rect x="436.25" y="65.3" width="11.2" height="15.75" fill="#f5dc60"/>
<rect x="447.05" y="65.3" width="11.2" height="15.75" fill="#c6b684"/>
<rect x="457.85" y="65.3" width="11.2" height="15.75" fill="#c6b684"/>
<rect x="468.65" y="65.3" width="11.2" height="15.75" fill="#a49e88"/>
<rect x="479.45" y="65.3" width="11.2" height="15.75" fill="#baa882"/>
<rect x="490.25" y="65.3" width="11.2" height="15.75" fill="#727682"/>
<rect x="501.05" y="65.3" width="10.8" height="15.75" fill="#808084"/>
<rect x="425.45" y="80.65" width="11.2" height="15.75" fill="#828282"/>
<rect x="436.25" y="80.65" width="11.2" height="15.75" fill="#6c6e80"/>
<rect x="447.05" y="80.65" width="11.2" height="15.75" fill="#7e7e82"/>
<rect x="457.85" y="80.65" width="11.2" height="15.75" fill="#7a7c82"/>
<rect x="468.65" y="80.65" width="11.2" height="15.75" fill="#dcc27c"/>
<rect x="479.45" y="80.65" width="11.2" height="15.75" fill="#6c7080"/>
<rect x="490.25" y="80.65" width="11.2" height="15.75" fill="#86868a"/>
<rect x="501.05" y="80.65" width="10.8" height="15.75" fill="#6e7282"/>
<rect x="425.45" y="96" width="11.2" height="15.75" fill="#f5dc60"/>
<rect x="436.25" y="96" width="11.2" height="15.75" fill="#34466c"/>
<rect x="447.05" y="96" width="11.2" height="15.75" fill="#303e60"/>
<rect x="457.85" y="96" width="11.2" height="15.75" fill="#3a5a7c"/>
<rect x="468.65" y="96" width="11.2" height="15.75" fill="#5e6680"/>
<rect x="479.45" y="96" width="11.2" height="15.75" fill="#6c6e80"/>
<rect x="490.25" y="96" width="11.2" height="15.75" fill="#8e8c88"/>
<rect x="501.05" y="96" width="10.8" height="15.75" fill="#868686"/>
<rect x="425.45" y="111.35" width="11.2" height="15.75" fill="#868686"/>
<rect x="436.25" y="111.35" width="11.2" height="15.75" fill="#445e80"/>
<rect x="447.05" y="111.35" width="11.2" height="15.75" fill="#8e8c88"/>
<rect x="457.85" y="111.35" width="11.2" height="15.75" fill="#8a8a86"/>
<rect x="468.65" y="111.35" width="11.2" height="15.75" fill="#92908a"/>
<rect x="479.45" y="111.35" width="11.2" height="15.75" fill="#8e8c88"/>
<rect x="490.25" y="111.35" width="11.2" height="15.75" fill="#9e9886"/>
<rect x="501.05" y="111.35" width="10.8" height="15.75" fill="#9a9488"/>
<rect x="425.45" y="126.7" width="11.2" height="15.75" fill="#d2bc7c"/>
<rect x="436.25" y="126.7" width="11.2" height="15.75" fill="#56627e"/>
<rect x="447.05" y="126.7" width="11.2" height="15.75" fill="#56627e"/>
<rect x="457.85" y="126.7" width="11.2" height="15.75" fill="#2e4676"/>
<rect x="468.65" y="126.7" width="11.2" height="15.75" fill="#84848a"/>
<rect x="479.45" y="126.7" width="11.2" height="15.75" fill="#9a9688"/>
<rect x="490.25" y="126.7" width="11.2" height="15.75" fill="#828286"/>
<rect x="501.05" y="126.7" width="10.8" height="15.75" fill="#808084"/>
<rect x="425.45" y="142.05" width="11.2" height="15.75" fill="#5e6680"/>
<rect x="436.25" y="142.05" width="11.2" height="15.75" fill="#7a7a80"/>
<rect x="447.05" y="142.05" width="11.2" height="15.75" fill="#8c8a86"/>
<rect x="457.85" y="142.05" width="11.2" height="15.75" fill="#c8b684"/>
<rect x="468.65" y="142.05" width="11.2" height="15.75" fill="#8a8a86"/>
<rect x="479.45" y="142.05" width="11.2" height="15.75" fill="#c8b482"/>
<rect x="490.25" y="142.05" width="11.2" height="15.75" fill="#a49e88"/>
<rect x="501.05" y="142.05" width="10.8" height="15.75" fill="#808084"/>
<rect x="425.45" y="157.4" width="11.2" height="15.75" fill="#86868a"/>
<rect x="436.25" y="157.4" width="11.2" height="15.75" fill="#b4aa86"/>
<rect x="447.05" y="157.4" width="11.2" height="15.75" fill="#767882"/>
<rect x="457.85" y="157.4" width="11.2" height="15.75" fill="#8e8c88"/>
<rect x="468.65" y="157.4" width="11.2" height="15.75" fill="#7a7c82"/>
<rect x="479.45" y="157.4" width="11.2" height="15.75" fill="#566080"/>
<rect x="490.25" y="157.4" width="11.2" height="15.75" fill="#5e6680"/>
<rect x="501.05" y="157.4" width="10.8" height="15.75" fill="#8e8c88"/>
<rect x="425.45" y="172.75" width="11.2" height="15.75" fill="#868686"/>
<rect x="436.25" y="172.75" width="11.2" height="15.75" fill="#6c7080"/>
<rect x="447.05" y="172.75" width="11.2" height="15.75" fill="#b2a886"/>
<rect x="457.85" y="172.75" width="11.2" height="15.75" fill="#7c7c82"/>
<rect x="468.65" y="172.75" width="11.2" height="15.75" fill="#5e6680"/>
<rect x="479.45" y="172.75" width="11.2" height="15.75" fill="#8c8a86"/>
<rect x="490.25" y="172.75" width="11.2" height="15.75" fill="#7e7e82"/>
<rect x="501.05" y="172.75" width="10.8" height="15.75" fill="#949088"/>
<rect x="425.45" y="188.1" width="11.2" height="15.75" fill="#8e8a86"/>
<rect x="436.25" y="188.1" width="11.2" height="15.75" fill="#7a7c82"/>
<rect x="447.05" y="188.1" width="11.2" height="15.75" fill="#a8a088"/>
<rect x="457.85" y="188.1" width="11.2" height="15.75" fill="#6c7080"/>
<rect x="468.65" y="188.1" width="11.2" height="15.75" fill="#586482"/>
<rect x="479.45" y="188.1" width="11.2" height="15.75" fill="#848486"/>
<rect x="490.25" y="188.1" width="11.2" height="15.75" fill="#5e6680"/>
<rect x="501.05" y="188.1" width="10.8" height="15.75" fill="#8e8c88"/>
<rect x="425.45" y="203.45" width="11.2" height="15.75" fill="#848486"/>
<rect x="436.25" y="203.45" width="11.2" height="15.75" fill="#7a7c82"/>
<rect x="447.05" y="203.45" width="11.2" height="15.75" fill="#747680"/>
<rect x="457.85" y="203.45" width="11.2" height="15.75" fill="#a8a08a"/>
<rect x="468.65" y="203.45" width="11.2" height="15.75" fill="#8a8a88"/>
<rect x="479.45" y="203.45" width="11.2" height="15.75" fill="#8c8a88"/>
<rect x="490.25" y="203.45" width="11.2" height="15.75" fill="#8a8a88"/>
<rect x="501.05" y="203.45" width="10.8" height="15.75" fill="#72747e"/>
<rect x="425.45" y="218.8" width="11.2" height="15.35" fill="#c6b27c"/>
<rect x="436.25" y="218.8" width="11.2" height="15.35" fill="#6c7080"/>
<rect x="447.05" y="218.8" width="11.2" height="15.35" fill="#445c80"/>
<rect x="457.85" y="218.8" width="11.2" height="15.35" fill="#54607e"/>
<rect x="468.65" y="218.8" width="11.2" height="15.35" fill="#808084"/>
<rect x="479.45" y="218.8" width="11.2" height="15.35" fill="#8a8a88"/>
<rect x="490.25" y="218.8" width="11.2" height="15.35" fill="#948e86"/>
<rect x="501.05" y="218.8" width="10.8" height="15.35" fill="#96908a"/>
<text x="423.3" y="44.67" font-size="6.45" fill="#222" text-anchor="end" textLength="31.6" lengthAdjust="spacingAndGlyphs">WBC (n=52)</text>
<text x="423.3" y="60.02" font-size="6.45" fill="#222" text-anchor="end" textLength="40.3" lengthAdjust="spacingAndGlyphs">Survival (n=18)</text>
<text x="423.3" y="75.38" font-size="6.45" fill="#222" text-anchor="end" textLength="56.8" lengthAdjust="spacingAndGlyphs">Neutrophils % (n=49)</text>
<text x="423.3" y="90.73" font-size="6.45" fill="#222" text-anchor="end" textLength="55" lengthAdjust="spacingAndGlyphs">Monocytes % (n=49)</text>
<text x="423.3" y="106.08" font-size="6.45" fill="#222" text-anchor="end" textLength="56.2" lengthAdjust="spacingAndGlyphs">imm_grans % (n=36)</text>
<text x="423.3" y="121.43" font-size="6.45" fill="#222" text-anchor="end" textLength="56.2" lengthAdjust="spacingAndGlyphs">Eosinophils % (n=45)</text>
<text x="423.3" y="136.78" font-size="6.45" fill="#222" text-anchor="end" textLength="40.3" lengthAdjust="spacingAndGlyphs">Blasts % (n=47)</text>
<text x="423.3" y="152.12" font-size="6.45" fill="#222" text-anchor="end" textLength="50.8" lengthAdjust="spacingAndGlyphs">Basophils % (n=44)</text>
<text x="423.3" y="167.47" font-size="6.45" fill="#222" text-anchor="end" textLength="30.3" lengthAdjust="spacingAndGlyphs">MCV(n=48)</text>
<text x="423.3" y="182.82" font-size="6.45" fill="#222" text-anchor="end" textLength="30.3" lengthAdjust="spacingAndGlyphs">HCT (n=48)</text>
<text x="423.3" y="198.17" font-size="6.45" fill="#222" text-anchor="end" textLength="26.7" lengthAdjust="spacingAndGlyphs">Hb (n=50)</text>
<text x="423.3" y="213.53" font-size="6.45" fill="#222" text-anchor="end" textLength="63.5" lengthAdjust="spacingAndGlyphs">bm_cellularity % (n=47)</text>
<text x="423.3" y="228.88" font-size="6.45" fill="#222" text-anchor="end" textLength="29.2" lengthAdjust="spacingAndGlyphs">Age (n=52)</text>
<rect x="425.75" y="236.3" width="9.25" height="3.7" fill="#6aa3d8"/>
<rect x="436.55" y="236.3" width="9.25" height="3.7" fill="#3a5a8a"/>
<rect x="447.35" y="236.3" width="9.25" height="3.7" fill="#6a4a28"/>
<rect x="458.15" y="236.3" width="9.25" height="3.7" fill="#f0b832"/>
<rect x="468.95" y="236.3" width="9.25" height="3.7" fill="#6aaa50"/>
<rect x="479.75" y="236.3" width="9.25" height="3.7" fill="#b0283c"/>
<rect x="490.55" y="236.3" width="9.25" height="3.7" fill="#111111"/>
<rect x="501.35" y="236.3" width="9.25" height="3.7" fill="#e0a090"/>
<text transform="translate(433.45 243.2) rotate(-45)" font-size="6.6" fill="#222" text-anchor="end">Mod1</text>
<text transform="translate(444.25 243.2) rotate(-45)" font-size="6.6" fill="#222" text-anchor="end">Mod2</text>
<text transform="translate(455.05 243.2) rotate(-45)" font-size="6.6" fill="#222" text-anchor="end">Mod3</text>
<text transform="translate(465.85 243.2) rotate(-45)" font-size="6.6" fill="#222" text-anchor="end">Mod4</text>
<text transform="translate(476.65 243.2) rotate(-45)" font-size="6.6" fill="#222" text-anchor="end">Mod5</text>
<text transform="translate(487.45 243.2) rotate(-45)" font-size="6.6" fill="#222" text-anchor="end">Mod6</text>
<text transform="translate(498.25 243.2) rotate(-45)" font-size="6.6" fill="#222" text-anchor="end">Mod7</text>
<text transform="translate(509.05 243.2) rotate(-45)" font-size="6.6" fill="#222" text-anchor="end">Mod8</text>
<rect x="457.7" y="267.9" width="39.6" height="7.7" fill="url(#gc)"/>
<text x="434.2" y="273.5" font-size="6.6" fill="#222" textLength="21.2" lengthAdjust="spacingAndGlyphs">pearson</text>
<text x="461.7" y="265.9" font-size="6.1" fill="#222" text-anchor="middle">0.5</text>
<text x="478.8" y="265.9" font-size="6.1" fill="#222" text-anchor="middle">0.0</text>
<text x="492.9" y="265.9" font-size="6.1" fill="#222" text-anchor="middle">−0.5</text>
<rect x="47.9" y="345.62" width="3.2" height="61.58" fill="#70afe0"/>
<rect x="51.1" y="324.58" width="3.2" height="82.62" fill="#3c5a8a"/>
<rect x="54.3" y="329.92" width="3.2" height="77.28" fill="#b8b890"/>
<rect x="58.15" y="400.33" width="3.2" height="6.87" fill="#70afe0"/>
<rect x="61.35" y="355.97" width="3.2" height="51.23" fill="#3c5a8a"/>
<rect x="64.55" y="351.94" width="3.2" height="55.26" fill="#b8b890"/>
<rect x="68.4" y="359.24" width="3.2" height="47.96" fill="#70afe0"/>
<rect x="71.6" y="395.65" width="3.2" height="11.55" fill="#3c5a8a"/>
<rect x="74.8" y="363.16" width="3.2" height="44.04" fill="#b8b890"/>
<rect x="81.85" y="388.02" width="3.2" height="19.18" fill="#3c5a8a"/>
<rect x="85.05" y="363.16" width="3.2" height="44.04" fill="#b8b890"/>
<rect x="92.1" y="371.99" width="3.2" height="35.21" fill="#3c5a8a"/>
<rect x="95.3" y="396.52" width="3.2" height="10.68" fill="#b8b890"/>
<rect x="102.35" y="402.95" width="3.2" height="4.25" fill="#3c5a8a"/>
<rect x="105.55" y="374.5" width="3.2" height="32.7" fill="#b8b890"/>
<rect x="109.4" y="386.49" width="3.2" height="20.71" fill="#70afe0"/>
<rect x="112.6" y="388.02" width="3.2" height="19.18" fill="#3c5a8a"/>
<rect x="115.8" y="374.5" width="3.2" height="32.7" fill="#b8b890"/>
<rect x="122.85" y="375.59" width="3.2" height="31.61" fill="#3c5a8a"/>
<rect x="129.9" y="379.95" width="3.2" height="27.25" fill="#70afe0"/>
<rect x="133.1" y="391.94" width="3.2" height="15.26" fill="#3c5a8a"/>
<rect x="136.3" y="396.3" width="3.2" height="10.9" fill="#b8b890"/>
<rect x="143.35" y="383.22" width="3.2" height="23.98" fill="#3c5a8a"/>
<rect x="146.55" y="396.3" width="3.2" height="10.9" fill="#b8b890"/>
<rect x="156.8" y="385.4" width="3.2" height="21.8" fill="#b8b890"/>
<rect x="160.65" y="385.94" width="3.2" height="21.25" fill="#70afe0"/>
<rect x="163.85" y="403.49" width="3.2" height="3.71" fill="#3c5a8a"/>
<rect x="170.9" y="386.49" width="3.2" height="20.71" fill="#70afe0"/>
<rect x="174.1" y="403.49" width="3.2" height="3.71" fill="#3c5a8a"/>
<rect x="184.35" y="391.94" width="3.2" height="15.26" fill="#3c5a8a"/>
<rect x="191.4" y="393.57" width="3.2" height="13.62" fill="#70afe0"/>
<rect x="194.6" y="399.57" width="3.2" height="7.63" fill="#3c5a8a"/>
<rect x="201.65" y="393.57" width="3.2" height="13.62" fill="#70afe0"/>
<rect x="215.1" y="395.21" width="3.2" height="11.99" fill="#3c5a8a"/>
<rect x="218.3" y="395.75" width="3.2" height="11.45" fill="#b8b890"/>
<rect x="228.55" y="395.75" width="3.2" height="11.45" fill="#b8b890"/>
<rect x="235.6" y="403.6" width="3.2" height="3.6" fill="#3c5a8a"/>
<rect x="238.8" y="396.3" width="3.2" height="10.9" fill="#b8b890"/>
<rect x="245.85" y="403.6" width="3.2" height="3.6" fill="#3c5a8a"/>
<rect x="249.05" y="396.3" width="3.2" height="10.9" fill="#b8b890"/>
<rect x="259.3" y="396.3" width="3.2" height="10.9" fill="#b8b890"/>
<rect x="269.55" y="396.3" width="3.2" height="10.9" fill="#b8b890"/>
<rect x="273.4" y="400.66" width="3.2" height="6.54" fill="#70afe0"/>
<rect x="279.8" y="396.3" width="3.2" height="10.9" fill="#b8b890"/>
<rect x="286.85" y="403.6" width="3.2" height="3.6" fill="#3c5a8a"/>
<rect x="290.05" y="396.3" width="3.2" height="10.9" fill="#b8b890"/>
<rect x="297.1" y="399.57" width="3.2" height="7.63" fill="#3c5a8a"/>
<rect x="304.15" y="400.66" width="3.2" height="6.54" fill="#70afe0"/>
<rect x="307.35" y="403.6" width="3.2" height="3.6" fill="#3c5a8a"/>
<rect x="314.4" y="400.66" width="3.2" height="6.54" fill="#70afe0"/>
<rect x="324.65" y="400.66" width="3.2" height="6.54" fill="#70afe0"/>
<rect x="327.85" y="403.6" width="3.2" height="3.6" fill="#3c5a8a"/>
<rect x="334.9" y="400.66" width="3.2" height="6.54" fill="#70afe0"/>
<rect x="348.35" y="403.6" width="3.2" height="3.6" fill="#3c5a8a"/>
<rect x="358.6" y="403.6" width="3.2" height="3.6" fill="#3c5a8a"/>
<rect x="368.85" y="403.6" width="3.2" height="3.6" fill="#3c5a8a"/>
<rect x="379.1" y="403.6" width="3.2" height="3.6" fill="#3c5a8a"/>
<rect x="389.35" y="403.6" width="3.2" height="3.6" fill="#3c5a8a"/>
<rect x="399.6" y="403.6" width="3.2" height="3.6" fill="#3c5a8a"/>
<rect x="409.85" y="403.6" width="3.2" height="3.6" fill="#3c5a8a"/>
<rect x="420.1" y="403.6" width="3.2" height="3.6" fill="#3c5a8a"/>
<rect x="430.35" y="403.6" width="3.2" height="3.6" fill="#3c5a8a"/>
<rect x="440.6" y="403.6" width="3.2" height="3.6" fill="#3c5a8a"/>
<path fill="none" stroke="#161616" stroke-width="1" d="M46.6 320.8V407.3H447.7M43.4 341.7H46.6M43.4 363.5H46.6M43.4 385.3H46.6M43.4 407.3H46.6"/>
<text x="40.9" y="343.7" font-size="5.8" fill="#222" text-anchor="end">0.6</text>
<text x="40.9" y="365.5" font-size="5.8" fill="#222" text-anchor="end">0.4</text>
<text x="40.9" y="387.3" font-size="5.8" fill="#222" text-anchor="end">0.2</text>
<text x="40.9" y="409.2" font-size="5.8" fill="#222" text-anchor="end">0.0</text>
<text transform="translate(26.3 364.8) rotate(-90)" font-size="8.1" fill="#222" text-anchor="middle" textLength="72.5" lengthAdjust="spacingAndGlyphs">Proportion in cluster</text>
<text transform="translate(55.9 412.9) rotate(-45)" font-size="6.2" fill="#222" text-anchor="end" textLength="17.76" lengthAdjust="spacingAndGlyphs">ASXL1</text>
<text transform="translate(66.15 412.9) rotate(-45)" font-size="6.2" fill="#222" text-anchor="end" textLength="18.38" lengthAdjust="spacingAndGlyphs">SRSF2</text>
<text transform="translate(76.4 412.9) rotate(-45)" font-size="6.2" fill="#222" text-anchor="end" textLength="18.7" lengthAdjust="spacingAndGlyphs">CSF3R</text>
<text transform="translate(86.65 412.9) rotate(-45)" font-size="6.2" fill="#222" text-anchor="end" textLength="14.58" lengthAdjust="spacingAndGlyphs">EZH2</text>
<text transform="translate(96.9 412.9) rotate(-45)" font-size="6.2" fill="#222" text-anchor="end" textLength="13.94" lengthAdjust="spacingAndGlyphs">TET2</text>
<text transform="translate(107.15 412.9) rotate(-45)" font-size="6.2" fill="#222" text-anchor="end" textLength="21.13" lengthAdjust="spacingAndGlyphs">PTPN11</text>
<text transform="translate(117.4 412.9) rotate(-45)" font-size="6.2" fill="#222" text-anchor="end" textLength="21.87" lengthAdjust="spacingAndGlyphs">SETBP1</text>
<text transform="translate(127.65 412.9) rotate(-45)" font-size="6.2" fill="#222" text-anchor="end" textLength="15.85" lengthAdjust="spacingAndGlyphs">NRAS</text>
<text transform="translate(137.9 412.9) rotate(-45)" font-size="6.2" fill="#222" text-anchor="end" textLength="17.75" lengthAdjust="spacingAndGlyphs">U2AF1</text>
<text transform="translate(148.15 412.9) rotate(-45)" font-size="6.2" fill="#222" text-anchor="end" textLength="17.86" lengthAdjust="spacingAndGlyphs">GATA2</text>
<text transform="translate(158.4 412.9) rotate(-45)" font-size="6.2" fill="#222" text-anchor="end" textLength="10.78" lengthAdjust="spacingAndGlyphs">NF1</text>
<text transform="translate(168.65 412.9) rotate(-45)" font-size="6.2" fill="#222" text-anchor="end" textLength="23.45" lengthAdjust="spacingAndGlyphs">DNMT3A</text>
<text transform="translate(178.9 412.9) rotate(-45)" font-size="6.2" fill="#222" text-anchor="end" textLength="13.63" lengthAdjust="spacingAndGlyphs">JAK2</text>
<text transform="translate(189.15 412.9) rotate(-45)" font-size="6.2" fill="#222" text-anchor="end" textLength="18.28" lengthAdjust="spacingAndGlyphs">STAG2</text>
<text transform="translate(199.4 412.9) rotate(-45)" font-size="6.2" fill="#222" text-anchor="end" textLength="11.1" lengthAdjust="spacingAndGlyphs">CBL</text>
<text transform="translate(209.65 412.9) rotate(-45)" font-size="6.2" fill="#222" text-anchor="end" textLength="19.65" lengthAdjust="spacingAndGlyphs">PPM1D</text>
<text transform="translate(219.9 412.9) rotate(-45)" font-size="6.2" fill="#222" text-anchor="end" textLength="19.33" lengthAdjust="spacingAndGlyphs">RUNX1</text>
<text transform="translate(230.15 412.9) rotate(-45)" font-size="6.2" fill="#222" text-anchor="end" textLength="18.91" lengthAdjust="spacingAndGlyphs">CEBPA</text>
<text transform="translate(240.4 412.9) rotate(-45)" font-size="6.2" fill="#222" text-anchor="end" textLength="15.22" lengthAdjust="spacingAndGlyphs">CUX1</text>
<text transform="translate(250.65 412.9) rotate(-45)" font-size="6.2" fill="#222" text-anchor="end" textLength="18.38" lengthAdjust="spacingAndGlyphs">ETNK1</text>
<text transform="translate(260.9 412.9) rotate(-45)" font-size="6.2" fill="#222" text-anchor="end" textLength="18.71" lengthAdjust="spacingAndGlyphs">PDS5B</text>
<text transform="translate(271.15 412.9) rotate(-45)" font-size="6.2" fill="#222" text-anchor="end" textLength="18.07" lengthAdjust="spacingAndGlyphs">SH2B3</text>
<text transform="translate(281.4 412.9) rotate(-45)" font-size="6.2" fill="#222" text-anchor="end" textLength="17.75" lengthAdjust="spacingAndGlyphs">U2AF2</text>
<text transform="translate(291.65 412.9) rotate(-45)" font-size="6.2" fill="#222" text-anchor="end" textLength="18.7" lengthAdjust="spacingAndGlyphs">ZRSR2</text>
<text transform="translate(301.9 412.9) rotate(-45)" font-size="6.2" fill="#222" text-anchor="end" textLength="15.85" lengthAdjust="spacingAndGlyphs">NPM1</text>
<text transform="translate(312.15 412.9) rotate(-45)" font-size="6.2" fill="#222" text-anchor="end" textLength="13.95" lengthAdjust="spacingAndGlyphs">ABL1</text>
<text transform="translate(322.4 412.9) rotate(-45)" font-size="6.2" fill="#222" text-anchor="end" textLength="13.63" lengthAdjust="spacingAndGlyphs">JAK1</text>
<text transform="translate(332.65 412.9) rotate(-45)" font-size="6.2" fill="#222" text-anchor="end" textLength="14.58" lengthAdjust="spacingAndGlyphs">PHF6</text>
<text transform="translate(342.9 412.9) rotate(-45)" font-size="6.2" fill="#222" text-anchor="end" textLength="18.39" lengthAdjust="spacingAndGlyphs">RAD21</text>
<text transform="translate(353.15 412.9) rotate(-45)" font-size="6.2" fill="#222" text-anchor="end" textLength="30.76" lengthAdjust="spacingAndGlyphs">ABL1 fusion</text>
<text transform="translate(363.4 412.9) rotate(-45)" font-size="6.2" fill="#222" text-anchor="end" textLength="17.76" lengthAdjust="spacingAndGlyphs">ASXL2</text>
<text transform="translate(373.65 412.9) rotate(-45)" font-size="6.2" fill="#222" text-anchor="end" textLength="16.48" lengthAdjust="spacingAndGlyphs">BCOR</text>
<text transform="translate(383.9 412.9) rotate(-45)" font-size="6.2" fill="#222" text-anchor="end" textLength="19.33" lengthAdjust="spacingAndGlyphs">BRCC3</text>
<text transform="translate(394.15 412.9) rotate(-45)" font-size="6.2" fill="#222" text-anchor="end" textLength="14.9" lengthAdjust="spacingAndGlyphs">CBLB</text>
<text transform="translate(404.4 412.9) rotate(-45)" font-size="6.2" fill="#222" text-anchor="end" textLength="12.89" lengthAdjust="spacingAndGlyphs">FLT3</text>
<text transform="translate(414.65 412.9) rotate(-45)" font-size="6.2" fill="#222" text-anchor="end" textLength="29.69" lengthAdjust="spacingAndGlyphs">FLT3 fusion</text>
<text transform="translate(424.9 412.9) rotate(-45)" font-size="6.2" fill="#222" text-anchor="end" textLength="17.44" lengthAdjust="spacingAndGlyphs">SF3B1</text>
<text transform="translate(435.15 412.9) rotate(-45)" font-size="6.2" fill="#222" text-anchor="end" textLength="19.65" lengthAdjust="spacingAndGlyphs">SMC1A</text>
<text transform="translate(445.4 412.9) rotate(-45)" font-size="6.2" fill="#222" text-anchor="end" textLength="16.9" lengthAdjust="spacingAndGlyphs">STAT3</text>
<text x="449.1" y="351.5" font-size="6.6" fill="#222" textLength="17.8" lengthAdjust="spacingAndGlyphs" font-style="italic">cluster</text>
<rect x="454.9" y="359.3" width="7.2" height="6.7" fill="#70afe0"/>
<text x="465.4" y="364.7" font-size="6.4" fill="#222">1</text>
<rect x="454.9" y="367.15" width="7.2" height="6.7" fill="#3c5a8a"/>
<text x="465.4" y="372.55" font-size="6.4" fill="#222">2</text>
<rect x="454.9" y="375" width="7.2" height="6.7" fill="#b8b890"/>
<text x="465.4" y="380.4" font-size="6.4" fill="#222">3</text>
<text x="7.1" y="16.7" font-size="11.2" fill="#111">A</text>
<text x="7.5" y="314.9" font-size="11.2" fill="#111">B</text>
<text x="343.4" y="16.8" font-size="11.2" fill="#111">C</text>
<rect x="0" y="0" width="1" height="445" fill="#444"/><rect x="1" y="0" width="1" height="445" fill="#9c9c9c"/>
<rect x="518" y="0" width="1" height="445" fill="#8c8c8c"/><rect x="519" y="0" width="1" height="445" fill="#464646"/>
<rect x="0" y="443" width="520" height="1" fill="#8c8c8c"/><rect x="0" y="444" width="520" height="1" fill="#3c3c3c"/>
<rect x="0" y="0" width="520" height="1" fill="#111"/>
</svg>
</body></html>
